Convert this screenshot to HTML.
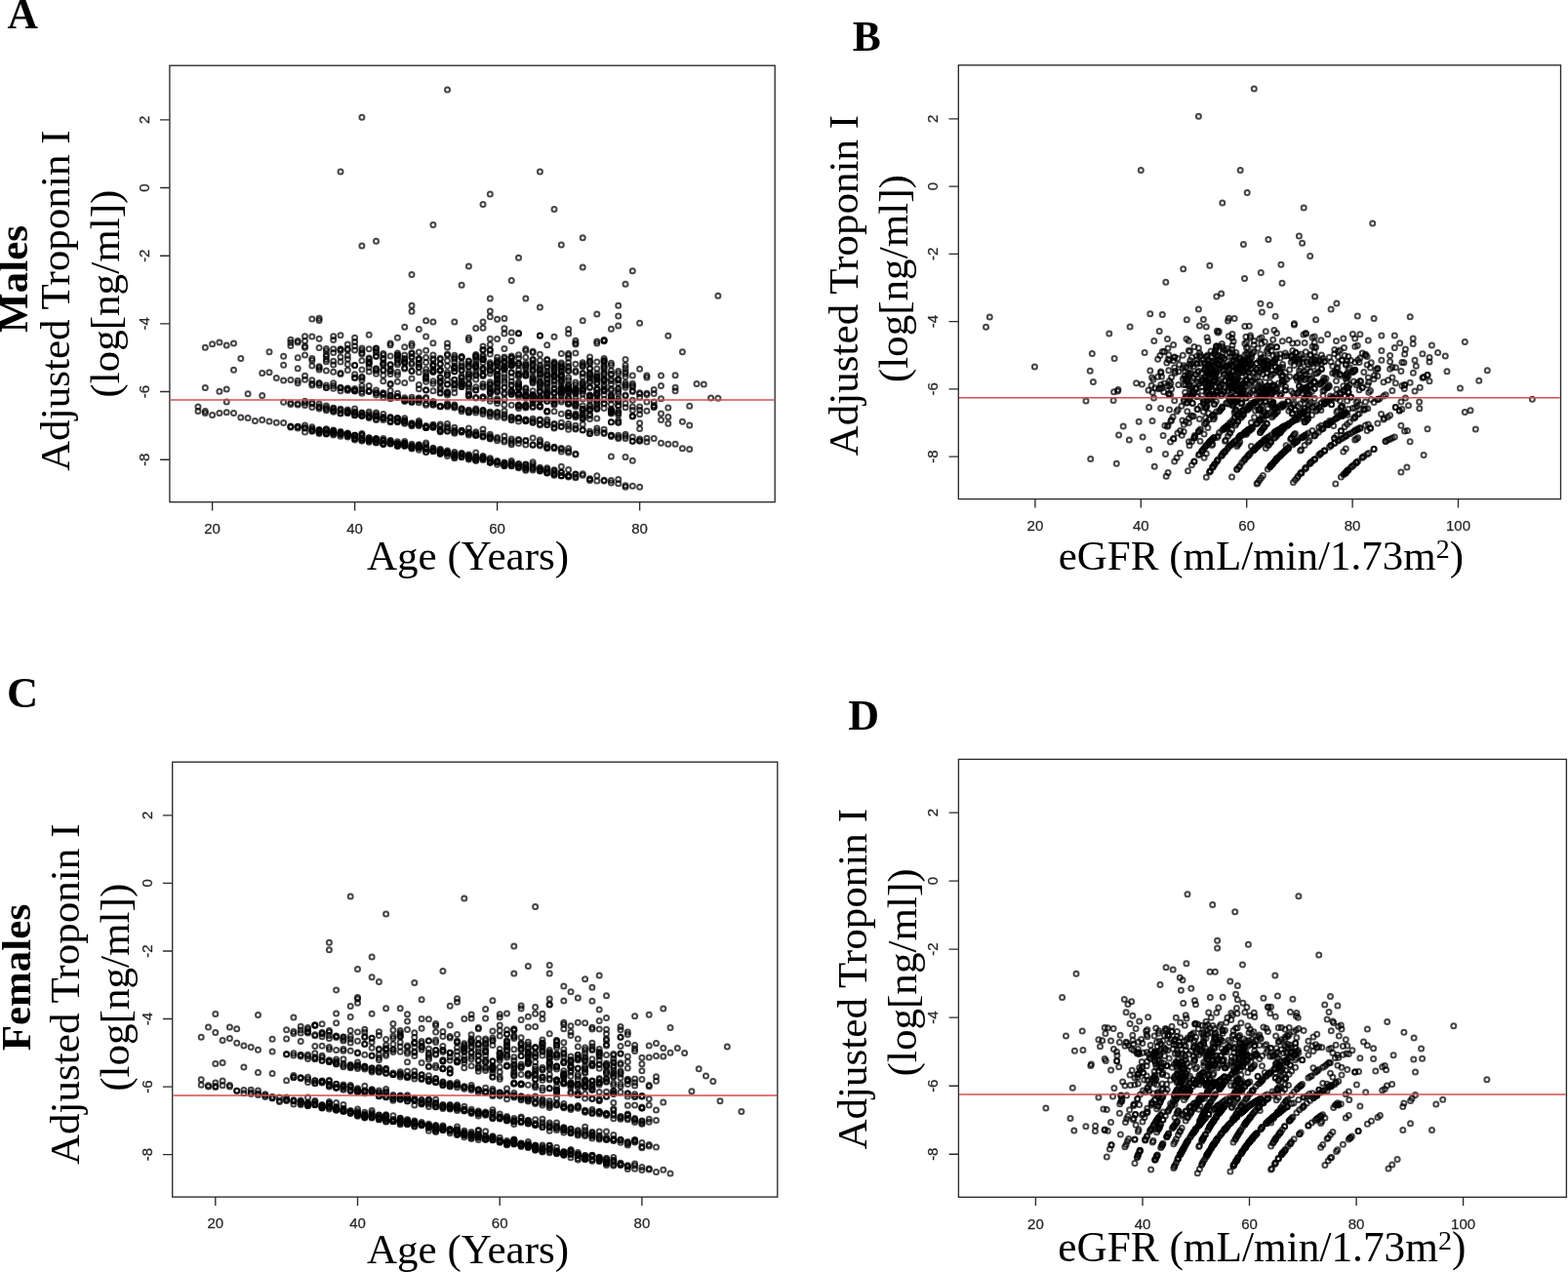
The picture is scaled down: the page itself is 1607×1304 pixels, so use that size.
<!DOCTYPE html><html><head><meta charset="utf-8"><title>Adjusted Troponin I by age and eGFR</title><style>html,body{margin:0;padding:0;background:#fff;overflow:hidden}svg{display:block}.tk{font-family:"Liberation Sans", Arial, Helvetica, sans-serif;font-size:15px;fill:#262626;stroke:#262626;stroke-width:0.25px}.tt{font-family:"Liberation Serif", "Times New Roman", Times, serif;font-size:43.1px;fill:#000}.ttb{font-family:"Liberation Serif", "Times New Roman", Times, serif;font-size:43px;font-weight:bold;fill:#000}.lab{font-family:"Liberation Serif", "Times New Roman", Times, serif;font-weight:bold;fill:#000}.ax{stroke:#2b2b2b;stroke-width:1.35;fill:none}.pt circle{r:2.5px;fill:none;stroke:#000;stroke-opacity:0.72;stroke-width:2.0}</style></head><body><svg width="1607" height="1304" viewBox="0 0 1607 1304">
<text x="7.6" y="28.9" class="lab" style="font-size:43.5px">A</text>
<text transform="translate(71.2 483.0) rotate(-90)" class="tt">Adjusted Troponin I</text>
<text transform="translate(122.4 407.7) rotate(-90)" class="tt">(log[ng/ml])</text>
<text transform="translate(27.9 340.9) rotate(-90)" class="ttb">Males</text>
<text x="376.0" y="584.1" class="tt" style="font-size:43.0px">Age (Years)</text>
<rect x="173.9" y="67.2" width="620.3" height="447.5" class="ax" fill="none"/>
<text x="217.6" y="546.7" class="tk" text-anchor="middle">20</text>
<text x="363.6" y="546.7" class="tk" text-anchor="middle">40</text>
<text x="509.6" y="546.7" class="tk" text-anchor="middle">60</text>
<text x="655.6" y="546.7" class="tk" text-anchor="middle">80</text>
<text transform="translate(152.7 122.8) rotate(-90)" class="tk" text-anchor="middle">2</text>
<text transform="translate(152.7 192.5) rotate(-90)" class="tk" text-anchor="middle">0</text>
<text transform="translate(152.7 262.2) rotate(-90)" class="tk" text-anchor="middle">-2</text>
<text transform="translate(152.7 331.9) rotate(-90)" class="tk" text-anchor="middle">-4</text>
<text transform="translate(152.7 401.5) rotate(-90)" class="tk" text-anchor="middle">-6</text>
<text transform="translate(152.7 471.2) rotate(-90)" class="tk" text-anchor="middle">-8</text>
<path d="M217.6 514.7V523.5M363.6 514.7V523.5M509.6 514.7V523.5M655.6 514.7V523.5M164.1 122.8H173.9M164.1 192.5H173.9M164.1 262.2H173.9M164.1 331.9H173.9M164.1 401.5H173.9M164.1 471.2H173.9" class="ax"/>
<g class="pt"><circle cx="203.0" cy="417.1"/><circle cx="203.0" cy="421.5"/><circle cx="210.3" cy="423.5"/><circle cx="210.3" cy="421.5"/><circle cx="210.3" cy="397.4"/><circle cx="217.6" cy="425.4"/><circle cx="217.6" cy="352.8"/><circle cx="224.9" cy="423.4"/><circle cx="224.9" cy="401.2"/><circle cx="224.9" cy="351.0"/><circle cx="232.2" cy="422.7"/><circle cx="232.2" cy="399.1"/><circle cx="232.2" cy="354.0"/><circle cx="239.5" cy="423.6"/><circle cx="239.5" cy="379.3"/><circle cx="239.5" cy="352.1"/><circle cx="246.8" cy="428.1"/><circle cx="246.8" cy="367.6"/><circle cx="254.1" cy="428.4"/><circle cx="254.1" cy="403.7"/><circle cx="261.4" cy="431.6"/><circle cx="268.7" cy="430.5"/><circle cx="268.7" cy="405.4"/><circle cx="276.0" cy="432.1"/><circle cx="276.0" cy="381.7"/><circle cx="276.0" cy="360.8"/><circle cx="283.3" cy="433.3"/><circle cx="283.3" cy="387.5"/><circle cx="290.6" cy="433.4"/><circle cx="290.6" cy="412.3"/><circle cx="290.6" cy="389.9"/><circle cx="290.6" cy="365.3"/><circle cx="290.6" cy="374.3"/><circle cx="297.9" cy="437.9"/><circle cx="297.9" cy="437.1"/><circle cx="297.9" cy="437.4"/><circle cx="297.9" cy="413.1"/><circle cx="297.9" cy="414.6"/><circle cx="297.9" cy="389.6"/><circle cx="297.9" cy="351.3"/><circle cx="297.9" cy="354.6"/><circle cx="297.9" cy="348.3"/><circle cx="305.2" cy="437.3"/><circle cx="305.2" cy="437.4"/><circle cx="305.2" cy="437.6"/><circle cx="305.2" cy="438.9"/><circle cx="305.2" cy="414.9"/><circle cx="305.2" cy="413.7"/><circle cx="305.2" cy="390.2"/><circle cx="305.2" cy="392.8"/><circle cx="305.2" cy="350.9"/><circle cx="305.2" cy="349.6"/><circle cx="305.2" cy="366.7"/><circle cx="305.2" cy="377.8"/><circle cx="312.5" cy="438.6"/><circle cx="312.5" cy="436.1"/><circle cx="312.5" cy="442.9"/><circle cx="312.5" cy="439.1"/><circle cx="312.5" cy="415.6"/><circle cx="312.5" cy="413.0"/><circle cx="312.5" cy="411.3"/><circle cx="312.5" cy="389.2"/><circle cx="312.5" cy="385.2"/><circle cx="312.5" cy="344.7"/><circle cx="312.5" cy="356.3"/><circle cx="312.5" cy="363.9"/><circle cx="312.5" cy="355.0"/><circle cx="312.5" cy="349.4"/><circle cx="319.8" cy="437.8"/><circle cx="319.8" cy="439.5"/><circle cx="319.8" cy="440.8"/><circle cx="319.8" cy="442.2"/><circle cx="319.8" cy="441.5"/><circle cx="319.8" cy="412.5"/><circle cx="319.8" cy="417.5"/><circle cx="319.8" cy="413.9"/><circle cx="319.8" cy="394.9"/><circle cx="319.8" cy="389.8"/><circle cx="319.8" cy="393.2"/><circle cx="319.8" cy="345.1"/><circle cx="319.8" cy="369.4"/><circle cx="319.8" cy="327.0"/><circle cx="319.8" cy="367.4"/><circle cx="319.8" cy="374.9"/><circle cx="327.1" cy="444.4"/><circle cx="327.1" cy="440.6"/><circle cx="327.1" cy="440.9"/><circle cx="327.1" cy="441.2"/><circle cx="327.1" cy="441.2"/><circle cx="327.1" cy="443.5"/><circle cx="327.1" cy="442.7"/><circle cx="327.1" cy="416.8"/><circle cx="327.1" cy="413.9"/><circle cx="327.1" cy="419.1"/><circle cx="327.1" cy="417.6"/><circle cx="327.1" cy="395.0"/><circle cx="327.1" cy="392.7"/><circle cx="327.1" cy="393.0"/><circle cx="327.1" cy="379.0"/><circle cx="327.1" cy="326.2"/><circle cx="327.1" cy="356.6"/><circle cx="327.1" cy="375.8"/><circle cx="327.1" cy="347.2"/><circle cx="327.1" cy="328.4"/><circle cx="327.1" cy="376.9"/><circle cx="334.4" cy="440.0"/><circle cx="334.4" cy="439.9"/><circle cx="334.4" cy="441.1"/><circle cx="334.4" cy="444.5"/><circle cx="334.4" cy="444.2"/><circle cx="334.4" cy="442.5"/><circle cx="334.4" cy="445.1"/><circle cx="334.4" cy="418.1"/><circle cx="334.4" cy="416.1"/><circle cx="334.4" cy="419.3"/><circle cx="334.4" cy="420.7"/><circle cx="334.4" cy="395.0"/><circle cx="334.4" cy="397.3"/><circle cx="334.4" cy="397.5"/><circle cx="334.4" cy="370.8"/><circle cx="334.4" cy="379.9"/><circle cx="334.4" cy="368.6"/><circle cx="334.4" cy="363.4"/><circle cx="334.4" cy="359.7"/><circle cx="334.4" cy="365.6"/><circle cx="334.4" cy="357.6"/><circle cx="341.7" cy="444.5"/><circle cx="341.7" cy="441.6"/><circle cx="341.7" cy="442.4"/><circle cx="341.7" cy="443.3"/><circle cx="341.7" cy="441.1"/><circle cx="341.7" cy="443.9"/><circle cx="341.7" cy="445.9"/><circle cx="341.7" cy="418.8"/><circle cx="341.7" cy="418.2"/><circle cx="341.7" cy="420.5"/><circle cx="341.7" cy="421.3"/><circle cx="341.7" cy="422.2"/><circle cx="341.7" cy="395.5"/><circle cx="341.7" cy="392.8"/><circle cx="341.7" cy="398.2"/><circle cx="341.7" cy="357.7"/><circle cx="341.7" cy="370.2"/><circle cx="341.7" cy="373.9"/><circle cx="341.7" cy="381.2"/><circle cx="341.7" cy="344.8"/><circle cx="341.7" cy="348.4"/><circle cx="341.7" cy="361.5"/><circle cx="349.0" cy="445.1"/><circle cx="349.0" cy="445.1"/><circle cx="349.0" cy="443.6"/><circle cx="349.0" cy="443.4"/><circle cx="349.0" cy="444.9"/><circle cx="349.0" cy="442.6"/><circle cx="349.0" cy="445.0"/><circle cx="349.0" cy="447.3"/><circle cx="349.0" cy="423.6"/><circle cx="349.0" cy="420.3"/><circle cx="349.0" cy="419.3"/><circle cx="349.0" cy="423.9"/><circle cx="349.0" cy="420.9"/><circle cx="349.0" cy="397.6"/><circle cx="349.0" cy="400.8"/><circle cx="349.0" cy="397.8"/><circle cx="349.0" cy="397.4"/><circle cx="349.0" cy="365.9"/><circle cx="349.0" cy="343.8"/><circle cx="349.0" cy="359.5"/><circle cx="349.0" cy="371.0"/><circle cx="349.0" cy="382.4"/><circle cx="349.0" cy="383.6"/><circle cx="349.0" cy="358.1"/><circle cx="349.0" cy="358.1"/><circle cx="356.3" cy="446.0"/><circle cx="356.3" cy="447.1"/><circle cx="356.3" cy="445.8"/><circle cx="356.3" cy="444.8"/><circle cx="356.3" cy="444.8"/><circle cx="356.3" cy="446.3"/><circle cx="356.3" cy="448.1"/><circle cx="356.3" cy="444.0"/><circle cx="356.3" cy="419.9"/><circle cx="356.3" cy="423.4"/><circle cx="356.3" cy="421.8"/><circle cx="356.3" cy="423.2"/><circle cx="356.3" cy="422.4"/><circle cx="356.3" cy="421.6"/><circle cx="356.3" cy="398.7"/><circle cx="356.3" cy="398.1"/><circle cx="356.3" cy="399.6"/><circle cx="356.3" cy="400.3"/><circle cx="356.3" cy="373.5"/><circle cx="356.3" cy="364.6"/><circle cx="356.3" cy="368.0"/><circle cx="356.3" cy="357.6"/><circle cx="356.3" cy="352.9"/><circle cx="356.3" cy="358.8"/><circle cx="356.3" cy="379.6"/><circle cx="363.6" cy="446.3"/><circle cx="363.6" cy="449.5"/><circle cx="363.6" cy="450.9"/><circle cx="363.6" cy="446.5"/><circle cx="363.6" cy="446.6"/><circle cx="363.6" cy="446.2"/><circle cx="363.6" cy="449.8"/><circle cx="363.6" cy="448.5"/><circle cx="363.6" cy="425.7"/><circle cx="363.6" cy="422.9"/><circle cx="363.6" cy="425.7"/><circle cx="363.6" cy="422.0"/><circle cx="363.6" cy="419.0"/><circle cx="363.6" cy="424.0"/><circle cx="363.6" cy="398.4"/><circle cx="363.6" cy="400.2"/><circle cx="363.6" cy="400.4"/><circle cx="363.6" cy="400.9"/><circle cx="363.6" cy="400.1"/><circle cx="363.6" cy="374.6"/><circle cx="363.6" cy="383.7"/><circle cx="363.6" cy="374.6"/><circle cx="363.6" cy="354.7"/><circle cx="363.6" cy="386.9"/><circle cx="363.6" cy="346.2"/><circle cx="363.6" cy="359.0"/><circle cx="363.6" cy="387.4"/><circle cx="363.6" cy="350.6"/><circle cx="370.9" cy="446.5"/><circle cx="370.9" cy="449.6"/><circle cx="370.9" cy="444.4"/><circle cx="370.9" cy="451.2"/><circle cx="370.9" cy="445.5"/><circle cx="370.9" cy="449.7"/><circle cx="370.9" cy="448.7"/><circle cx="370.9" cy="452.0"/><circle cx="370.9" cy="426.3"/><circle cx="370.9" cy="425.5"/><circle cx="370.9" cy="423.3"/><circle cx="370.9" cy="423.3"/><circle cx="370.9" cy="426.2"/><circle cx="370.9" cy="426.3"/><circle cx="370.9" cy="398.7"/><circle cx="370.9" cy="403.3"/><circle cx="370.9" cy="401.5"/><circle cx="370.9" cy="395.6"/><circle cx="370.9" cy="387.1"/><circle cx="370.9" cy="386.6"/><circle cx="370.9" cy="389.5"/><circle cx="370.9" cy="379.1"/><circle cx="370.9" cy="358.9"/><circle cx="370.9" cy="369.7"/><circle cx="370.9" cy="357.1"/><circle cx="370.9" cy="363.1"/><circle cx="370.9" cy="361.8"/><circle cx="378.2" cy="452.3"/><circle cx="378.2" cy="451.0"/><circle cx="378.2" cy="453.2"/><circle cx="378.2" cy="450.4"/><circle cx="378.2" cy="448.8"/><circle cx="378.2" cy="451.2"/><circle cx="378.2" cy="451.2"/><circle cx="378.2" cy="448.9"/><circle cx="378.2" cy="427.6"/><circle cx="378.2" cy="427.0"/><circle cx="378.2" cy="428.6"/><circle cx="378.2" cy="426.5"/><circle cx="378.2" cy="422.3"/><circle cx="378.2" cy="424.4"/><circle cx="378.2" cy="400.9"/><circle cx="378.2" cy="401.6"/><circle cx="378.2" cy="395.5"/><circle cx="378.2" cy="400.4"/><circle cx="378.2" cy="370.8"/><circle cx="378.2" cy="372.1"/><circle cx="378.2" cy="367.9"/><circle cx="378.2" cy="366.9"/><circle cx="378.2" cy="380.9"/><circle cx="378.2" cy="373.2"/><circle cx="378.2" cy="371.5"/><circle cx="378.2" cy="343.3"/><circle cx="378.2" cy="357.7"/><circle cx="378.2" cy="376.4"/><circle cx="385.5" cy="450.0"/><circle cx="385.5" cy="449.8"/><circle cx="385.5" cy="453.6"/><circle cx="385.5" cy="450.0"/><circle cx="385.5" cy="451.3"/><circle cx="385.5" cy="452.0"/><circle cx="385.5" cy="450.1"/><circle cx="385.5" cy="454.1"/><circle cx="385.5" cy="429.4"/><circle cx="385.5" cy="426.5"/><circle cx="385.5" cy="430.4"/><circle cx="385.5" cy="424.8"/><circle cx="385.5" cy="422.9"/><circle cx="385.5" cy="427.1"/><circle cx="385.5" cy="402.7"/><circle cx="385.5" cy="399.9"/><circle cx="385.5" cy="403.1"/><circle cx="385.5" cy="405.0"/><circle cx="385.5" cy="361.3"/><circle cx="385.5" cy="364.8"/><circle cx="385.5" cy="357.1"/><circle cx="385.5" cy="357.3"/><circle cx="385.5" cy="365.5"/><circle cx="385.5" cy="380.2"/><circle cx="385.5" cy="383.3"/><circle cx="385.5" cy="359.5"/><circle cx="385.5" cy="378.6"/><circle cx="385.5" cy="377.8"/><circle cx="392.8" cy="452.1"/><circle cx="392.8" cy="451.8"/><circle cx="392.8" cy="455.3"/><circle cx="392.8" cy="455.0"/><circle cx="392.8" cy="454.6"/><circle cx="392.8" cy="449.5"/><circle cx="392.8" cy="451.2"/><circle cx="392.8" cy="455.6"/><circle cx="392.8" cy="428.3"/><circle cx="392.8" cy="429.0"/><circle cx="392.8" cy="424.5"/><circle cx="392.8" cy="428.4"/><circle cx="392.8" cy="427.6"/><circle cx="392.8" cy="430.6"/><circle cx="392.8" cy="402.9"/><circle cx="392.8" cy="403.0"/><circle cx="392.8" cy="407.4"/><circle cx="392.8" cy="404.4"/><circle cx="392.8" cy="403.9"/><circle cx="392.8" cy="390.8"/><circle cx="392.8" cy="373.0"/><circle cx="392.8" cy="379.7"/><circle cx="392.8" cy="379.2"/><circle cx="392.8" cy="384.7"/><circle cx="392.8" cy="362.6"/><circle cx="392.8" cy="364.1"/><circle cx="392.8" cy="367.3"/><circle cx="392.8" cy="371.9"/><circle cx="392.8" cy="374.5"/><circle cx="392.8" cy="368.3"/><circle cx="400.1" cy="455.0"/><circle cx="400.1" cy="454.1"/><circle cx="400.1" cy="451.5"/><circle cx="400.1" cy="454.2"/><circle cx="400.1" cy="454.7"/><circle cx="400.1" cy="453.5"/><circle cx="400.1" cy="451.9"/><circle cx="400.1" cy="453.9"/><circle cx="400.1" cy="431.9"/><circle cx="400.1" cy="432.7"/><circle cx="400.1" cy="428.5"/><circle cx="400.1" cy="428.8"/><circle cx="400.1" cy="431.7"/><circle cx="400.1" cy="427.6"/><circle cx="400.1" cy="408.8"/><circle cx="400.1" cy="405.8"/><circle cx="400.1" cy="407.4"/><circle cx="400.1" cy="400.4"/><circle cx="400.1" cy="405.5"/><circle cx="400.1" cy="393.2"/><circle cx="400.1" cy="394.3"/><circle cx="400.1" cy="351.9"/><circle cx="400.1" cy="353.8"/><circle cx="400.1" cy="380.5"/><circle cx="400.1" cy="378.3"/><circle cx="400.1" cy="365.0"/><circle cx="400.1" cy="380.2"/><circle cx="400.1" cy="373.7"/><circle cx="400.1" cy="373.9"/><circle cx="400.1" cy="383.5"/><circle cx="407.4" cy="457.4"/><circle cx="407.4" cy="455.1"/><circle cx="407.4" cy="456.4"/><circle cx="407.4" cy="456.0"/><circle cx="407.4" cy="455.0"/><circle cx="407.4" cy="452.8"/><circle cx="407.4" cy="454.4"/><circle cx="407.4" cy="457.0"/><circle cx="407.4" cy="429.1"/><circle cx="407.4" cy="429.1"/><circle cx="407.4" cy="428.5"/><circle cx="407.4" cy="431.6"/><circle cx="407.4" cy="432.7"/><circle cx="407.4" cy="432.0"/><circle cx="407.4" cy="407.0"/><circle cx="407.4" cy="406.5"/><circle cx="407.4" cy="407.2"/><circle cx="407.4" cy="403.3"/><circle cx="407.4" cy="406.9"/><circle cx="407.4" cy="373.7"/><circle cx="407.4" cy="364.1"/><circle cx="407.4" cy="346.3"/><circle cx="407.4" cy="361.9"/><circle cx="407.4" cy="384.3"/><circle cx="407.4" cy="367.2"/><circle cx="407.4" cy="365.2"/><circle cx="407.4" cy="391.3"/><circle cx="407.4" cy="364.0"/><circle cx="407.4" cy="371.7"/><circle cx="407.4" cy="381.6"/><circle cx="407.4" cy="368.9"/><circle cx="414.7" cy="454.5"/><circle cx="414.7" cy="456.4"/><circle cx="414.7" cy="457.2"/><circle cx="414.7" cy="452.6"/><circle cx="414.7" cy="454.4"/><circle cx="414.7" cy="454.5"/><circle cx="414.7" cy="455.6"/><circle cx="414.7" cy="457.0"/><circle cx="414.7" cy="431.2"/><circle cx="414.7" cy="433.2"/><circle cx="414.7" cy="431.0"/><circle cx="414.7" cy="434.3"/><circle cx="414.7" cy="432.1"/><circle cx="414.7" cy="428.8"/><circle cx="414.7" cy="409.4"/><circle cx="414.7" cy="411.5"/><circle cx="414.7" cy="409.9"/><circle cx="414.7" cy="407.8"/><circle cx="414.7" cy="410.4"/><circle cx="414.7" cy="364.0"/><circle cx="414.7" cy="367.6"/><circle cx="414.7" cy="392.5"/><circle cx="414.7" cy="371.0"/><circle cx="414.7" cy="355.8"/><circle cx="414.7" cy="376.9"/><circle cx="414.7" cy="368.6"/><circle cx="414.7" cy="378.0"/><circle cx="414.7" cy="335.2"/><circle cx="414.7" cy="372.2"/><circle cx="414.7" cy="370.7"/><circle cx="422.0" cy="457.7"/><circle cx="422.0" cy="457.7"/><circle cx="422.0" cy="459.8"/><circle cx="422.0" cy="458.9"/><circle cx="422.0" cy="456.7"/><circle cx="422.0" cy="459.7"/><circle cx="422.0" cy="455.3"/><circle cx="422.0" cy="457.4"/><circle cx="422.0" cy="435.8"/><circle cx="422.0" cy="434.7"/><circle cx="422.0" cy="434.8"/><circle cx="422.0" cy="436.8"/><circle cx="422.0" cy="435.3"/><circle cx="422.0" cy="433.7"/><circle cx="422.0" cy="407.2"/><circle cx="422.0" cy="409.4"/><circle cx="422.0" cy="411.3"/><circle cx="422.0" cy="412.2"/><circle cx="422.0" cy="412.3"/><circle cx="422.0" cy="380.5"/><circle cx="422.0" cy="354.5"/><circle cx="422.0" cy="361.8"/><circle cx="422.0" cy="372.1"/><circle cx="422.0" cy="319.3"/><circle cx="422.0" cy="365.6"/><circle cx="422.0" cy="388.0"/><circle cx="422.0" cy="362.4"/><circle cx="422.0" cy="313.3"/><circle cx="422.0" cy="380.2"/><circle cx="422.0" cy="366.4"/><circle cx="422.0" cy="373.6"/><circle cx="422.0" cy="352.3"/><circle cx="429.3" cy="459.1"/><circle cx="429.3" cy="458.8"/><circle cx="429.3" cy="455.8"/><circle cx="429.3" cy="456.4"/><circle cx="429.3" cy="457.9"/><circle cx="429.3" cy="461.3"/><circle cx="429.3" cy="457.1"/><circle cx="429.3" cy="458.9"/><circle cx="429.3" cy="436.6"/><circle cx="429.3" cy="434.4"/><circle cx="429.3" cy="433.0"/><circle cx="429.3" cy="434.1"/><circle cx="429.3" cy="435.8"/><circle cx="429.3" cy="431.5"/><circle cx="429.3" cy="410.6"/><circle cx="429.3" cy="412.8"/><circle cx="429.3" cy="408.1"/><circle cx="429.3" cy="409.9"/><circle cx="429.3" cy="408.5"/><circle cx="429.3" cy="394.6"/><circle cx="429.3" cy="337.4"/><circle cx="429.3" cy="361.0"/><circle cx="429.3" cy="376.6"/><circle cx="429.3" cy="376.6"/><circle cx="429.3" cy="373.7"/><circle cx="429.3" cy="368.7"/><circle cx="429.3" cy="367.6"/><circle cx="429.3" cy="381.7"/><circle cx="429.3" cy="372.3"/><circle cx="429.3" cy="368.0"/><circle cx="429.3" cy="398.7"/><circle cx="436.6" cy="458.4"/><circle cx="436.6" cy="463.5"/><circle cx="436.6" cy="459.9"/><circle cx="436.6" cy="453.9"/><circle cx="436.6" cy="460.6"/><circle cx="436.6" cy="463.2"/><circle cx="436.6" cy="459.3"/><circle cx="436.6" cy="455.9"/><circle cx="436.6" cy="436.4"/><circle cx="436.6" cy="437.7"/><circle cx="436.6" cy="438.5"/><circle cx="436.6" cy="437.9"/><circle cx="436.6" cy="438.4"/><circle cx="436.6" cy="438.1"/><circle cx="436.6" cy="413.7"/><circle cx="436.6" cy="407.4"/><circle cx="436.6" cy="415.2"/><circle cx="436.6" cy="408.4"/><circle cx="436.6" cy="387.1"/><circle cx="436.6" cy="366.5"/><circle cx="436.6" cy="371.6"/><circle cx="436.6" cy="391.2"/><circle cx="436.6" cy="400.1"/><circle cx="436.6" cy="385.0"/><circle cx="436.6" cy="399.8"/><circle cx="436.6" cy="328.7"/><circle cx="436.6" cy="345.1"/><circle cx="436.6" cy="388.6"/><circle cx="436.6" cy="386.8"/><circle cx="436.6" cy="381.4"/><circle cx="436.6" cy="359.3"/><circle cx="443.9" cy="462.3"/><circle cx="443.9" cy="462.8"/><circle cx="443.9" cy="462.3"/><circle cx="443.9" cy="460.0"/><circle cx="443.9" cy="459.3"/><circle cx="443.9" cy="461.4"/><circle cx="443.9" cy="462.3"/><circle cx="443.9" cy="435.2"/><circle cx="443.9" cy="438.1"/><circle cx="443.9" cy="436.2"/><circle cx="443.9" cy="437.0"/><circle cx="443.9" cy="437.5"/><circle cx="443.9" cy="438.3"/><circle cx="443.9" cy="413.9"/><circle cx="443.9" cy="415.3"/><circle cx="443.9" cy="411.7"/><circle cx="443.9" cy="412.0"/><circle cx="443.9" cy="414.2"/><circle cx="443.9" cy="373.5"/><circle cx="443.9" cy="393.3"/><circle cx="443.9" cy="367.7"/><circle cx="443.9" cy="351.7"/><circle cx="443.9" cy="329.9"/><circle cx="443.9" cy="364.1"/><circle cx="443.9" cy="381.3"/><circle cx="443.9" cy="381.3"/><circle cx="443.9" cy="400.7"/><circle cx="443.9" cy="375.1"/><circle cx="443.9" cy="390.7"/><circle cx="443.9" cy="368.9"/><circle cx="443.9" cy="380.6"/><circle cx="443.9" cy="379.1"/><circle cx="443.9" cy="375.0"/><circle cx="451.2" cy="465.2"/><circle cx="451.2" cy="464.1"/><circle cx="451.2" cy="462.7"/><circle cx="451.2" cy="460.4"/><circle cx="451.2" cy="461.3"/><circle cx="451.2" cy="464.9"/><circle cx="451.2" cy="465.1"/><circle cx="451.2" cy="462.7"/><circle cx="451.2" cy="435.0"/><circle cx="451.2" cy="442.1"/><circle cx="451.2" cy="441.5"/><circle cx="451.2" cy="436.8"/><circle cx="451.2" cy="442.7"/><circle cx="451.2" cy="440.0"/><circle cx="451.2" cy="416.8"/><circle cx="451.2" cy="416.5"/><circle cx="451.2" cy="416.7"/><circle cx="451.2" cy="416.2"/><circle cx="451.2" cy="416.5"/><circle cx="451.2" cy="386.9"/><circle cx="451.2" cy="373.1"/><circle cx="451.2" cy="398.9"/><circle cx="451.2" cy="373.2"/><circle cx="451.2" cy="390.3"/><circle cx="451.2" cy="379.5"/><circle cx="451.2" cy="396.9"/><circle cx="451.2" cy="392.4"/><circle cx="451.2" cy="402.6"/><circle cx="451.2" cy="380.3"/><circle cx="451.2" cy="367.2"/><circle cx="451.2" cy="368.3"/><circle cx="451.2" cy="403.2"/><circle cx="451.2" cy="379.0"/><circle cx="451.2" cy="391.4"/><circle cx="451.2" cy="387.0"/><circle cx="458.5" cy="463.7"/><circle cx="458.5" cy="463.2"/><circle cx="458.5" cy="464.9"/><circle cx="458.5" cy="467.5"/><circle cx="458.5" cy="464.2"/><circle cx="458.5" cy="464.3"/><circle cx="458.5" cy="462.1"/><circle cx="458.5" cy="465.0"/><circle cx="458.5" cy="437.5"/><circle cx="458.5" cy="439.2"/><circle cx="458.5" cy="441.9"/><circle cx="458.5" cy="434.4"/><circle cx="458.5" cy="442.1"/><circle cx="458.5" cy="415.4"/><circle cx="458.5" cy="413.4"/><circle cx="458.5" cy="415.6"/><circle cx="458.5" cy="417.1"/><circle cx="458.5" cy="355.9"/><circle cx="458.5" cy="389.6"/><circle cx="458.5" cy="394.3"/><circle cx="458.5" cy="405.0"/><circle cx="458.5" cy="369.7"/><circle cx="458.5" cy="381.7"/><circle cx="458.5" cy="384.5"/><circle cx="458.5" cy="383.9"/><circle cx="458.5" cy="403.4"/><circle cx="458.5" cy="393.8"/><circle cx="458.5" cy="351.9"/><circle cx="458.5" cy="401.8"/><circle cx="458.5" cy="375.2"/><circle cx="458.5" cy="402.6"/><circle cx="458.5" cy="364.3"/><circle cx="458.5" cy="402.4"/><circle cx="458.5" cy="363.0"/><circle cx="465.8" cy="466.4"/><circle cx="465.8" cy="468.8"/><circle cx="465.8" cy="465.0"/><circle cx="465.8" cy="469.7"/><circle cx="465.8" cy="466.5"/><circle cx="465.8" cy="463.4"/><circle cx="465.8" cy="467.4"/><circle cx="465.8" cy="443.1"/><circle cx="465.8" cy="444.3"/><circle cx="465.8" cy="438.2"/><circle cx="465.8" cy="442.0"/><circle cx="465.8" cy="441.1"/><circle cx="465.8" cy="416.1"/><circle cx="465.8" cy="418.1"/><circle cx="465.8" cy="416.9"/><circle cx="465.8" cy="415.0"/><circle cx="465.8" cy="366.5"/><circle cx="465.8" cy="376.5"/><circle cx="465.8" cy="371.0"/><circle cx="465.8" cy="389.2"/><circle cx="465.8" cy="375.3"/><circle cx="465.8" cy="329.9"/><circle cx="465.8" cy="381.1"/><circle cx="465.8" cy="395.0"/><circle cx="465.8" cy="364.2"/><circle cx="465.8" cy="389.5"/><circle cx="465.8" cy="402.8"/><circle cx="465.8" cy="367.9"/><circle cx="465.8" cy="394.6"/><circle cx="465.8" cy="392.9"/><circle cx="465.8" cy="380.7"/><circle cx="465.8" cy="377.8"/><circle cx="465.8" cy="397.9"/><circle cx="465.8" cy="377.6"/><circle cx="473.1" cy="465.5"/><circle cx="473.1" cy="464.8"/><circle cx="473.1" cy="465.8"/><circle cx="473.1" cy="467.6"/><circle cx="473.1" cy="468.7"/><circle cx="473.1" cy="464.8"/><circle cx="473.1" cy="468.2"/><circle cx="473.1" cy="443.1"/><circle cx="473.1" cy="441.6"/><circle cx="473.1" cy="442.7"/><circle cx="473.1" cy="441.3"/><circle cx="473.1" cy="441.7"/><circle cx="473.1" cy="420.0"/><circle cx="473.1" cy="419.0"/><circle cx="473.1" cy="421.8"/><circle cx="473.1" cy="418.9"/><circle cx="473.1" cy="394.2"/><circle cx="473.1" cy="375.9"/><circle cx="473.1" cy="366.1"/><circle cx="473.1" cy="394.8"/><circle cx="473.1" cy="365.6"/><circle cx="473.1" cy="396.6"/><circle cx="473.1" cy="385.4"/><circle cx="473.1" cy="393.3"/><circle cx="473.1" cy="387.3"/><circle cx="473.1" cy="391.6"/><circle cx="473.1" cy="379.1"/><circle cx="473.1" cy="387.5"/><circle cx="473.1" cy="396.4"/><circle cx="473.1" cy="392.7"/><circle cx="473.1" cy="391.1"/><circle cx="473.1" cy="380.0"/><circle cx="473.1" cy="372.3"/><circle cx="473.1" cy="374.9"/><circle cx="473.1" cy="366.7"/><circle cx="480.4" cy="466.0"/><circle cx="480.4" cy="470.9"/><circle cx="480.4" cy="468.7"/><circle cx="480.4" cy="470.0"/><circle cx="480.4" cy="467.1"/><circle cx="480.4" cy="469.2"/><circle cx="480.4" cy="467.6"/><circle cx="480.4" cy="442.9"/><circle cx="480.4" cy="444.7"/><circle cx="480.4" cy="443.5"/><circle cx="480.4" cy="439.1"/><circle cx="480.4" cy="446.0"/><circle cx="480.4" cy="421.2"/><circle cx="480.4" cy="422.6"/><circle cx="480.4" cy="423.0"/><circle cx="480.4" cy="420.3"/><circle cx="480.4" cy="396.7"/><circle cx="480.4" cy="388.3"/><circle cx="480.4" cy="346.2"/><circle cx="480.4" cy="393.4"/><circle cx="480.4" cy="348.4"/><circle cx="480.4" cy="393.7"/><circle cx="480.4" cy="404.6"/><circle cx="480.4" cy="370.5"/><circle cx="480.4" cy="403.9"/><circle cx="480.4" cy="381.5"/><circle cx="480.4" cy="386.6"/><circle cx="480.4" cy="383.7"/><circle cx="480.4" cy="405.4"/><circle cx="480.4" cy="384.1"/><circle cx="480.4" cy="406.2"/><circle cx="480.4" cy="370.0"/><circle cx="480.4" cy="376.3"/><circle cx="480.4" cy="375.8"/><circle cx="480.4" cy="373.2"/><circle cx="480.4" cy="399.9"/><circle cx="487.7" cy="470.5"/><circle cx="487.7" cy="472.0"/><circle cx="487.7" cy="463.9"/><circle cx="487.7" cy="470.1"/><circle cx="487.7" cy="472.2"/><circle cx="487.7" cy="467.7"/><circle cx="487.7" cy="469.1"/><circle cx="487.7" cy="442.8"/><circle cx="487.7" cy="445.8"/><circle cx="487.7" cy="446.4"/><circle cx="487.7" cy="444.6"/><circle cx="487.7" cy="446.3"/><circle cx="487.7" cy="419.0"/><circle cx="487.7" cy="421.1"/><circle cx="487.7" cy="420.5"/><circle cx="487.7" cy="423.0"/><circle cx="487.7" cy="384.0"/><circle cx="487.7" cy="396.7"/><circle cx="487.7" cy="365.4"/><circle cx="487.7" cy="384.9"/><circle cx="487.7" cy="389.1"/><circle cx="487.7" cy="376.0"/><circle cx="487.7" cy="377.2"/><circle cx="487.7" cy="400.1"/><circle cx="487.7" cy="366.5"/><circle cx="487.7" cy="372.7"/><circle cx="487.7" cy="375.0"/><circle cx="487.7" cy="408.1"/><circle cx="487.7" cy="363.6"/><circle cx="487.7" cy="336.6"/><circle cx="487.7" cy="369.3"/><circle cx="487.7" cy="381.7"/><circle cx="487.7" cy="364.5"/><circle cx="487.7" cy="374.9"/><circle cx="487.7" cy="407.6"/><circle cx="487.7" cy="399.7"/><circle cx="495.0" cy="468.5"/><circle cx="495.0" cy="467.6"/><circle cx="495.0" cy="470.6"/><circle cx="495.0" cy="471.5"/><circle cx="495.0" cy="469.6"/><circle cx="495.0" cy="469.7"/><circle cx="495.0" cy="470.1"/><circle cx="495.0" cy="444.3"/><circle cx="495.0" cy="446.9"/><circle cx="495.0" cy="440.0"/><circle cx="495.0" cy="447.9"/><circle cx="495.0" cy="447.0"/><circle cx="495.0" cy="424.4"/><circle cx="495.0" cy="420.6"/><circle cx="495.0" cy="422.4"/><circle cx="495.0" cy="420.7"/><circle cx="495.0" cy="354.9"/><circle cx="495.0" cy="368.5"/><circle cx="495.0" cy="406.9"/><circle cx="495.0" cy="395.7"/><circle cx="495.0" cy="379.5"/><circle cx="495.0" cy="358.8"/><circle cx="495.0" cy="378.1"/><circle cx="495.0" cy="384.6"/><circle cx="495.0" cy="368.4"/><circle cx="495.0" cy="384.0"/><circle cx="495.0" cy="385.6"/><circle cx="495.0" cy="330.0"/><circle cx="495.0" cy="364.3"/><circle cx="495.0" cy="368.7"/><circle cx="495.0" cy="397.0"/><circle cx="495.0" cy="408.3"/><circle cx="495.0" cy="365.7"/><circle cx="495.0" cy="407.0"/><circle cx="495.0" cy="336.3"/><circle cx="495.0" cy="393.6"/><circle cx="495.0" cy="358.4"/><circle cx="495.0" cy="367.9"/><circle cx="495.0" cy="371.7"/><circle cx="495.0" cy="377.5"/><circle cx="502.3" cy="469.7"/><circle cx="502.3" cy="474.2"/><circle cx="502.3" cy="472.4"/><circle cx="502.3" cy="470.9"/><circle cx="502.3" cy="474.0"/><circle cx="502.3" cy="474.0"/><circle cx="502.3" cy="447.2"/><circle cx="502.3" cy="445.3"/><circle cx="502.3" cy="448.2"/><circle cx="502.3" cy="450.0"/><circle cx="502.3" cy="449.3"/><circle cx="502.3" cy="424.6"/><circle cx="502.3" cy="423.3"/><circle cx="502.3" cy="422.3"/><circle cx="502.3" cy="426.8"/><circle cx="502.3" cy="380.1"/><circle cx="502.3" cy="391.7"/><circle cx="502.3" cy="398.9"/><circle cx="502.3" cy="393.9"/><circle cx="502.3" cy="324.8"/><circle cx="502.3" cy="353.3"/><circle cx="502.3" cy="401.0"/><circle cx="502.3" cy="380.1"/><circle cx="502.3" cy="411.3"/><circle cx="502.3" cy="371.8"/><circle cx="502.3" cy="359.2"/><circle cx="502.3" cy="403.6"/><circle cx="502.3" cy="383.0"/><circle cx="502.3" cy="401.3"/><circle cx="502.3" cy="373.4"/><circle cx="502.3" cy="358.5"/><circle cx="502.3" cy="379.4"/><circle cx="502.3" cy="408.5"/><circle cx="502.3" cy="393.9"/><circle cx="502.3" cy="376.2"/><circle cx="502.3" cy="347.2"/><circle cx="502.3" cy="402.4"/><circle cx="502.3" cy="319.1"/><circle cx="502.3" cy="374.0"/><circle cx="502.3" cy="398.1"/><circle cx="502.3" cy="363.0"/><circle cx="509.6" cy="476.2"/><circle cx="509.6" cy="474.0"/><circle cx="509.6" cy="473.7"/><circle cx="509.6" cy="472.6"/><circle cx="509.6" cy="473.6"/><circle cx="509.6" cy="473.6"/><circle cx="509.6" cy="449.7"/><circle cx="509.6" cy="451.8"/><circle cx="509.6" cy="448.5"/><circle cx="509.6" cy="425.6"/><circle cx="509.6" cy="427.5"/><circle cx="509.6" cy="422.4"/><circle cx="509.6" cy="423.2"/><circle cx="509.6" cy="371.4"/><circle cx="509.6" cy="374.5"/><circle cx="509.6" cy="379.7"/><circle cx="509.6" cy="388.7"/><circle cx="509.6" cy="413.5"/><circle cx="509.6" cy="399.7"/><circle cx="509.6" cy="380.0"/><circle cx="509.6" cy="392.4"/><circle cx="509.6" cy="383.6"/><circle cx="509.6" cy="366.2"/><circle cx="509.6" cy="384.8"/><circle cx="509.6" cy="369.3"/><circle cx="509.6" cy="410.6"/><circle cx="509.6" cy="401.8"/><circle cx="509.6" cy="347.5"/><circle cx="509.6" cy="397.2"/><circle cx="509.6" cy="390.5"/><circle cx="509.6" cy="392.9"/><circle cx="509.6" cy="371.4"/><circle cx="509.6" cy="401.2"/><circle cx="509.6" cy="386.6"/><circle cx="509.6" cy="378.5"/><circle cx="509.6" cy="372.4"/><circle cx="509.6" cy="384.1"/><circle cx="509.6" cy="410.7"/><circle cx="509.6" cy="394.2"/><circle cx="509.6" cy="408.7"/><circle cx="516.9" cy="475.5"/><circle cx="516.9" cy="477.3"/><circle cx="516.9" cy="474.0"/><circle cx="516.9" cy="477.7"/><circle cx="516.9" cy="475.0"/><circle cx="516.9" cy="476.2"/><circle cx="516.9" cy="477.0"/><circle cx="516.9" cy="447.0"/><circle cx="516.9" cy="452.9"/><circle cx="516.9" cy="451.2"/><circle cx="516.9" cy="424.7"/><circle cx="516.9" cy="427.1"/><circle cx="516.9" cy="428.4"/><circle cx="516.9" cy="421.3"/><circle cx="516.9" cy="366.1"/><circle cx="516.9" cy="375.8"/><circle cx="516.9" cy="371.8"/><circle cx="516.9" cy="376.7"/><circle cx="516.9" cy="402.8"/><circle cx="516.9" cy="415.0"/><circle cx="516.9" cy="370.8"/><circle cx="516.9" cy="370.0"/><circle cx="516.9" cy="342.1"/><circle cx="516.9" cy="390.1"/><circle cx="516.9" cy="357.6"/><circle cx="516.9" cy="397.2"/><circle cx="516.9" cy="397.2"/><circle cx="516.9" cy="378.5"/><circle cx="516.9" cy="336.7"/><circle cx="516.9" cy="371.2"/><circle cx="516.9" cy="386.7"/><circle cx="516.9" cy="376.3"/><circle cx="516.9" cy="326.5"/><circle cx="516.9" cy="392.6"/><circle cx="516.9" cy="409.5"/><circle cx="516.9" cy="378.7"/><circle cx="516.9" cy="375.5"/><circle cx="516.9" cy="383.6"/><circle cx="516.9" cy="378.3"/><circle cx="516.9" cy="403.9"/><circle cx="516.9" cy="367.6"/><circle cx="524.2" cy="475.4"/><circle cx="524.2" cy="472.4"/><circle cx="524.2" cy="476.3"/><circle cx="524.2" cy="474.2"/><circle cx="524.2" cy="477.5"/><circle cx="524.2" cy="477.8"/><circle cx="524.2" cy="455.8"/><circle cx="524.2" cy="450.0"/><circle cx="524.2" cy="454.1"/><circle cx="524.2" cy="452.1"/><circle cx="524.2" cy="430.0"/><circle cx="524.2" cy="430.7"/><circle cx="524.2" cy="427.6"/><circle cx="524.2" cy="428.0"/><circle cx="524.2" cy="366.8"/><circle cx="524.2" cy="402.7"/><circle cx="524.2" cy="401.0"/><circle cx="524.2" cy="374.9"/><circle cx="524.2" cy="370.4"/><circle cx="524.2" cy="349.5"/><circle cx="524.2" cy="415.3"/><circle cx="524.2" cy="366.8"/><circle cx="524.2" cy="386.4"/><circle cx="524.2" cy="382.1"/><circle cx="524.2" cy="403.9"/><circle cx="524.2" cy="373.4"/><circle cx="524.2" cy="401.1"/><circle cx="524.2" cy="340.9"/><circle cx="524.2" cy="366.8"/><circle cx="524.2" cy="401.2"/><circle cx="524.2" cy="364.9"/><circle cx="524.2" cy="381.8"/><circle cx="524.2" cy="404.4"/><circle cx="524.2" cy="374.5"/><circle cx="524.2" cy="401.1"/><circle cx="524.2" cy="391.2"/><circle cx="524.2" cy="371.5"/><circle cx="524.2" cy="374.1"/><circle cx="524.2" cy="394.5"/><circle cx="524.2" cy="372.3"/><circle cx="524.2" cy="395.1"/><circle cx="531.5" cy="475.9"/><circle cx="531.5" cy="478.1"/><circle cx="531.5" cy="475.4"/><circle cx="531.5" cy="478.9"/><circle cx="531.5" cy="478.0"/><circle cx="531.5" cy="479.8"/><circle cx="531.5" cy="454.5"/><circle cx="531.5" cy="451.5"/><circle cx="531.5" cy="450.6"/><circle cx="531.5" cy="431.9"/><circle cx="531.5" cy="428.2"/><circle cx="531.5" cy="429.1"/><circle cx="531.5" cy="428.5"/><circle cx="531.5" cy="372.6"/><circle cx="531.5" cy="393.5"/><circle cx="531.5" cy="404.5"/><circle cx="531.5" cy="397.8"/><circle cx="531.5" cy="372.4"/><circle cx="531.5" cy="403.4"/><circle cx="531.5" cy="395.1"/><circle cx="531.5" cy="391.9"/><circle cx="531.5" cy="341.9"/><circle cx="531.5" cy="397.9"/><circle cx="531.5" cy="383.7"/><circle cx="531.5" cy="397.4"/><circle cx="531.5" cy="418.6"/><circle cx="531.5" cy="374.7"/><circle cx="531.5" cy="403.4"/><circle cx="531.5" cy="415.0"/><circle cx="531.5" cy="385.9"/><circle cx="531.5" cy="367.0"/><circle cx="531.5" cy="404.6"/><circle cx="531.5" cy="396.3"/><circle cx="531.5" cy="363.8"/><circle cx="531.5" cy="341.6"/><circle cx="531.5" cy="406.7"/><circle cx="531.5" cy="379.3"/><circle cx="531.5" cy="416.6"/><circle cx="531.5" cy="415.8"/><circle cx="531.5" cy="415.7"/><circle cx="531.5" cy="383.1"/><circle cx="531.5" cy="384.6"/><circle cx="538.8" cy="479.5"/><circle cx="538.8" cy="482.3"/><circle cx="538.8" cy="477.6"/><circle cx="538.8" cy="476.3"/><circle cx="538.8" cy="476.0"/><circle cx="538.8" cy="479.4"/><circle cx="538.8" cy="481.2"/><circle cx="538.8" cy="451.6"/><circle cx="538.8" cy="455.9"/><circle cx="538.8" cy="452.0"/><circle cx="538.8" cy="431.4"/><circle cx="538.8" cy="431.7"/><circle cx="538.8" cy="430.6"/><circle cx="538.8" cy="430.0"/><circle cx="538.8" cy="418.0"/><circle cx="538.8" cy="405.5"/><circle cx="538.8" cy="405.7"/><circle cx="538.8" cy="372.2"/><circle cx="538.8" cy="374.4"/><circle cx="538.8" cy="407.4"/><circle cx="538.8" cy="405.9"/><circle cx="538.8" cy="359.5"/><circle cx="538.8" cy="417.1"/><circle cx="538.8" cy="384.8"/><circle cx="538.8" cy="398.8"/><circle cx="538.8" cy="406.7"/><circle cx="538.8" cy="414.4"/><circle cx="538.8" cy="385.3"/><circle cx="538.8" cy="415.9"/><circle cx="538.8" cy="382.3"/><circle cx="538.8" cy="416.6"/><circle cx="538.8" cy="374.3"/><circle cx="538.8" cy="405.4"/><circle cx="538.8" cy="401.3"/><circle cx="538.8" cy="357.8"/><circle cx="538.8" cy="384.4"/><circle cx="538.8" cy="404.9"/><circle cx="538.8" cy="377.6"/><circle cx="538.8" cy="376.1"/><circle cx="538.8" cy="404.7"/><circle cx="538.8" cy="382.9"/><circle cx="538.8" cy="366.2"/><circle cx="538.8" cy="415.9"/><circle cx="538.8" cy="397.7"/><circle cx="546.1" cy="476.1"/><circle cx="546.1" cy="482.1"/><circle cx="546.1" cy="478.4"/><circle cx="546.1" cy="480.3"/><circle cx="546.1" cy="480.2"/><circle cx="546.1" cy="473.7"/><circle cx="546.1" cy="448.9"/><circle cx="546.1" cy="456.1"/><circle cx="546.1" cy="456.3"/><circle cx="546.1" cy="433.1"/><circle cx="546.1" cy="433.3"/><circle cx="546.1" cy="431.2"/><circle cx="546.1" cy="429.3"/><circle cx="546.1" cy="404.8"/><circle cx="546.1" cy="361.6"/><circle cx="546.1" cy="410.8"/><circle cx="546.1" cy="410.0"/><circle cx="546.1" cy="368.9"/><circle cx="546.1" cy="392.8"/><circle cx="546.1" cy="388.0"/><circle cx="546.1" cy="416.5"/><circle cx="546.1" cy="405.1"/><circle cx="546.1" cy="405.0"/><circle cx="546.1" cy="406.7"/><circle cx="546.1" cy="413.5"/><circle cx="546.1" cy="417.5"/><circle cx="546.1" cy="408.5"/><circle cx="546.1" cy="379.3"/><circle cx="546.1" cy="386.5"/><circle cx="546.1" cy="409.8"/><circle cx="546.1" cy="378.9"/><circle cx="546.1" cy="406.9"/><circle cx="546.1" cy="391.5"/><circle cx="546.1" cy="368.6"/><circle cx="546.1" cy="407.6"/><circle cx="546.1" cy="360.3"/><circle cx="546.1" cy="375.3"/><circle cx="546.1" cy="381.0"/><circle cx="546.1" cy="373.8"/><circle cx="546.1" cy="372.1"/><circle cx="546.1" cy="388.9"/><circle cx="546.1" cy="390.2"/><circle cx="546.1" cy="405.2"/><circle cx="546.1" cy="400.8"/><circle cx="553.4" cy="481.8"/><circle cx="553.4" cy="481.8"/><circle cx="553.4" cy="480.6"/><circle cx="553.4" cy="483.1"/><circle cx="553.4" cy="482.4"/><circle cx="553.4" cy="479.2"/><circle cx="553.4" cy="453.0"/><circle cx="553.4" cy="457.1"/><circle cx="553.4" cy="450.9"/><circle cx="553.4" cy="456.1"/><circle cx="553.4" cy="435.7"/><circle cx="553.4" cy="430.8"/><circle cx="553.4" cy="434.7"/><circle cx="553.4" cy="429.9"/><circle cx="553.4" cy="363.2"/><circle cx="553.4" cy="379.4"/><circle cx="553.4" cy="386.4"/><circle cx="553.4" cy="401.6"/><circle cx="553.4" cy="374.3"/><circle cx="553.4" cy="393.3"/><circle cx="553.4" cy="417.3"/><circle cx="553.4" cy="378.4"/><circle cx="553.4" cy="376.5"/><circle cx="553.4" cy="416.2"/><circle cx="553.4" cy="407.0"/><circle cx="553.4" cy="379.6"/><circle cx="553.4" cy="394.7"/><circle cx="553.4" cy="415.9"/><circle cx="553.4" cy="382.7"/><circle cx="553.4" cy="344.1"/><circle cx="553.4" cy="400.3"/><circle cx="553.4" cy="315.0"/><circle cx="553.4" cy="409.4"/><circle cx="553.4" cy="383.2"/><circle cx="553.4" cy="390.7"/><circle cx="553.4" cy="344.3"/><circle cx="553.4" cy="383.9"/><circle cx="553.4" cy="397.1"/><circle cx="553.4" cy="392.6"/><circle cx="553.4" cy="402.1"/><circle cx="553.4" cy="416.8"/><circle cx="553.4" cy="407.3"/><circle cx="553.4" cy="408.0"/><circle cx="553.4" cy="410.5"/><circle cx="553.4" cy="369.5"/><circle cx="560.7" cy="484.9"/><circle cx="560.7" cy="484.1"/><circle cx="560.7" cy="481.1"/><circle cx="560.7" cy="479.8"/><circle cx="560.7" cy="482.2"/><circle cx="560.7" cy="484.8"/><circle cx="560.7" cy="457.9"/><circle cx="560.7" cy="459.4"/><circle cx="560.7" cy="455.8"/><circle cx="560.7" cy="458.9"/><circle cx="560.7" cy="430.3"/><circle cx="560.7" cy="432.6"/><circle cx="560.7" cy="435.5"/><circle cx="560.7" cy="435.3"/><circle cx="560.7" cy="411.2"/><circle cx="560.7" cy="389.1"/><circle cx="560.7" cy="422.2"/><circle cx="560.7" cy="392.2"/><circle cx="560.7" cy="369.2"/><circle cx="560.7" cy="376.7"/><circle cx="560.7" cy="421.5"/><circle cx="560.7" cy="404.6"/><circle cx="560.7" cy="408.4"/><circle cx="560.7" cy="368.6"/><circle cx="560.7" cy="403.0"/><circle cx="560.7" cy="353.8"/><circle cx="560.7" cy="393.2"/><circle cx="560.7" cy="404.6"/><circle cx="560.7" cy="385.3"/><circle cx="560.7" cy="403.7"/><circle cx="560.7" cy="372.7"/><circle cx="560.7" cy="399.9"/><circle cx="560.7" cy="393.9"/><circle cx="560.7" cy="375.4"/><circle cx="560.7" cy="411.3"/><circle cx="560.7" cy="404.8"/><circle cx="560.7" cy="421.4"/><circle cx="560.7" cy="383.2"/><circle cx="560.7" cy="403.5"/><circle cx="560.7" cy="384.2"/><circle cx="560.7" cy="388.2"/><circle cx="560.7" cy="381.0"/><circle cx="560.7" cy="396.6"/><circle cx="560.7" cy="401.9"/><circle cx="560.7" cy="406.9"/><circle cx="568.0" cy="481.7"/><circle cx="568.0" cy="485.9"/><circle cx="568.0" cy="484.3"/><circle cx="568.0" cy="482.4"/><circle cx="568.0" cy="485.9"/><circle cx="568.0" cy="487.2"/><circle cx="568.0" cy="459.7"/><circle cx="568.0" cy="458.3"/><circle cx="568.0" cy="458.7"/><circle cx="568.0" cy="437.9"/><circle cx="568.0" cy="439.1"/><circle cx="568.0" cy="435.1"/><circle cx="568.0" cy="434.6"/><circle cx="568.0" cy="414.9"/><circle cx="568.0" cy="389.7"/><circle cx="568.0" cy="385.2"/><circle cx="568.0" cy="374.1"/><circle cx="568.0" cy="421.7"/><circle cx="568.0" cy="384.7"/><circle cx="568.0" cy="376.8"/><circle cx="568.0" cy="403.3"/><circle cx="568.0" cy="379.9"/><circle cx="568.0" cy="397.9"/><circle cx="568.0" cy="383.1"/><circle cx="568.0" cy="408.9"/><circle cx="568.0" cy="399.3"/><circle cx="568.0" cy="402.7"/><circle cx="568.0" cy="385.5"/><circle cx="568.0" cy="410.8"/><circle cx="568.0" cy="409.7"/><circle cx="568.0" cy="402.8"/><circle cx="568.0" cy="412.7"/><circle cx="568.0" cy="376.6"/><circle cx="568.0" cy="385.8"/><circle cx="568.0" cy="402.2"/><circle cx="568.0" cy="372.6"/><circle cx="568.0" cy="393.9"/><circle cx="568.0" cy="386.6"/><circle cx="568.0" cy="372.7"/><circle cx="568.0" cy="379.1"/><circle cx="568.0" cy="345.3"/><circle cx="568.0" cy="413.7"/><circle cx="568.0" cy="371.0"/><circle cx="568.0" cy="390.9"/><circle cx="575.3" cy="487.8"/><circle cx="575.3" cy="478.3"/><circle cx="575.3" cy="487.8"/><circle cx="575.3" cy="487.7"/><circle cx="575.3" cy="484.0"/><circle cx="575.3" cy="484.4"/><circle cx="575.3" cy="463.1"/><circle cx="575.3" cy="460.5"/><circle cx="575.3" cy="459.5"/><circle cx="575.3" cy="437.5"/><circle cx="575.3" cy="433.2"/><circle cx="575.3" cy="437.0"/><circle cx="575.3" cy="362.5"/><circle cx="575.3" cy="376.5"/><circle cx="575.3" cy="373.7"/><circle cx="575.3" cy="398.2"/><circle cx="575.3" cy="400.4"/><circle cx="575.3" cy="399.1"/><circle cx="575.3" cy="389.3"/><circle cx="575.3" cy="390.8"/><circle cx="575.3" cy="384.1"/><circle cx="575.3" cy="375.5"/><circle cx="575.3" cy="384.5"/><circle cx="575.3" cy="392.3"/><circle cx="575.3" cy="410.1"/><circle cx="575.3" cy="396.5"/><circle cx="575.3" cy="380.8"/><circle cx="575.3" cy="389.5"/><circle cx="575.3" cy="406.0"/><circle cx="575.3" cy="401.7"/><circle cx="575.3" cy="380.2"/><circle cx="575.3" cy="385.8"/><circle cx="575.3" cy="386.5"/><circle cx="575.3" cy="377.5"/><circle cx="575.3" cy="424.3"/><circle cx="575.3" cy="403.8"/><circle cx="575.3" cy="402.9"/><circle cx="575.3" cy="372.0"/><circle cx="575.3" cy="401.4"/><circle cx="575.3" cy="399.9"/><circle cx="575.3" cy="398.5"/><circle cx="575.3" cy="412.0"/><circle cx="582.6" cy="488.1"/><circle cx="582.6" cy="487.8"/><circle cx="582.6" cy="487.6"/><circle cx="582.6" cy="489.0"/><circle cx="582.6" cy="481.4"/><circle cx="582.6" cy="459.8"/><circle cx="582.6" cy="463.9"/><circle cx="582.6" cy="462.6"/><circle cx="582.6" cy="437.0"/><circle cx="582.6" cy="434.6"/><circle cx="582.6" cy="440.3"/><circle cx="582.6" cy="389.8"/><circle cx="582.6" cy="366.9"/><circle cx="582.6" cy="423.5"/><circle cx="582.6" cy="412.2"/><circle cx="582.6" cy="422.9"/><circle cx="582.6" cy="395.7"/><circle cx="582.6" cy="400.3"/><circle cx="582.6" cy="426.3"/><circle cx="582.6" cy="371.8"/><circle cx="582.6" cy="398.3"/><circle cx="582.6" cy="402.4"/><circle cx="582.6" cy="380.1"/><circle cx="582.6" cy="406.5"/><circle cx="582.6" cy="377.2"/><circle cx="582.6" cy="398.9"/><circle cx="582.6" cy="393.9"/><circle cx="582.6" cy="408.9"/><circle cx="582.6" cy="396.7"/><circle cx="582.6" cy="380.2"/><circle cx="582.6" cy="414.3"/><circle cx="582.6" cy="387.0"/><circle cx="582.6" cy="362.5"/><circle cx="582.6" cy="364.0"/><circle cx="582.6" cy="408.3"/><circle cx="582.6" cy="399.1"/><circle cx="582.6" cy="413.5"/><circle cx="582.6" cy="342.1"/><circle cx="582.6" cy="426.8"/><circle cx="582.6" cy="401.4"/><circle cx="582.6" cy="375.6"/><circle cx="582.6" cy="414.0"/><circle cx="589.9" cy="486.2"/><circle cx="589.9" cy="486.1"/><circle cx="589.9" cy="488.7"/><circle cx="589.9" cy="489.8"/><circle cx="589.9" cy="465.2"/><circle cx="589.9" cy="466.0"/><circle cx="589.9" cy="440.1"/><circle cx="589.9" cy="436.3"/><circle cx="589.9" cy="439.0"/><circle cx="589.9" cy="416.8"/><circle cx="589.9" cy="392.1"/><circle cx="589.9" cy="381.6"/><circle cx="589.9" cy="403.1"/><circle cx="589.9" cy="427.8"/><circle cx="589.9" cy="401.1"/><circle cx="589.9" cy="361.9"/><circle cx="589.9" cy="424.3"/><circle cx="589.9" cy="414.2"/><circle cx="589.9" cy="426.3"/><circle cx="589.9" cy="399.6"/><circle cx="589.9" cy="394.6"/><circle cx="589.9" cy="349.3"/><circle cx="589.9" cy="401.5"/><circle cx="589.9" cy="380.1"/><circle cx="589.9" cy="400.3"/><circle cx="589.9" cy="398.4"/><circle cx="589.9" cy="410.7"/><circle cx="589.9" cy="414.9"/><circle cx="589.9" cy="425.5"/><circle cx="589.9" cy="352.9"/><circle cx="589.9" cy="426.3"/><circle cx="589.9" cy="407.9"/><circle cx="589.9" cy="398.4"/><circle cx="589.9" cy="412.7"/><circle cx="589.9" cy="401.8"/><circle cx="589.9" cy="415.2"/><circle cx="589.9" cy="373.3"/><circle cx="589.9" cy="351.7"/><circle cx="589.9" cy="403.5"/><circle cx="597.2" cy="487.3"/><circle cx="597.2" cy="485.8"/><circle cx="597.2" cy="435.0"/><circle cx="597.2" cy="441.0"/><circle cx="597.2" cy="440.8"/><circle cx="597.2" cy="428.9"/><circle cx="597.2" cy="420.3"/><circle cx="597.2" cy="403.8"/><circle cx="597.2" cy="425.6"/><circle cx="597.2" cy="374.9"/><circle cx="597.2" cy="394.1"/><circle cx="597.2" cy="427.1"/><circle cx="597.2" cy="422.8"/><circle cx="597.2" cy="383.0"/><circle cx="597.2" cy="398.4"/><circle cx="597.2" cy="375.8"/><circle cx="597.2" cy="328.8"/><circle cx="597.2" cy="371.7"/><circle cx="597.2" cy="420.3"/><circle cx="597.2" cy="395.4"/><circle cx="597.2" cy="382.6"/><circle cx="597.2" cy="419.2"/><circle cx="597.2" cy="419.2"/><circle cx="597.2" cy="409.0"/><circle cx="597.2" cy="391.7"/><circle cx="597.2" cy="398.4"/><circle cx="597.2" cy="393.0"/><circle cx="597.2" cy="416.0"/><circle cx="597.2" cy="373.4"/><circle cx="597.2" cy="429.1"/><circle cx="597.2" cy="400.3"/><circle cx="597.2" cy="398.5"/><circle cx="597.2" cy="386.2"/><circle cx="597.2" cy="401.3"/><circle cx="597.2" cy="429.1"/><circle cx="604.5" cy="492.4"/><circle cx="604.5" cy="490.8"/><circle cx="604.5" cy="491.3"/><circle cx="604.5" cy="444.6"/><circle cx="604.5" cy="442.3"/><circle cx="604.5" cy="444.6"/><circle cx="604.5" cy="370.9"/><circle cx="604.5" cy="372.8"/><circle cx="604.5" cy="417.1"/><circle cx="604.5" cy="405.2"/><circle cx="604.5" cy="406.4"/><circle cx="604.5" cy="377.9"/><circle cx="604.5" cy="366.1"/><circle cx="604.5" cy="426.3"/><circle cx="604.5" cy="383.8"/><circle cx="604.5" cy="420.3"/><circle cx="604.5" cy="420.3"/><circle cx="604.5" cy="415.3"/><circle cx="604.5" cy="410.2"/><circle cx="604.5" cy="392.2"/><circle cx="604.5" cy="396.8"/><circle cx="604.5" cy="386.1"/><circle cx="604.5" cy="397.4"/><circle cx="604.5" cy="404.9"/><circle cx="604.5" cy="419.2"/><circle cx="604.5" cy="406.4"/><circle cx="604.5" cy="424.6"/><circle cx="604.5" cy="390.5"/><circle cx="604.5" cy="382.2"/><circle cx="604.5" cy="384.2"/><circle cx="604.5" cy="429.5"/><circle cx="604.5" cy="369.9"/><circle cx="604.5" cy="377.6"/><circle cx="604.5" cy="407.9"/><circle cx="604.5" cy="387.9"/><circle cx="604.5" cy="406.5"/><circle cx="611.8" cy="487.7"/><circle cx="611.8" cy="492.9"/><circle cx="611.8" cy="439.0"/><circle cx="611.8" cy="441.4"/><circle cx="611.8" cy="443.7"/><circle cx="611.8" cy="411.0"/><circle cx="611.8" cy="385.7"/><circle cx="611.8" cy="417.9"/><circle cx="611.8" cy="386.1"/><circle cx="611.8" cy="410.3"/><circle cx="611.8" cy="404.2"/><circle cx="611.8" cy="352.1"/><circle cx="611.8" cy="398.0"/><circle cx="611.8" cy="402.9"/><circle cx="611.8" cy="389.6"/><circle cx="611.8" cy="403.2"/><circle cx="611.8" cy="404.4"/><circle cx="611.8" cy="429.1"/><circle cx="611.8" cy="322.1"/><circle cx="611.8" cy="386.2"/><circle cx="611.8" cy="406.2"/><circle cx="611.8" cy="415.9"/><circle cx="611.8" cy="378.1"/><circle cx="611.8" cy="392.6"/><circle cx="611.8" cy="413.5"/><circle cx="611.8" cy="383.1"/><circle cx="611.8" cy="371.0"/><circle cx="611.8" cy="388.3"/><circle cx="611.8" cy="392.3"/><circle cx="611.8" cy="399.5"/><circle cx="611.8" cy="350.0"/><circle cx="611.8" cy="399.0"/><circle cx="611.8" cy="419.5"/><circle cx="611.8" cy="418.7"/><circle cx="619.1" cy="492.3"/><circle cx="619.1" cy="493.1"/><circle cx="619.1" cy="443.5"/><circle cx="619.1" cy="444.5"/><circle cx="619.1" cy="440.2"/><circle cx="619.1" cy="370.0"/><circle cx="619.1" cy="404.8"/><circle cx="619.1" cy="367.6"/><circle cx="619.1" cy="400.1"/><circle cx="619.1" cy="349.0"/><circle cx="619.1" cy="380.9"/><circle cx="619.1" cy="349.8"/><circle cx="619.1" cy="374.2"/><circle cx="619.1" cy="390.5"/><circle cx="619.1" cy="396.6"/><circle cx="619.1" cy="383.6"/><circle cx="619.1" cy="371.2"/><circle cx="619.1" cy="389.4"/><circle cx="619.1" cy="376.0"/><circle cx="619.1" cy="413.8"/><circle cx="619.1" cy="418.4"/><circle cx="619.1" cy="413.4"/><circle cx="619.1" cy="383.4"/><circle cx="619.1" cy="389.4"/><circle cx="619.1" cy="387.8"/><circle cx="619.1" cy="400.3"/><circle cx="619.1" cy="401.1"/><circle cx="619.1" cy="377.7"/><circle cx="619.1" cy="369.4"/><circle cx="619.1" cy="398.9"/><circle cx="619.1" cy="394.3"/><circle cx="619.1" cy="348.4"/><circle cx="619.1" cy="409.4"/><circle cx="626.4" cy="492.5"/><circle cx="626.4" cy="495.1"/><circle cx="626.4" cy="467.9"/><circle cx="626.4" cy="447.5"/><circle cx="626.4" cy="446.2"/><circle cx="626.4" cy="446.3"/><circle cx="626.4" cy="421.6"/><circle cx="626.4" cy="400.2"/><circle cx="626.4" cy="405.8"/><circle cx="626.4" cy="421.7"/><circle cx="626.4" cy="337.2"/><circle cx="626.4" cy="422.2"/><circle cx="626.4" cy="407.4"/><circle cx="626.4" cy="383.9"/><circle cx="626.4" cy="407.1"/><circle cx="626.4" cy="379.9"/><circle cx="626.4" cy="419.4"/><circle cx="626.4" cy="383.3"/><circle cx="626.4" cy="409.7"/><circle cx="626.4" cy="374.6"/><circle cx="626.4" cy="404.9"/><circle cx="626.4" cy="372.2"/><circle cx="626.4" cy="388.6"/><circle cx="626.4" cy="432.8"/><circle cx="626.4" cy="432.7"/><circle cx="626.4" cy="423.0"/><circle cx="626.4" cy="390.6"/><circle cx="626.4" cy="423.9"/><circle cx="626.4" cy="414.5"/><circle cx="626.4" cy="422.6"/><circle cx="626.4" cy="393.8"/><circle cx="626.4" cy="398.5"/><circle cx="626.4" cy="420.2"/><circle cx="633.7" cy="491.4"/><circle cx="633.7" cy="495.8"/><circle cx="633.7" cy="446.3"/><circle cx="633.7" cy="449.5"/><circle cx="633.7" cy="448.3"/><circle cx="633.7" cy="392.7"/><circle cx="633.7" cy="403.7"/><circle cx="633.7" cy="324.0"/><circle cx="633.7" cy="432.9"/><circle cx="633.7" cy="401.5"/><circle cx="633.7" cy="409.1"/><circle cx="633.7" cy="411.3"/><circle cx="633.7" cy="423.1"/><circle cx="633.7" cy="389.3"/><circle cx="633.7" cy="423.4"/><circle cx="633.7" cy="380.6"/><circle cx="633.7" cy="388.4"/><circle cx="633.7" cy="313.2"/><circle cx="633.7" cy="421.1"/><circle cx="633.7" cy="412.0"/><circle cx="633.7" cy="334.0"/><circle cx="633.7" cy="398.3"/><circle cx="633.7" cy="389.8"/><circle cx="633.7" cy="398.9"/><circle cx="633.7" cy="431.1"/><circle cx="633.7" cy="425.3"/><circle cx="633.7" cy="382.7"/><circle cx="633.7" cy="415.6"/><circle cx="633.7" cy="433.2"/><circle cx="633.7" cy="416.1"/><circle cx="641.0" cy="499.2"/><circle cx="641.0" cy="497.7"/><circle cx="641.0" cy="468.4"/><circle cx="641.0" cy="445.3"/><circle cx="641.0" cy="447.2"/><circle cx="641.0" cy="449.6"/><circle cx="641.0" cy="405.9"/><circle cx="641.0" cy="394.8"/><circle cx="641.0" cy="394.9"/><circle cx="641.0" cy="377.4"/><circle cx="641.0" cy="374.4"/><circle cx="641.0" cy="392.4"/><circle cx="641.0" cy="386.2"/><circle cx="641.0" cy="397.2"/><circle cx="641.0" cy="368.4"/><circle cx="641.0" cy="404.9"/><circle cx="641.0" cy="417.8"/><circle cx="641.0" cy="413.6"/><circle cx="641.0" cy="381.1"/><circle cx="641.0" cy="383.3"/><circle cx="648.3" cy="498.3"/><circle cx="648.3" cy="472.3"/><circle cx="648.3" cy="452.3"/><circle cx="648.3" cy="448.0"/><circle cx="648.3" cy="452.3"/><circle cx="648.3" cy="427.0"/><circle cx="648.3" cy="417.0"/><circle cx="648.3" cy="393.2"/><circle cx="648.3" cy="396.7"/><circle cx="648.3" cy="400.5"/><circle cx="648.3" cy="395.2"/><circle cx="648.3" cy="410.2"/><circle cx="648.3" cy="426.6"/><circle cx="648.3" cy="426.6"/><circle cx="648.3" cy="384.9"/><circle cx="648.3" cy="401.4"/><circle cx="648.3" cy="420.4"/><circle cx="655.6" cy="499.3"/><circle cx="655.6" cy="449.9"/><circle cx="655.6" cy="451.9"/><circle cx="655.6" cy="452.1"/><circle cx="655.6" cy="433.7"/><circle cx="655.6" cy="417.1"/><circle cx="655.6" cy="420.3"/><circle cx="655.6" cy="424.8"/><circle cx="655.6" cy="378.2"/><circle cx="655.6" cy="331.2"/><circle cx="655.6" cy="402.7"/><circle cx="655.6" cy="439.4"/><circle cx="655.6" cy="403.8"/><circle cx="655.6" cy="407.2"/><circle cx="662.9" cy="449.3"/><circle cx="662.9" cy="453.1"/><circle cx="662.9" cy="387.0"/><circle cx="662.9" cy="403.2"/><circle cx="662.9" cy="412.1"/><circle cx="662.9" cy="421.3"/><circle cx="662.9" cy="385.0"/><circle cx="662.9" cy="404.4"/><circle cx="670.2" cy="449.5"/><circle cx="670.2" cy="412.0"/><circle cx="670.2" cy="399.4"/><circle cx="670.2" cy="417.1"/><circle cx="670.2" cy="417.5"/><circle cx="670.2" cy="415.4"/><circle cx="670.2" cy="403.6"/><circle cx="677.5" cy="454.3"/><circle cx="677.5" cy="395.4"/><circle cx="677.5" cy="385.1"/><circle cx="677.5" cy="430.6"/><circle cx="677.5" cy="424.0"/><circle cx="677.5" cy="408.7"/><circle cx="684.8" cy="455.3"/><circle cx="684.8" cy="434.3"/><circle cx="684.8" cy="344.3"/><circle cx="684.8" cy="427.4"/><circle cx="684.8" cy="418.0"/><circle cx="692.1" cy="455.2"/><circle cx="692.1" cy="384.8"/><circle cx="692.1" cy="397.3"/><circle cx="692.1" cy="400.8"/><circle cx="699.4" cy="459.7"/><circle cx="699.4" cy="360.7"/><circle cx="699.4" cy="432.2"/><circle cx="706.7" cy="460.5"/><circle cx="706.7" cy="416.2"/><circle cx="706.7" cy="436.1"/><circle cx="714.0" cy="393.4"/><circle cx="721.3" cy="394.0"/><circle cx="728.6" cy="408.0"/><circle cx="735.9" cy="408.2"/><circle cx="458.5" cy="91.9"/><circle cx="370.9" cy="120.2"/><circle cx="349.0" cy="175.9"/><circle cx="553.4" cy="175.9"/><circle cx="502.3" cy="198.9"/><circle cx="495.0" cy="209.6"/><circle cx="568.0" cy="214.5"/><circle cx="443.9" cy="230.5"/><circle cx="597.2" cy="243.7"/><circle cx="575.3" cy="250.9"/><circle cx="385.5" cy="247.3"/><circle cx="370.9" cy="252.1"/><circle cx="531.5" cy="264.3"/><circle cx="480.4" cy="273.1"/><circle cx="597.2" cy="274.1"/><circle cx="648.3" cy="277.7"/><circle cx="422.0" cy="281.6"/><circle cx="524.2" cy="287.5"/><circle cx="473.1" cy="292.3"/><circle cx="641.0" cy="291.3"/><circle cx="502.3" cy="305.9"/><circle cx="538.8" cy="305.9"/><circle cx="735.9" cy="303.2"/><circle cx="509.6" cy="327.3"/><circle cx="582.6" cy="337.4"/><circle cx="436.6" cy="378.5"/><circle cx="232.2" cy="412.0"/><circle cx="268.7" cy="382.4"/><circle cx="210.3" cy="356.2"/></g>
<path d="M174.6 410.0H793.5" stroke="#d05050" stroke-width="1.5"/>
<text x="873.7" y="51.8" class="lab" style="font-size:43.5px">B</text>
<text transform="translate(878.7 467.4) rotate(-90)" class="tt">Adjusted Troponin I</text>
<text transform="translate(929.8 392.2) rotate(-90)" class="tt">(log[ng/ml])</text>
<text x="1084.7" y="584.4" class="tt" style="font-size:43.0px">eGFR (mL/min/1.73m<tspan dy="-12.3" style="font-size:28px">2</tspan><tspan dy="12.3">)</tspan></text>
<rect x="982.3" y="66.8" width="617.2" height="444.8" class="ax" fill="none"/>
<text x="1060.9" y="543.5" class="tk" text-anchor="middle">20</text>
<text x="1169.3" y="543.5" class="tk" text-anchor="middle">40</text>
<text x="1277.7" y="543.5" class="tk" text-anchor="middle">60</text>
<text x="1386.1" y="543.5" class="tk" text-anchor="middle">80</text>
<text x="1494.5" y="543.5" class="tk" text-anchor="middle">100</text>
<text transform="translate(961.4 121.8) rotate(-90)" class="tk" text-anchor="middle">2</text>
<text transform="translate(961.4 191.1) rotate(-90)" class="tk" text-anchor="middle">0</text>
<text transform="translate(961.4 260.4) rotate(-90)" class="tk" text-anchor="middle">-2</text>
<text transform="translate(961.4 329.6) rotate(-90)" class="tk" text-anchor="middle">-4</text>
<text transform="translate(961.4 398.9) rotate(-90)" class="tk" text-anchor="middle">-6</text>
<text transform="translate(961.4 468.1) rotate(-90)" class="tk" text-anchor="middle">-8</text>
<path d="M1060.9 511.6V520.4M1169.3 511.6V520.4M1277.7 511.6V520.4M1386.1 511.6V520.4M1494.5 511.6V520.4M972.5 121.8H982.3M972.5 191.1H982.3M972.5 260.4H982.3M972.5 329.6H982.3M972.5 398.9H982.3M972.5 468.1H982.3" class="ax"/>
<g class="pt"><circle cx="1303.6" cy="414.3"/><circle cx="1454.8" cy="418.7"/><circle cx="1507.0" cy="420.7"/><circle cx="1401.8" cy="418.7"/><circle cx="1401.8" cy="394.7"/><circle cx="1501.3" cy="422.6"/><circle cx="1501.3" cy="350.5"/><circle cx="1353.9" cy="420.6"/><circle cx="1439.3" cy="398.5"/><circle cx="1353.9" cy="348.7"/><circle cx="1289.6" cy="419.9"/><circle cx="1317.6" cy="396.5"/><circle cx="1434.7" cy="351.7"/><circle cx="1286.6" cy="420.9"/><circle cx="1430.4" cy="376.8"/><circle cx="1314.3" cy="349.7"/><circle cx="1381.0" cy="425.2"/><circle cx="1481.3" cy="365.1"/><circle cx="1340.0" cy="425.6"/><circle cx="1340.0" cy="401.1"/><circle cx="1418.6" cy="428.8"/><circle cx="1334.0" cy="427.6"/><circle cx="1302.7" cy="402.7"/><circle cx="1331.2" cy="429.2"/><circle cx="1273.5" cy="379.1"/><circle cx="1367.8" cy="358.4"/><circle cx="1328.5" cy="430.4"/><circle cx="1408.4" cy="384.9"/><circle cx="1295.3" cy="430.5"/><circle cx="1405.3" cy="409.6"/><circle cx="1457.9" cy="387.3"/><circle cx="1457.9" cy="362.8"/><circle cx="1405.3" cy="371.8"/><circle cx="1402.3" cy="435.0"/><circle cx="1359.3" cy="434.3"/><circle cx="1359.3" cy="434.5"/><circle cx="1359.3" cy="410.4"/><circle cx="1454.6" cy="411.9"/><circle cx="1402.3" cy="387.1"/><circle cx="1402.3" cy="348.9"/><circle cx="1293.0" cy="352.3"/><circle cx="1293.0" cy="346.0"/><circle cx="1321.0" cy="434.4"/><circle cx="1321.0" cy="434.5"/><circle cx="1321.0" cy="434.7"/><circle cx="1399.4" cy="436.0"/><circle cx="1399.4" cy="412.1"/><circle cx="1356.7" cy="411.0"/><circle cx="1356.7" cy="387.6"/><circle cx="1515.8" cy="390.2"/><circle cx="1321.0" cy="348.6"/><circle cx="1290.8" cy="347.2"/><circle cx="1399.4" cy="364.3"/><circle cx="1451.3" cy="375.3"/><circle cx="1318.7" cy="435.8"/><circle cx="1263.0" cy="433.2"/><circle cx="1512.3" cy="440.0"/><circle cx="1354.2" cy="436.2"/><circle cx="1354.2" cy="412.9"/><circle cx="1288.7" cy="410.3"/><circle cx="1240.7" cy="408.6"/><circle cx="1288.7" cy="386.6"/><circle cx="1204.1" cy="382.6"/><circle cx="1263.0" cy="342.4"/><circle cx="1263.0" cy="353.9"/><circle cx="1263.0" cy="361.4"/><circle cx="1448.2" cy="352.6"/><circle cx="1448.2" cy="347.0"/><circle cx="1261.1" cy="434.9"/><circle cx="1316.5" cy="436.6"/><circle cx="1351.8" cy="437.9"/><circle cx="1393.9" cy="439.3"/><circle cx="1393.9" cy="438.6"/><circle cx="1239.0" cy="409.8"/><circle cx="1393.9" cy="414.7"/><circle cx="1261.1" cy="411.2"/><circle cx="1445.2" cy="392.3"/><circle cx="1261.1" cy="387.2"/><circle cx="1393.9" cy="390.5"/><circle cx="1393.9" cy="342.7"/><circle cx="1393.9" cy="367.0"/><circle cx="1445.2" cy="324.8"/><circle cx="1316.5" cy="364.9"/><circle cx="1261.1" cy="372.4"/><circle cx="1442.4" cy="441.5"/><circle cx="1314.4" cy="437.7"/><circle cx="1314.4" cy="438.0"/><circle cx="1314.4" cy="438.3"/><circle cx="1314.4" cy="438.3"/><circle cx="1391.3" cy="440.6"/><circle cx="1391.3" cy="439.8"/><circle cx="1314.4" cy="414.0"/><circle cx="1237.3" cy="411.1"/><circle cx="1391.3" cy="416.4"/><circle cx="1349.4" cy="414.9"/><circle cx="1391.3" cy="392.4"/><circle cx="1314.4" cy="390.1"/><circle cx="1314.4" cy="390.4"/><circle cx="1314.4" cy="376.5"/><circle cx="1391.3" cy="324.0"/><circle cx="1391.3" cy="354.2"/><circle cx="1237.3" cy="373.3"/><circle cx="1259.3" cy="344.8"/><circle cx="1259.3" cy="326.2"/><circle cx="1259.3" cy="374.4"/><circle cx="1257.6" cy="437.1"/><circle cx="1257.6" cy="437.1"/><circle cx="1282.8" cy="438.2"/><circle cx="1388.8" cy="441.5"/><circle cx="1388.8" cy="441.3"/><circle cx="1312.3" cy="439.6"/><circle cx="1439.6" cy="442.1"/><circle cx="1312.3" cy="415.4"/><circle cx="1257.6" cy="413.4"/><circle cx="1347.1" cy="416.6"/><circle cx="1388.8" cy="417.9"/><circle cx="1347.1" cy="392.4"/><circle cx="1439.6" cy="394.6"/><circle cx="1439.6" cy="394.8"/><circle cx="1347.1" cy="368.3"/><circle cx="1312.3" cy="377.4"/><circle cx="1282.8" cy="366.2"/><circle cx="1347.1" cy="360.9"/><circle cx="1257.6" cy="357.2"/><circle cx="1439.6" cy="363.1"/><circle cx="1388.8" cy="355.2"/><circle cx="1345.0" cy="441.6"/><circle cx="1255.9" cy="438.7"/><circle cx="1281.0" cy="439.4"/><circle cx="1310.3" cy="440.4"/><circle cx="1255.9" cy="438.2"/><circle cx="1310.3" cy="440.9"/><circle cx="1386.4" cy="443.0"/><circle cx="1281.0" cy="416.0"/><circle cx="1281.0" cy="415.5"/><circle cx="1345.0" cy="417.7"/><circle cx="1386.4" cy="418.6"/><circle cx="1436.9" cy="419.4"/><circle cx="1310.3" cy="392.9"/><circle cx="1255.9" cy="390.2"/><circle cx="1436.9" cy="395.6"/><circle cx="1345.0" cy="355.3"/><circle cx="1281.0" cy="367.7"/><circle cx="1436.9" cy="371.4"/><circle cx="1310.3" cy="378.7"/><circle cx="1386.4" cy="342.5"/><circle cx="1345.0" cy="346.1"/><circle cx="1255.9" cy="359.1"/><circle cx="1308.4" cy="442.1"/><circle cx="1308.4" cy="442.2"/><circle cx="1279.2" cy="440.7"/><circle cx="1279.2" cy="440.5"/><circle cx="1308.4" cy="442.0"/><circle cx="1254.2" cy="439.6"/><circle cx="1308.4" cy="442.0"/><circle cx="1384.1" cy="444.4"/><circle cx="1434.2" cy="420.9"/><circle cx="1308.4" cy="417.6"/><circle cx="1279.2" cy="416.5"/><circle cx="1434.2" cy="421.1"/><circle cx="1308.4" cy="418.1"/><circle cx="1342.8" cy="395.0"/><circle cx="1496.5" cy="398.1"/><circle cx="1342.8" cy="395.1"/><circle cx="1342.8" cy="394.7"/><circle cx="1342.8" cy="363.5"/><circle cx="1308.4" cy="341.5"/><circle cx="1197.0" cy="357.0"/><circle cx="1279.2" cy="368.5"/><circle cx="1308.4" cy="379.9"/><circle cx="1342.8" cy="381.0"/><circle cx="1308.4" cy="355.7"/><circle cx="1308.4" cy="355.7"/><circle cx="1306.5" cy="443.1"/><circle cx="1340.8" cy="444.1"/><circle cx="1306.5" cy="442.9"/><circle cx="1277.5" cy="441.9"/><circle cx="1277.5" cy="441.9"/><circle cx="1306.5" cy="443.3"/><circle cx="1381.8" cy="445.1"/><circle cx="1252.6" cy="441.1"/><circle cx="1252.6" cy="417.1"/><circle cx="1340.8" cy="420.6"/><circle cx="1306.5" cy="419.0"/><circle cx="1340.8" cy="420.4"/><circle cx="1306.5" cy="419.6"/><circle cx="1306.5" cy="418.8"/><circle cx="1340.8" cy="396.1"/><circle cx="1306.5" cy="395.4"/><circle cx="1381.8" cy="397.0"/><circle cx="1381.8" cy="397.6"/><circle cx="1306.5" cy="371.0"/><circle cx="1277.5" cy="362.2"/><circle cx="1381.8" cy="365.5"/><circle cx="1252.6" cy="355.2"/><circle cx="1277.5" cy="350.5"/><circle cx="1277.5" cy="356.4"/><circle cx="1212.3" cy="377.1"/><circle cx="1275.8" cy="443.4"/><circle cx="1379.6" cy="446.5"/><circle cx="1429.3" cy="447.9"/><circle cx="1275.8" cy="443.6"/><circle cx="1275.8" cy="443.7"/><circle cx="1275.8" cy="443.3"/><circle cx="1379.6" cy="446.9"/><circle cx="1338.8" cy="445.5"/><circle cx="1379.6" cy="422.9"/><circle cx="1304.7" cy="420.2"/><circle cx="1379.6" cy="422.9"/><circle cx="1275.8" cy="419.2"/><circle cx="1210.9" cy="416.2"/><circle cx="1338.8" cy="421.2"/><circle cx="1275.8" cy="395.8"/><circle cx="1338.8" cy="397.5"/><circle cx="1338.8" cy="397.8"/><circle cx="1379.6" cy="398.3"/><circle cx="1338.8" cy="397.4"/><circle cx="1304.7" cy="372.1"/><circle cx="1275.8" cy="381.1"/><circle cx="1304.7" cy="372.1"/><circle cx="1275.8" cy="352.3"/><circle cx="1379.6" cy="384.4"/><circle cx="1429.3" cy="343.9"/><circle cx="1429.3" cy="356.6"/><circle cx="1379.6" cy="384.8"/><circle cx="1304.7" cy="348.3"/><circle cx="1249.6" cy="443.5"/><circle cx="1336.9" cy="446.7"/><circle cx="1209.6" cy="441.5"/><circle cx="1377.5" cy="448.2"/><circle cx="1228.3" cy="442.6"/><circle cx="1336.9" cy="446.7"/><circle cx="1303.0" cy="445.7"/><circle cx="1426.9" cy="449.0"/><circle cx="1377.5" cy="423.5"/><circle cx="1336.9" cy="422.7"/><circle cx="1274.2" cy="420.5"/><circle cx="1274.2" cy="420.5"/><circle cx="1377.5" cy="423.4"/><circle cx="1377.5" cy="423.5"/><circle cx="1249.6" cy="396.0"/><circle cx="1426.9" cy="400.6"/><circle cx="1336.9" cy="398.9"/><circle cx="1193.2" cy="392.9"/><circle cx="1336.9" cy="384.6"/><circle cx="1303.0" cy="384.0"/><circle cx="1426.9" cy="386.9"/><circle cx="1426.9" cy="376.6"/><circle cx="1377.5" cy="356.5"/><circle cx="1336.9" cy="367.2"/><circle cx="1303.0" cy="354.7"/><circle cx="1193.2" cy="360.6"/><circle cx="1303.0" cy="359.4"/><circle cx="1375.4" cy="449.4"/><circle cx="1335.0" cy="448.0"/><circle cx="1424.6" cy="450.3"/><circle cx="1301.2" cy="447.4"/><circle cx="1272.7" cy="445.9"/><circle cx="1335.0" cy="448.2"/><circle cx="1335.0" cy="448.2"/><circle cx="1272.7" cy="446.0"/><circle cx="1375.4" cy="424.7"/><circle cx="1335.0" cy="424.2"/><circle cx="1424.6" cy="425.7"/><circle cx="1335.0" cy="423.7"/><circle cx="1226.9" cy="419.5"/><circle cx="1272.7" cy="421.6"/><circle cx="1272.7" cy="398.3"/><circle cx="1301.2" cy="398.9"/><circle cx="1164.6" cy="392.8"/><circle cx="1272.7" cy="397.8"/><circle cx="1335.0" cy="368.3"/><circle cx="1375.4" cy="369.6"/><circle cx="1248.2" cy="365.5"/><circle cx="1424.6" cy="364.4"/><circle cx="1424.6" cy="378.3"/><circle cx="1424.6" cy="370.8"/><circle cx="1375.4" cy="369.1"/><circle cx="1248.2" cy="341.0"/><circle cx="1301.2" cy="355.3"/><circle cx="1272.7" cy="373.9"/><circle cx="1271.1" cy="447.1"/><circle cx="1271.1" cy="446.8"/><circle cx="1373.4" cy="450.6"/><circle cx="1271.1" cy="447.0"/><circle cx="1299.6" cy="448.3"/><circle cx="1333.2" cy="449.0"/><circle cx="1271.1" cy="447.2"/><circle cx="1422.3" cy="451.1"/><circle cx="1373.4" cy="426.5"/><circle cx="1271.1" cy="423.7"/><circle cx="1422.3" cy="427.6"/><circle cx="1246.7" cy="422.0"/><circle cx="1207.2" cy="420.1"/><circle cx="1299.6" cy="424.2"/><circle cx="1299.6" cy="400.0"/><circle cx="1225.6" cy="397.2"/><circle cx="1299.6" cy="400.4"/><circle cx="1373.4" cy="402.4"/><circle cx="1373.4" cy="358.9"/><circle cx="1299.6" cy="362.3"/><circle cx="1246.7" cy="354.7"/><circle cx="1246.7" cy="354.9"/><circle cx="1333.2" cy="363.1"/><circle cx="1333.2" cy="377.6"/><circle cx="1483.0" cy="380.7"/><circle cx="1299.6" cy="357.1"/><circle cx="1299.6" cy="376.1"/><circle cx="1271.1" cy="375.2"/><circle cx="1298.0" cy="449.2"/><circle cx="1269.6" cy="448.9"/><circle cx="1420.1" cy="452.3"/><circle cx="1371.4" cy="452.0"/><circle cx="1371.4" cy="451.6"/><circle cx="1224.4" cy="446.5"/><circle cx="1269.6" cy="448.2"/><circle cx="1420.1" cy="452.6"/><circle cx="1298.0" cy="425.5"/><circle cx="1331.4" cy="426.2"/><circle cx="1206.0" cy="421.7"/><circle cx="1298.0" cy="425.6"/><circle cx="1269.6" cy="424.8"/><circle cx="1371.4" cy="427.8"/><circle cx="1269.6" cy="400.2"/><circle cx="1269.6" cy="400.4"/><circle cx="1420.1" cy="404.8"/><circle cx="1298.0" cy="401.7"/><circle cx="1298.0" cy="401.2"/><circle cx="1331.4" cy="388.2"/><circle cx="1331.4" cy="370.5"/><circle cx="1298.0" cy="377.2"/><circle cx="1269.6" cy="376.6"/><circle cx="1189.8" cy="382.2"/><circle cx="1371.4" cy="360.2"/><circle cx="1245.4" cy="361.6"/><circle cx="1331.4" cy="364.8"/><circle cx="1298.0" cy="369.4"/><circle cx="1371.4" cy="372.0"/><circle cx="1371.4" cy="365.8"/><circle cx="1329.7" cy="452.0"/><circle cx="1296.4" cy="451.1"/><circle cx="1244.0" cy="448.6"/><circle cx="1296.4" cy="451.2"/><circle cx="1329.7" cy="451.7"/><circle cx="1296.4" cy="450.6"/><circle cx="1244.0" cy="448.9"/><circle cx="1296.4" cy="451.0"/><circle cx="1369.5" cy="429.1"/><circle cx="1418.0" cy="429.9"/><circle cx="1268.2" cy="425.7"/><circle cx="1268.2" cy="426.0"/><circle cx="1369.5" cy="428.8"/><circle cx="1244.0" cy="424.8"/><circle cx="1418.0" cy="406.1"/><circle cx="1296.4" cy="403.2"/><circle cx="1369.5" cy="404.7"/><circle cx="1188.7" cy="397.8"/><circle cx="1296.4" cy="402.8"/><circle cx="1369.5" cy="390.6"/><circle cx="1418.0" cy="391.7"/><circle cx="1369.5" cy="349.5"/><circle cx="1329.7" cy="351.4"/><circle cx="1268.2" cy="378.0"/><circle cx="1223.1" cy="375.8"/><circle cx="1244.0" cy="362.6"/><circle cx="1268.2" cy="377.7"/><circle cx="1296.4" cy="371.2"/><circle cx="1296.4" cy="371.5"/><circle cx="1369.5" cy="380.9"/><circle cx="1367.7" cy="454.4"/><circle cx="1294.9" cy="452.1"/><circle cx="1328.0" cy="453.5"/><circle cx="1328.0" cy="453.0"/><circle cx="1294.9" cy="452.1"/><circle cx="1242.7" cy="449.8"/><circle cx="1266.8" cy="451.4"/><circle cx="1367.7" cy="454.0"/><circle cx="1242.7" cy="426.3"/><circle cx="1242.7" cy="426.2"/><circle cx="1242.7" cy="425.7"/><circle cx="1328.0" cy="428.8"/><circle cx="1367.7" cy="429.9"/><circle cx="1328.0" cy="429.2"/><circle cx="1294.9" cy="404.3"/><circle cx="1294.9" cy="403.8"/><circle cx="1294.9" cy="404.5"/><circle cx="1221.9" cy="400.6"/><circle cx="1294.9" cy="404.2"/><circle cx="1266.8" cy="371.2"/><circle cx="1328.0" cy="361.6"/><circle cx="1415.9" cy="344.0"/><circle cx="1415.9" cy="359.5"/><circle cx="1367.7" cy="381.8"/><circle cx="1266.8" cy="364.7"/><circle cx="1367.7" cy="362.7"/><circle cx="1266.8" cy="388.7"/><circle cx="1328.0" cy="361.6"/><circle cx="1415.9" cy="369.2"/><circle cx="1266.8" cy="379.1"/><circle cx="1294.9" cy="366.4"/><circle cx="1241.5" cy="451.5"/><circle cx="1293.4" cy="453.4"/><circle cx="1326.4" cy="454.2"/><circle cx="1202.6" cy="449.6"/><circle cx="1241.5" cy="451.4"/><circle cx="1241.5" cy="451.5"/><circle cx="1265.4" cy="452.6"/><circle cx="1326.4" cy="454.0"/><circle cx="1265.4" cy="428.3"/><circle cx="1326.4" cy="430.4"/><circle cx="1265.4" cy="428.1"/><circle cx="1365.8" cy="431.5"/><circle cx="1293.4" cy="429.3"/><circle cx="1220.7" cy="426.0"/><circle cx="1326.4" cy="406.7"/><circle cx="1413.9" cy="408.8"/><circle cx="1365.8" cy="407.2"/><circle cx="1293.4" cy="405.1"/><circle cx="1365.8" cy="407.7"/><circle cx="1473.6" cy="361.6"/><circle cx="1241.5" cy="365.2"/><circle cx="1265.4" cy="389.9"/><circle cx="1326.4" cy="368.6"/><circle cx="1202.6" cy="353.5"/><circle cx="1326.4" cy="374.4"/><circle cx="1265.4" cy="366.1"/><circle cx="1365.8" cy="375.5"/><circle cx="1326.4" cy="333.0"/><circle cx="1202.6" cy="369.7"/><circle cx="1186.6" cy="368.2"/><circle cx="1291.9" cy="454.7"/><circle cx="1291.9" cy="454.7"/><circle cx="1364.1" cy="456.8"/><circle cx="1324.8" cy="455.9"/><circle cx="1264.1" cy="453.7"/><circle cx="1364.1" cy="456.6"/><circle cx="1240.2" cy="452.3"/><circle cx="1291.9" cy="454.4"/><circle cx="1364.1" cy="432.9"/><circle cx="1324.8" cy="431.8"/><circle cx="1324.8" cy="431.9"/><circle cx="1411.9" cy="433.9"/><circle cx="1364.1" cy="432.4"/><circle cx="1291.9" cy="430.9"/><circle cx="1240.2" cy="404.5"/><circle cx="1291.9" cy="406.7"/><circle cx="1364.1" cy="408.6"/><circle cx="1411.9" cy="409.5"/><circle cx="1411.9" cy="409.5"/><circle cx="1411.9" cy="378.0"/><circle cx="1324.8" cy="352.1"/><circle cx="1324.8" cy="359.4"/><circle cx="1324.8" cy="369.6"/><circle cx="1364.1" cy="317.1"/><circle cx="1291.9" cy="363.1"/><circle cx="1411.9" cy="385.5"/><circle cx="1219.6" cy="360.0"/><circle cx="1291.9" cy="311.2"/><circle cx="1411.9" cy="377.7"/><circle cx="1324.8" cy="363.9"/><circle cx="1364.1" cy="371.1"/><circle cx="1264.1" cy="349.9"/><circle cx="1290.5" cy="456.1"/><circle cx="1290.5" cy="455.7"/><circle cx="1218.5" cy="452.8"/><circle cx="1239.0" cy="453.4"/><circle cx="1262.8" cy="454.9"/><circle cx="1362.4" cy="458.3"/><circle cx="1239.0" cy="454.1"/><circle cx="1290.5" cy="455.9"/><circle cx="1362.4" cy="433.7"/><circle cx="1290.5" cy="431.5"/><circle cx="1239.0" cy="430.1"/><circle cx="1262.8" cy="431.2"/><circle cx="1323.2" cy="433.0"/><circle cx="1218.5" cy="428.7"/><circle cx="1290.5" cy="407.9"/><circle cx="1362.4" cy="410.1"/><circle cx="1239.0" cy="405.4"/><circle cx="1262.8" cy="407.2"/><circle cx="1239.0" cy="405.8"/><circle cx="1239.0" cy="391.9"/><circle cx="1158.1" cy="335.1"/><circle cx="1262.8" cy="358.6"/><circle cx="1239.0" cy="374.1"/><circle cx="1239.0" cy="374.1"/><circle cx="1323.2" cy="371.2"/><circle cx="1362.4" cy="366.3"/><circle cx="1323.2" cy="365.1"/><circle cx="1410.0" cy="379.2"/><circle cx="1290.5" cy="369.9"/><circle cx="1323.2" cy="365.5"/><circle cx="1362.4" cy="396.1"/><circle cx="1237.9" cy="455.4"/><circle cx="1408.1" cy="460.4"/><circle cx="1289.1" cy="456.9"/><circle cx="1157.3" cy="450.9"/><circle cx="1289.1" cy="457.5"/><circle cx="1408.1" cy="460.2"/><circle cx="1261.5" cy="456.3"/><circle cx="1199.5" cy="453.0"/><circle cx="1289.1" cy="433.5"/><circle cx="1360.7" cy="434.9"/><circle cx="1360.7" cy="435.6"/><circle cx="1360.7" cy="435.0"/><circle cx="1360.7" cy="435.5"/><circle cx="1360.7" cy="435.2"/><circle cx="1360.7" cy="410.9"/><circle cx="1199.5" cy="404.7"/><circle cx="1408.1" cy="412.4"/><circle cx="1217.4" cy="405.7"/><circle cx="1261.5" cy="384.5"/><circle cx="1237.9" cy="364.1"/><circle cx="1237.9" cy="369.1"/><circle cx="1408.1" cy="388.6"/><circle cx="1360.7" cy="397.4"/><circle cx="1217.4" cy="382.4"/><circle cx="1360.7" cy="397.1"/><circle cx="1408.1" cy="326.5"/><circle cx="1360.7" cy="342.8"/><circle cx="1321.7" cy="386.1"/><circle cx="1261.5" cy="384.3"/><circle cx="1321.7" cy="378.9"/><circle cx="1289.1" cy="356.9"/><circle cx="1320.2" cy="459.3"/><circle cx="1320.2" cy="459.8"/><circle cx="1320.2" cy="459.3"/><circle cx="1260.3" cy="457.0"/><circle cx="1236.7" cy="456.3"/><circle cx="1287.8" cy="458.4"/><circle cx="1320.2" cy="459.3"/><circle cx="1236.7" cy="432.4"/><circle cx="1320.2" cy="435.2"/><circle cx="1260.3" cy="433.4"/><circle cx="1287.8" cy="434.2"/><circle cx="1287.8" cy="434.6"/><circle cx="1320.2" cy="435.4"/><circle cx="1320.2" cy="411.1"/><circle cx="1359.0" cy="412.5"/><circle cx="1260.3" cy="409.0"/><circle cx="1260.3" cy="409.3"/><circle cx="1320.2" cy="411.5"/><circle cx="1465.0" cy="371.0"/><circle cx="1465.0" cy="390.7"/><circle cx="1236.7" cy="365.2"/><circle cx="1182.8" cy="349.4"/><circle cx="1216.3" cy="327.7"/><circle cx="1260.3" cy="361.6"/><circle cx="1287.8" cy="378.8"/><circle cx="1287.8" cy="378.7"/><circle cx="1359.0" cy="398.1"/><circle cx="1287.8" cy="372.6"/><circle cx="1359.0" cy="388.1"/><circle cx="1465.0" cy="366.4"/><circle cx="1260.3" cy="378.0"/><circle cx="1236.7" cy="376.6"/><circle cx="1287.8" cy="372.5"/><circle cx="1357.4" cy="462.2"/><circle cx="1318.8" cy="461.1"/><circle cx="1286.4" cy="459.7"/><circle cx="1235.6" cy="457.4"/><circle cx="1259.1" cy="458.2"/><circle cx="1357.4" cy="461.9"/><circle cx="1357.4" cy="462.1"/><circle cx="1286.4" cy="459.7"/><circle cx="1215.3" cy="432.2"/><circle cx="1404.5" cy="439.2"/><circle cx="1404.5" cy="438.6"/><circle cx="1235.6" cy="434.0"/><circle cx="1463.0" cy="439.8"/><circle cx="1318.8" cy="437.1"/><circle cx="1357.4" cy="414.0"/><circle cx="1357.4" cy="413.7"/><circle cx="1357.4" cy="414.0"/><circle cx="1357.4" cy="413.4"/><circle cx="1357.4" cy="413.7"/><circle cx="1463.0" cy="384.4"/><circle cx="1357.4" cy="370.6"/><circle cx="1259.1" cy="396.3"/><circle cx="1357.4" cy="370.8"/><circle cx="1286.4" cy="387.7"/><circle cx="1404.5" cy="377.0"/><circle cx="1215.3" cy="394.3"/><circle cx="1357.4" cy="389.8"/><circle cx="1357.4" cy="400.0"/><circle cx="1235.6" cy="377.7"/><circle cx="1318.8" cy="364.8"/><circle cx="1235.6" cy="365.9"/><circle cx="1404.5" cy="400.5"/><circle cx="1215.3" cy="376.5"/><circle cx="1318.8" cy="388.8"/><circle cx="1463.0" cy="384.4"/><circle cx="1285.2" cy="460.7"/><circle cx="1257.9" cy="460.2"/><circle cx="1317.3" cy="461.9"/><circle cx="1402.8" cy="464.4"/><circle cx="1285.2" cy="461.2"/><circle cx="1285.2" cy="461.2"/><circle cx="1234.5" cy="459.0"/><circle cx="1317.3" cy="462.0"/><circle cx="1234.5" cy="434.6"/><circle cx="1257.9" cy="436.3"/><circle cx="1355.9" cy="439.0"/><circle cx="1181.0" cy="431.6"/><circle cx="1355.9" cy="439.2"/><circle cx="1285.2" cy="412.6"/><circle cx="1234.5" cy="410.6"/><circle cx="1285.2" cy="412.8"/><circle cx="1317.3" cy="414.3"/><circle cx="1285.2" cy="353.5"/><circle cx="1234.5" cy="387.0"/><circle cx="1402.8" cy="391.7"/><circle cx="1402.8" cy="402.3"/><circle cx="1355.9" cy="367.2"/><circle cx="1234.5" cy="379.1"/><circle cx="1317.3" cy="382.0"/><circle cx="1285.2" cy="381.3"/><circle cx="1355.9" cy="400.8"/><circle cx="1355.9" cy="391.1"/><circle cx="1285.2" cy="349.5"/><circle cx="1285.2" cy="399.2"/><circle cx="1234.5" cy="372.7"/><circle cx="1317.3" cy="400.0"/><circle cx="1317.3" cy="361.9"/><circle cx="1317.3" cy="399.7"/><circle cx="1285.2" cy="360.5"/><circle cx="1316.0" cy="463.3"/><circle cx="1401.1" cy="465.7"/><circle cx="1283.9" cy="461.9"/><circle cx="1459.1" cy="466.6"/><circle cx="1316.0" cy="463.4"/><circle cx="1233.4" cy="460.4"/><circle cx="1354.4" cy="464.3"/><circle cx="1354.4" cy="440.2"/><circle cx="1401.1" cy="441.4"/><circle cx="1213.3" cy="435.3"/><circle cx="1316.0" cy="439.1"/><circle cx="1283.9" cy="438.2"/><circle cx="1256.7" cy="413.3"/><circle cx="1316.0" cy="415.3"/><circle cx="1283.9" cy="414.2"/><circle cx="1233.4" cy="412.2"/><circle cx="1354.4" cy="364.0"/><circle cx="1401.1" cy="373.9"/><circle cx="1233.4" cy="368.5"/><circle cx="1459.1" cy="386.6"/><circle cx="1354.4" cy="372.8"/><circle cx="1233.4" cy="327.6"/><circle cx="1354.4" cy="378.6"/><circle cx="1354.4" cy="392.3"/><circle cx="1283.9" cy="361.7"/><circle cx="1459.1" cy="386.9"/><circle cx="1283.9" cy="400.2"/><circle cx="1401.1" cy="365.4"/><circle cx="1354.4" cy="392.0"/><circle cx="1283.9" cy="390.3"/><circle cx="1354.4" cy="378.2"/><circle cx="1256.7" cy="375.3"/><circle cx="1180.1" cy="395.3"/><circle cx="1256.7" cy="375.0"/><circle cx="1255.6" cy="462.5"/><circle cx="1232.4" cy="461.8"/><circle cx="1255.6" cy="462.8"/><circle cx="1314.6" cy="464.6"/><circle cx="1352.9" cy="465.6"/><circle cx="1232.4" cy="461.8"/><circle cx="1352.9" cy="465.2"/><circle cx="1314.6" cy="440.2"/><circle cx="1255.6" cy="438.7"/><circle cx="1282.7" cy="439.8"/><circle cx="1255.6" cy="438.4"/><circle cx="1255.6" cy="438.8"/><circle cx="1352.9" cy="417.3"/><circle cx="1314.6" cy="416.2"/><circle cx="1399.4" cy="419.0"/><circle cx="1314.6" cy="416.2"/><circle cx="1282.7" cy="391.5"/><circle cx="1314.6" cy="373.4"/><circle cx="1282.7" cy="363.6"/><circle cx="1314.6" cy="392.2"/><circle cx="1399.4" cy="363.2"/><circle cx="1352.9" cy="394.0"/><circle cx="1255.6" cy="382.9"/><circle cx="1255.6" cy="390.7"/><circle cx="1314.6" cy="384.8"/><circle cx="1232.4" cy="389.0"/><circle cx="1255.6" cy="376.6"/><circle cx="1314.6" cy="384.9"/><circle cx="1352.9" cy="393.8"/><circle cx="1255.6" cy="390.1"/><circle cx="1212.3" cy="388.5"/><circle cx="1282.7" cy="377.5"/><circle cx="1352.9" cy="369.8"/><circle cx="1282.7" cy="372.4"/><circle cx="1212.3" cy="364.3"/><circle cx="1231.4" cy="462.9"/><circle cx="1397.8" cy="467.8"/><circle cx="1313.3" cy="465.6"/><circle cx="1351.4" cy="466.9"/><circle cx="1254.5" cy="464.1"/><circle cx="1313.3" cy="466.1"/><circle cx="1281.5" cy="464.6"/><circle cx="1254.5" cy="440.0"/><circle cx="1313.3" cy="441.8"/><circle cx="1281.5" cy="440.6"/><circle cx="1193.9" cy="436.2"/><circle cx="1351.4" cy="443.1"/><circle cx="1351.4" cy="418.4"/><circle cx="1397.8" cy="419.8"/><circle cx="1397.8" cy="420.2"/><circle cx="1313.3" cy="417.5"/><circle cx="1313.3" cy="394.1"/><circle cx="1313.3" cy="385.7"/><circle cx="1281.5" cy="343.9"/><circle cx="1231.4" cy="390.8"/><circle cx="1281.5" cy="346.1"/><circle cx="1231.4" cy="391.1"/><circle cx="1254.5" cy="401.9"/><circle cx="1254.5" cy="368.0"/><circle cx="1254.5" cy="401.3"/><circle cx="1281.5" cy="379.0"/><circle cx="1254.5" cy="384.1"/><circle cx="1351.4" cy="381.1"/><circle cx="1281.5" cy="402.7"/><circle cx="1397.8" cy="381.6"/><circle cx="1313.3" cy="403.5"/><circle cx="1254.5" cy="367.6"/><circle cx="1281.5" cy="373.7"/><circle cx="1281.5" cy="373.3"/><circle cx="1351.4" cy="370.7"/><circle cx="1455.3" cy="397.2"/><circle cx="1312.0" cy="467.5"/><circle cx="1396.2" cy="468.9"/><circle cx="1177.7" cy="460.9"/><circle cx="1312.0" cy="467.0"/><circle cx="1396.2" cy="469.1"/><circle cx="1253.4" cy="464.6"/><circle cx="1280.3" cy="466.0"/><circle cx="1230.4" cy="439.9"/><circle cx="1312.0" cy="442.9"/><circle cx="1312.0" cy="443.4"/><circle cx="1280.3" cy="441.7"/><circle cx="1312.0" cy="443.4"/><circle cx="1230.4" cy="416.3"/><circle cx="1280.3" cy="418.4"/><circle cx="1280.3" cy="417.7"/><circle cx="1350.0" cy="420.3"/><circle cx="1312.0" cy="381.4"/><circle cx="1280.3" cy="394.1"/><circle cx="1312.0" cy="362.9"/><circle cx="1350.0" cy="382.3"/><circle cx="1280.3" cy="386.6"/><circle cx="1253.4" cy="373.5"/><circle cx="1280.3" cy="374.7"/><circle cx="1396.2" cy="397.4"/><circle cx="1230.4" cy="364.1"/><circle cx="1280.3" cy="370.2"/><circle cx="1230.4" cy="372.5"/><circle cx="1312.0" cy="405.4"/><circle cx="1253.4" cy="361.2"/><circle cx="1280.3" cy="334.3"/><circle cx="1312.0" cy="366.9"/><circle cx="1253.4" cy="379.2"/><circle cx="1396.2" cy="362.1"/><circle cx="1350.0" cy="372.4"/><circle cx="1312.0" cy="404.9"/><circle cx="1396.2" cy="397.1"/><circle cx="1229.4" cy="465.4"/><circle cx="1209.5" cy="464.6"/><circle cx="1279.1" cy="467.5"/><circle cx="1310.7" cy="468.4"/><circle cx="1252.4" cy="466.5"/><circle cx="1252.4" cy="466.6"/><circle cx="1279.1" cy="467.0"/><circle cx="1229.4" cy="441.3"/><circle cx="1310.7" cy="444.0"/><circle cx="1151.2" cy="437.1"/><circle cx="1348.6" cy="445.0"/><circle cx="1310.7" cy="444.0"/><circle cx="1348.6" cy="421.6"/><circle cx="1252.4" cy="417.9"/><circle cx="1279.1" cy="419.6"/><circle cx="1252.4" cy="417.9"/><circle cx="1252.4" cy="352.5"/><circle cx="1252.4" cy="366.0"/><circle cx="1252.4" cy="404.2"/><circle cx="1229.4" cy="393.1"/><circle cx="1310.7" cy="376.9"/><circle cx="1279.1" cy="356.4"/><circle cx="1279.1" cy="375.6"/><circle cx="1310.7" cy="382.1"/><circle cx="1348.6" cy="365.9"/><circle cx="1279.1" cy="381.5"/><circle cx="1348.6" cy="383.0"/><circle cx="1348.6" cy="327.7"/><circle cx="1229.4" cy="361.9"/><circle cx="1252.4" cy="366.2"/><circle cx="1252.4" cy="394.3"/><circle cx="1279.1" cy="405.6"/><circle cx="1279.1" cy="363.3"/><circle cx="1252.4" cy="404.3"/><circle cx="1229.4" cy="334.0"/><circle cx="1394.6" cy="391.0"/><circle cx="1348.6" cy="356.0"/><circle cx="1229.4" cy="365.4"/><circle cx="1348.6" cy="369.2"/><circle cx="1252.4" cy="375.0"/><circle cx="1228.4" cy="466.6"/><circle cx="1347.2" cy="471.1"/><circle cx="1309.5" cy="469.3"/><circle cx="1251.3" cy="467.8"/><circle cx="1347.2" cy="470.9"/><circle cx="1347.2" cy="470.9"/><circle cx="1278.0" cy="444.2"/><circle cx="1228.4" cy="442.4"/><circle cx="1309.5" cy="445.3"/><circle cx="1347.2" cy="447.0"/><circle cx="1347.2" cy="446.4"/><circle cx="1309.5" cy="421.8"/><circle cx="1278.0" cy="420.5"/><circle cx="1251.3" cy="419.6"/><circle cx="1393.1" cy="424.0"/><circle cx="1278.0" cy="377.6"/><circle cx="1278.0" cy="389.1"/><circle cx="1278.0" cy="396.2"/><circle cx="1347.2" cy="391.3"/><circle cx="1191.3" cy="322.6"/><circle cx="1347.2" cy="350.9"/><circle cx="1347.2" cy="398.3"/><circle cx="1278.0" cy="377.6"/><circle cx="1347.2" cy="408.6"/><circle cx="1450.0" cy="369.3"/><circle cx="1228.4" cy="356.8"/><circle cx="1450.0" cy="400.9"/><circle cx="1228.4" cy="380.4"/><circle cx="1347.2" cy="398.6"/><circle cx="1347.2" cy="370.9"/><circle cx="1347.2" cy="356.1"/><circle cx="1278.0" cy="376.9"/><circle cx="1251.3" cy="405.8"/><circle cx="1347.2" cy="391.3"/><circle cx="1208.6" cy="373.7"/><circle cx="1347.2" cy="344.9"/><circle cx="1393.1" cy="399.7"/><circle cx="1228.4" cy="317.0"/><circle cx="1393.1" cy="371.5"/><circle cx="1251.3" cy="395.5"/><circle cx="1191.3" cy="360.5"/><circle cx="1391.6" cy="473.1"/><circle cx="1308.3" cy="470.9"/><circle cx="1308.3" cy="470.6"/><circle cx="1276.9" cy="469.5"/><circle cx="1308.3" cy="470.5"/><circle cx="1308.3" cy="470.5"/><circle cx="1308.3" cy="446.8"/><circle cx="1391.6" cy="448.8"/><circle cx="1276.9" cy="445.6"/><circle cx="1308.3" cy="422.8"/><circle cx="1391.6" cy="424.7"/><circle cx="1227.5" cy="419.6"/><circle cx="1250.3" cy="420.4"/><circle cx="1250.3" cy="368.9"/><circle cx="1227.5" cy="372.0"/><circle cx="1250.3" cy="377.2"/><circle cx="1190.5" cy="386.1"/><circle cx="1391.6" cy="410.8"/><circle cx="1250.3" cy="397.1"/><circle cx="1250.3" cy="377.4"/><circle cx="1276.9" cy="389.8"/><circle cx="1207.8" cy="381.1"/><circle cx="1308.3" cy="363.8"/><circle cx="1448.4" cy="382.3"/><circle cx="1308.3" cy="366.8"/><circle cx="1276.9" cy="407.9"/><circle cx="1308.3" cy="399.1"/><circle cx="1276.9" cy="345.2"/><circle cx="1207.8" cy="394.6"/><circle cx="1227.5" cy="387.9"/><circle cx="1276.9" cy="390.3"/><circle cx="1391.6" cy="368.9"/><circle cx="1308.3" cy="398.6"/><circle cx="1276.9" cy="384.1"/><circle cx="1345.9" cy="376.0"/><circle cx="1276.9" cy="369.9"/><circle cx="1227.5" cy="381.5"/><circle cx="1276.9" cy="408.0"/><circle cx="1120.4" cy="391.6"/><circle cx="1227.5" cy="406.0"/><circle cx="1307.1" cy="472.4"/><circle cx="1390.1" cy="474.2"/><circle cx="1275.8" cy="470.9"/><circle cx="1390.1" cy="474.6"/><circle cx="1307.1" cy="471.9"/><circle cx="1344.5" cy="473.1"/><circle cx="1390.1" cy="473.9"/><circle cx="1206.9" cy="444.1"/><circle cx="1390.1" cy="449.9"/><circle cx="1307.1" cy="448.3"/><circle cx="1249.3" cy="421.9"/><circle cx="1307.1" cy="424.3"/><circle cx="1344.5" cy="425.5"/><circle cx="1189.7" cy="418.5"/><circle cx="1275.8" cy="363.7"/><circle cx="1226.6" cy="373.3"/><circle cx="1344.5" cy="369.3"/><circle cx="1249.3" cy="374.2"/><circle cx="1307.1" cy="400.1"/><circle cx="1390.1" cy="412.3"/><circle cx="1307.1" cy="368.3"/><circle cx="1206.9" cy="367.6"/><circle cx="1249.3" cy="339.8"/><circle cx="1344.5" cy="387.5"/><circle cx="1249.3" cy="355.2"/><circle cx="1189.7" cy="394.6"/><circle cx="1390.1" cy="394.6"/><circle cx="1307.1" cy="376.0"/><circle cx="1275.8" cy="334.5"/><circle cx="1226.6" cy="368.8"/><circle cx="1249.3" cy="384.2"/><circle cx="1249.3" cy="373.8"/><circle cx="1307.1" cy="324.3"/><circle cx="1249.3" cy="390.0"/><circle cx="1226.6" cy="406.7"/><circle cx="1307.1" cy="376.2"/><circle cx="1344.5" cy="373.0"/><circle cx="1189.7" cy="381.1"/><circle cx="1307.1" cy="375.8"/><circle cx="1344.5" cy="401.3"/><circle cx="1226.6" cy="365.1"/><circle cx="1274.7" cy="472.3"/><circle cx="1206.1" cy="469.3"/><circle cx="1305.9" cy="473.2"/><circle cx="1248.3" cy="471.1"/><circle cx="1343.2" cy="474.3"/><circle cx="1343.2" cy="474.6"/><circle cx="1445.1" cy="452.8"/><circle cx="1248.3" cy="447.1"/><circle cx="1388.7" cy="451.1"/><circle cx="1305.9" cy="449.2"/><circle cx="1388.7" cy="427.2"/><circle cx="1388.7" cy="427.9"/><circle cx="1274.7" cy="424.7"/><circle cx="1305.9" cy="425.1"/><circle cx="1188.9" cy="364.4"/><circle cx="1274.7" cy="400.0"/><circle cx="1225.7" cy="398.4"/><circle cx="1274.7" cy="372.4"/><circle cx="1248.3" cy="368.0"/><circle cx="1388.7" cy="347.1"/><circle cx="1343.2" cy="412.6"/><circle cx="1248.3" cy="364.3"/><circle cx="1225.7" cy="383.9"/><circle cx="1388.7" cy="379.5"/><circle cx="1305.9" cy="401.2"/><circle cx="1343.2" cy="370.9"/><circle cx="1225.7" cy="398.4"/><circle cx="1305.9" cy="338.6"/><circle cx="1343.2" cy="364.4"/><circle cx="1225.7" cy="398.5"/><circle cx="1119.3" cy="362.5"/><circle cx="1388.7" cy="379.2"/><circle cx="1305.9" cy="401.7"/><circle cx="1274.7" cy="372.0"/><circle cx="1225.7" cy="398.4"/><circle cx="1343.2" cy="388.6"/><circle cx="1274.7" cy="369.0"/><circle cx="1388.7" cy="371.6"/><circle cx="1248.3" cy="391.8"/><circle cx="1305.9" cy="369.8"/><circle cx="1274.7" cy="392.5"/><circle cx="1247.4" cy="472.8"/><circle cx="1304.8" cy="475.0"/><circle cx="1247.4" cy="472.3"/><circle cx="1342.0" cy="475.7"/><circle cx="1304.8" cy="474.9"/><circle cx="1387.3" cy="476.7"/><circle cx="1342.0" cy="451.5"/><circle cx="1247.4" cy="448.6"/><circle cx="1224.8" cy="447.6"/><circle cx="1387.3" cy="429.0"/><circle cx="1273.7" cy="425.3"/><circle cx="1304.8" cy="426.3"/><circle cx="1273.7" cy="425.7"/><circle cx="1273.7" cy="370.1"/><circle cx="1387.3" cy="390.9"/><circle cx="1273.7" cy="401.8"/><circle cx="1304.8" cy="395.1"/><circle cx="1273.7" cy="369.9"/><circle cx="1247.4" cy="400.7"/><circle cx="1247.4" cy="392.5"/><circle cx="1342.0" cy="389.3"/><circle cx="1188.2" cy="339.6"/><circle cx="1304.8" cy="395.3"/><circle cx="1387.3" cy="381.1"/><circle cx="1304.8" cy="394.8"/><circle cx="1443.5" cy="415.8"/><circle cx="1247.4" cy="372.2"/><circle cx="1247.4" cy="400.8"/><circle cx="1304.8" cy="412.2"/><circle cx="1304.8" cy="383.3"/><circle cx="1304.8" cy="364.5"/><circle cx="1273.7" cy="402.0"/><circle cx="1273.7" cy="393.7"/><circle cx="1173.1" cy="361.4"/><circle cx="1247.4" cy="339.3"/><circle cx="1342.0" cy="404.0"/><circle cx="1247.4" cy="376.7"/><circle cx="1342.0" cy="413.9"/><circle cx="1304.8" cy="413.0"/><circle cx="1304.8" cy="413.0"/><circle cx="1387.3" cy="380.5"/><circle cx="1273.7" cy="382.1"/><circle cx="1303.6" cy="476.3"/><circle cx="1441.9" cy="479.1"/><circle cx="1272.7" cy="474.5"/><circle cx="1223.9" cy="473.2"/><circle cx="1223.9" cy="472.9"/><circle cx="1303.6" cy="476.2"/><circle cx="1385.9" cy="478.1"/><circle cx="1223.9" cy="448.7"/><circle cx="1340.7" cy="452.9"/><circle cx="1223.9" cy="449.0"/><circle cx="1340.7" cy="428.6"/><circle cx="1340.7" cy="428.9"/><circle cx="1303.6" cy="427.7"/><circle cx="1272.7" cy="427.1"/><circle cx="1340.7" cy="415.2"/><circle cx="1272.7" cy="402.8"/><circle cx="1272.7" cy="403.0"/><circle cx="1246.4" cy="369.8"/><circle cx="1303.6" cy="371.9"/><circle cx="1340.7" cy="404.7"/><circle cx="1272.7" cy="403.2"/><circle cx="1246.4" cy="357.1"/><circle cx="1303.6" cy="414.3"/><circle cx="1246.4" cy="382.2"/><circle cx="1303.6" cy="396.1"/><circle cx="1303.6" cy="404.0"/><circle cx="1246.4" cy="411.6"/><circle cx="1246.4" cy="382.8"/><circle cx="1272.7" cy="413.2"/><circle cx="1303.6" cy="379.8"/><circle cx="1303.6" cy="413.9"/><circle cx="1303.6" cy="371.8"/><circle cx="1272.7" cy="402.7"/><circle cx="1187.4" cy="398.7"/><circle cx="1223.9" cy="355.4"/><circle cx="1385.9" cy="381.8"/><circle cx="1246.4" cy="402.2"/><circle cx="1272.7" cy="375.0"/><circle cx="1340.7" cy="373.6"/><circle cx="1246.4" cy="402.1"/><circle cx="1204.4" cy="380.4"/><circle cx="1246.4" cy="363.7"/><circle cx="1272.7" cy="413.1"/><circle cx="1272.7" cy="395.1"/><circle cx="1203.7" cy="473.0"/><circle cx="1384.5" cy="479.0"/><circle cx="1245.5" cy="475.2"/><circle cx="1302.5" cy="477.2"/><circle cx="1302.5" cy="477.1"/><circle cx="1117.7" cy="470.6"/><circle cx="1146.6" cy="445.9"/><circle cx="1302.5" cy="453.1"/><circle cx="1302.5" cy="453.3"/><circle cx="1339.5" cy="430.3"/><circle cx="1339.5" cy="430.5"/><circle cx="1271.7" cy="428.3"/><circle cx="1223.1" cy="426.4"/><circle cx="1223.1" cy="402.1"/><circle cx="1245.5" cy="359.2"/><circle cx="1440.4" cy="408.1"/><circle cx="1384.5" cy="407.3"/><circle cx="1203.7" cy="366.4"/><circle cx="1271.7" cy="390.2"/><circle cx="1302.5" cy="385.4"/><circle cx="1271.7" cy="413.7"/><circle cx="1223.1" cy="402.5"/><circle cx="1223.1" cy="402.3"/><circle cx="1271.7" cy="404.0"/><circle cx="1203.7" cy="410.7"/><circle cx="1302.5" cy="414.8"/><circle cx="1339.5" cy="405.8"/><circle cx="1203.7" cy="376.8"/><circle cx="1245.5" cy="384.0"/><circle cx="1384.5" cy="407.1"/><circle cx="1271.7" cy="376.4"/><circle cx="1271.7" cy="404.2"/><circle cx="1245.5" cy="388.9"/><circle cx="1203.7" cy="366.1"/><circle cx="1302.5" cy="404.9"/><circle cx="1440.4" cy="357.9"/><circle cx="1271.7" cy="372.8"/><circle cx="1339.5" cy="378.4"/><circle cx="1339.5" cy="371.3"/><circle cx="1384.5" cy="369.6"/><circle cx="1186.7" cy="386.3"/><circle cx="1223.1" cy="387.7"/><circle cx="1223.1" cy="402.5"/><circle cx="1339.5" cy="398.2"/><circle cx="1301.5" cy="478.6"/><circle cx="1301.5" cy="478.7"/><circle cx="1270.7" cy="477.5"/><circle cx="1338.3" cy="479.9"/><circle cx="1338.3" cy="479.3"/><circle cx="1244.6" cy="476.0"/><circle cx="1202.9" cy="450.0"/><circle cx="1301.5" cy="454.1"/><circle cx="1171.1" cy="448.0"/><circle cx="1270.7" cy="453.1"/><circle cx="1383.2" cy="432.8"/><circle cx="1244.6" cy="428.0"/><circle cx="1338.3" cy="431.8"/><circle cx="1222.2" cy="427.0"/><circle cx="1338.3" cy="360.8"/><circle cx="1383.2" cy="376.8"/><circle cx="1338.3" cy="383.8"/><circle cx="1301.5" cy="398.9"/><circle cx="1438.9" cy="371.8"/><circle cx="1244.6" cy="390.7"/><circle cx="1244.6" cy="414.6"/><circle cx="1244.6" cy="375.9"/><circle cx="1270.7" cy="374.0"/><circle cx="1222.2" cy="413.5"/><circle cx="1244.6" cy="404.3"/><circle cx="1270.7" cy="377.1"/><circle cx="1301.5" cy="392.1"/><circle cx="1222.2" cy="413.2"/><circle cx="1117.2" cy="380.2"/><circle cx="1338.3" cy="341.8"/><circle cx="1270.7" cy="397.6"/><circle cx="1301.5" cy="312.8"/><circle cx="1301.5" cy="406.7"/><circle cx="1244.6" cy="380.6"/><circle cx="1338.3" cy="388.1"/><circle cx="1338.3" cy="342.0"/><circle cx="1270.7" cy="381.4"/><circle cx="1383.2" cy="394.5"/><circle cx="1244.6" cy="390.0"/><circle cx="1146.0" cy="399.5"/><circle cx="1244.6" cy="414.1"/><circle cx="1244.6" cy="404.6"/><circle cx="1270.7" cy="405.3"/><circle cx="1338.3" cy="407.7"/><circle cx="1270.7" cy="367.1"/><circle cx="1381.9" cy="481.8"/><circle cx="1337.1" cy="480.9"/><circle cx="1243.7" cy="478.0"/><circle cx="1221.4" cy="476.7"/><circle cx="1269.7" cy="479.1"/><circle cx="1381.9" cy="481.7"/><circle cx="1269.7" cy="454.9"/><circle cx="1337.1" cy="456.4"/><circle cx="1221.4" cy="452.8"/><circle cx="1300.4" cy="455.9"/><circle cx="1202.1" cy="427.5"/><circle cx="1243.7" cy="429.7"/><circle cx="1337.1" cy="432.7"/><circle cx="1337.1" cy="432.4"/><circle cx="1337.1" cy="408.5"/><circle cx="1243.7" cy="386.5"/><circle cx="1381.9" cy="419.4"/><circle cx="1337.1" cy="389.6"/><circle cx="1269.7" cy="366.7"/><circle cx="1243.7" cy="374.2"/><circle cx="1337.1" cy="418.7"/><circle cx="1381.9" cy="401.9"/><circle cx="1243.7" cy="405.7"/><circle cx="1221.4" cy="366.2"/><circle cx="1300.4" cy="400.3"/><circle cx="1337.1" cy="351.4"/><circle cx="1221.4" cy="390.6"/><circle cx="1381.9" cy="401.9"/><circle cx="1269.7" cy="382.7"/><circle cx="1145.4" cy="401.0"/><circle cx="1243.7" cy="370.2"/><circle cx="1221.4" cy="397.2"/><circle cx="1243.7" cy="391.3"/><circle cx="1221.4" cy="372.9"/><circle cx="1337.1" cy="408.6"/><circle cx="1381.9" cy="402.1"/><circle cx="1337.1" cy="418.6"/><circle cx="1337.1" cy="380.6"/><circle cx="1337.1" cy="400.8"/><circle cx="1243.7" cy="381.6"/><circle cx="1381.9" cy="385.6"/><circle cx="1381.9" cy="378.4"/><circle cx="1170.4" cy="393.9"/><circle cx="1269.7" cy="399.2"/><circle cx="1221.4" cy="404.2"/><circle cx="1242.8" cy="478.6"/><circle cx="1380.6" cy="482.7"/><circle cx="1299.3" cy="481.1"/><circle cx="1242.8" cy="479.2"/><circle cx="1380.6" cy="482.7"/><circle cx="1435.9" cy="484.0"/><circle cx="1299.3" cy="456.7"/><circle cx="1242.8" cy="455.3"/><circle cx="1268.7" cy="455.7"/><circle cx="1380.6" cy="435.0"/><circle cx="1435.9" cy="436.2"/><circle cx="1268.7" cy="432.2"/><circle cx="1268.7" cy="431.7"/><circle cx="1435.9" cy="412.1"/><circle cx="1380.6" cy="387.1"/><circle cx="1380.6" cy="382.7"/><circle cx="1242.8" cy="371.6"/><circle cx="1299.3" cy="418.9"/><circle cx="1220.6" cy="382.1"/><circle cx="1299.3" cy="374.3"/><circle cx="1268.7" cy="400.6"/><circle cx="1299.3" cy="377.4"/><circle cx="1299.3" cy="395.2"/><circle cx="1435.9" cy="380.5"/><circle cx="1220.6" cy="406.2"/><circle cx="1380.6" cy="396.7"/><circle cx="1268.7" cy="400.0"/><circle cx="1242.8" cy="383.0"/><circle cx="1268.7" cy="408.1"/><circle cx="1242.8" cy="407.0"/><circle cx="1268.7" cy="400.1"/><circle cx="1336.0" cy="410.0"/><circle cx="1299.3" cy="374.1"/><circle cx="1242.8" cy="383.3"/><circle cx="1242.8" cy="399.5"/><circle cx="1380.6" cy="370.1"/><circle cx="1380.6" cy="391.3"/><circle cx="1268.7" cy="384.1"/><circle cx="1299.3" cy="370.2"/><circle cx="1268.7" cy="376.6"/><circle cx="1336.0" cy="343.0"/><circle cx="1380.6" cy="410.9"/><circle cx="1268.7" cy="368.5"/><circle cx="1268.7" cy="388.3"/><circle cx="1379.3" cy="484.6"/><circle cx="1144.3" cy="475.2"/><circle cx="1379.3" cy="484.6"/><circle cx="1379.3" cy="484.6"/><circle cx="1267.8" cy="480.9"/><circle cx="1267.8" cy="481.2"/><circle cx="1379.3" cy="460.0"/><circle cx="1267.8" cy="457.5"/><circle cx="1242.0" cy="456.5"/><circle cx="1298.3" cy="434.6"/><circle cx="1200.6" cy="430.4"/><circle cx="1298.3" cy="434.2"/><circle cx="1298.3" cy="360.1"/><circle cx="1379.3" cy="374.0"/><circle cx="1334.8" cy="371.2"/><circle cx="1267.8" cy="395.5"/><circle cx="1183.9" cy="397.8"/><circle cx="1298.3" cy="396.5"/><circle cx="1200.6" cy="386.7"/><circle cx="1379.3" cy="388.2"/><circle cx="1267.8" cy="381.5"/><circle cx="1379.3" cy="373.0"/><circle cx="1298.3" cy="381.9"/><circle cx="1267.8" cy="389.7"/><circle cx="1219.8" cy="407.4"/><circle cx="1242.0" cy="393.9"/><circle cx="1298.3" cy="378.3"/><circle cx="1334.8" cy="386.9"/><circle cx="1334.8" cy="403.3"/><circle cx="1219.8" cy="399.0"/><circle cx="1267.8" cy="377.7"/><circle cx="1219.8" cy="383.3"/><circle cx="1242.0" cy="383.9"/><circle cx="1219.8" cy="375.0"/><circle cx="1334.8" cy="421.5"/><circle cx="1267.8" cy="401.1"/><circle cx="1242.0" cy="400.3"/><circle cx="1219.8" cy="369.5"/><circle cx="1200.6" cy="398.8"/><circle cx="1334.8" cy="397.3"/><circle cx="1298.3" cy="395.9"/><circle cx="1267.8" cy="409.3"/><circle cx="1333.7" cy="484.9"/><circle cx="1333.7" cy="484.6"/><circle cx="1333.7" cy="484.4"/><circle cx="1378.1" cy="485.8"/><circle cx="1183.2" cy="478.3"/><circle cx="1219.0" cy="456.8"/><circle cx="1333.7" cy="460.9"/><circle cx="1297.3" cy="459.6"/><circle cx="1266.9" cy="434.2"/><circle cx="1199.9" cy="431.8"/><circle cx="1378.1" cy="437.4"/><circle cx="1297.3" cy="387.2"/><circle cx="1378.1" cy="364.4"/><circle cx="1266.9" cy="420.7"/><circle cx="1241.1" cy="409.4"/><circle cx="1266.9" cy="420.1"/><circle cx="1199.9" cy="393.1"/><circle cx="1297.3" cy="397.7"/><circle cx="1378.1" cy="423.5"/><circle cx="1266.9" cy="369.3"/><circle cx="1241.1" cy="395.7"/><circle cx="1378.1" cy="399.7"/><circle cx="1241.1" cy="377.5"/><circle cx="1297.3" cy="403.9"/><circle cx="1241.1" cy="374.7"/><circle cx="1266.9" cy="396.3"/><circle cx="1266.9" cy="391.3"/><circle cx="1378.1" cy="406.2"/><circle cx="1219.0" cy="394.1"/><circle cx="1241.1" cy="377.7"/><circle cx="1297.3" cy="411.6"/><circle cx="1219.0" cy="384.4"/><circle cx="1241.1" cy="360.1"/><circle cx="1266.9" cy="361.6"/><circle cx="1378.1" cy="405.6"/><circle cx="1266.9" cy="396.5"/><circle cx="1266.9" cy="410.8"/><circle cx="1297.3" cy="339.8"/><circle cx="1378.1" cy="424.0"/><circle cx="1333.7" cy="398.7"/><circle cx="1219.0" cy="373.1"/><circle cx="1297.3" cy="411.3"/><circle cx="1240.3" cy="483.1"/><circle cx="1240.3" cy="482.9"/><circle cx="1332.6" cy="485.5"/><circle cx="1376.8" cy="486.6"/><circle cx="1332.6" cy="462.1"/><circle cx="1376.8" cy="463.0"/><circle cx="1296.3" cy="437.2"/><circle cx="1218.3" cy="433.4"/><circle cx="1266.0" cy="436.1"/><circle cx="1332.6" cy="414.1"/><circle cx="1332.6" cy="389.5"/><circle cx="1240.3" cy="379.0"/><circle cx="1376.8" cy="400.5"/><circle cx="1376.8" cy="424.9"/><circle cx="1296.3" cy="398.4"/><circle cx="1218.3" cy="359.5"/><circle cx="1266.0" cy="421.5"/><circle cx="1266.0" cy="411.5"/><circle cx="1332.6" cy="423.5"/><circle cx="1240.3" cy="396.9"/><circle cx="1266.0" cy="392.0"/><circle cx="1376.8" cy="347.0"/><circle cx="1296.3" cy="398.8"/><circle cx="1296.3" cy="377.6"/><circle cx="1266.0" cy="397.6"/><circle cx="1218.3" cy="395.8"/><circle cx="1182.5" cy="408.0"/><circle cx="1266.0" cy="412.2"/><circle cx="1296.3" cy="422.7"/><circle cx="1296.3" cy="350.5"/><circle cx="1332.6" cy="423.5"/><circle cx="1296.3" cy="405.3"/><circle cx="1376.8" cy="395.8"/><circle cx="1218.3" cy="409.9"/><circle cx="1296.3" cy="399.2"/><circle cx="1296.3" cy="412.5"/><circle cx="1240.3" cy="370.8"/><circle cx="1218.3" cy="349.3"/><circle cx="1376.8" cy="400.8"/><circle cx="1239.5" cy="484.1"/><circle cx="1217.5" cy="482.7"/><circle cx="1167.2" cy="432.2"/><circle cx="1295.3" cy="438.1"/><circle cx="1295.3" cy="437.9"/><circle cx="1375.6" cy="426.1"/><circle cx="1430.3" cy="417.5"/><circle cx="1331.6" cy="401.1"/><circle cx="1265.1" cy="422.8"/><circle cx="1331.6" cy="372.4"/><circle cx="1217.5" cy="391.5"/><circle cx="1295.3" cy="424.3"/><circle cx="1198.5" cy="420.0"/><circle cx="1239.5" cy="380.4"/><circle cx="1198.5" cy="395.7"/><circle cx="1295.3" cy="373.3"/><circle cx="1265.1" cy="326.6"/><circle cx="1198.5" cy="369.2"/><circle cx="1430.3" cy="417.5"/><circle cx="1430.3" cy="392.8"/><circle cx="1331.6" cy="380.1"/><circle cx="1375.6" cy="416.4"/><circle cx="1375.6" cy="416.4"/><circle cx="1295.3" cy="406.3"/><circle cx="1181.9" cy="389.1"/><circle cx="1331.6" cy="395.8"/><circle cx="1198.5" cy="390.4"/><circle cx="1265.1" cy="413.2"/><circle cx="1295.3" cy="370.9"/><circle cx="1375.6" cy="426.3"/><circle cx="1239.5" cy="397.6"/><circle cx="1331.6" cy="395.9"/><circle cx="1331.6" cy="383.6"/><circle cx="1265.1" cy="398.7"/><circle cx="1375.6" cy="426.3"/><circle cx="1374.4" cy="489.1"/><circle cx="1294.4" cy="487.6"/><circle cx="1330.5" cy="488.1"/><circle cx="1374.4" cy="441.7"/><circle cx="1294.4" cy="439.4"/><circle cx="1374.4" cy="441.7"/><circle cx="1330.5" cy="368.4"/><circle cx="1264.2" cy="370.3"/><circle cx="1264.2" cy="414.3"/><circle cx="1330.5" cy="402.5"/><circle cx="1197.8" cy="403.7"/><circle cx="1294.4" cy="375.4"/><circle cx="1197.8" cy="363.7"/><circle cx="1238.7" cy="423.5"/><circle cx="1238.7" cy="381.2"/><circle cx="1374.4" cy="417.6"/><circle cx="1374.4" cy="417.5"/><circle cx="1216.8" cy="412.6"/><circle cx="1294.4" cy="407.5"/><circle cx="1238.7" cy="389.6"/><circle cx="1238.7" cy="394.1"/><circle cx="1294.4" cy="383.6"/><circle cx="1264.2" cy="394.8"/><circle cx="1181.2" cy="402.2"/><circle cx="1330.5" cy="416.5"/><circle cx="1374.4" cy="403.7"/><circle cx="1216.8" cy="421.8"/><circle cx="1216.8" cy="387.9"/><circle cx="1197.8" cy="379.7"/><circle cx="1238.7" cy="381.6"/><circle cx="1330.5" cy="426.6"/><circle cx="1142.1" cy="367.4"/><circle cx="1294.4" cy="375.1"/><circle cx="1238.7" cy="405.2"/><circle cx="1374.4" cy="385.3"/><circle cx="1197.8" cy="403.8"/><circle cx="1197.1" cy="484.6"/><circle cx="1329.5" cy="489.7"/><circle cx="1197.1" cy="436.1"/><circle cx="1237.9" cy="438.5"/><circle cx="1293.4" cy="440.8"/><circle cx="1263.4" cy="408.2"/><circle cx="1237.9" cy="383.1"/><circle cx="1263.4" cy="415.2"/><circle cx="1373.3" cy="383.5"/><circle cx="1263.4" cy="407.6"/><circle cx="1263.4" cy="401.6"/><circle cx="1237.9" cy="349.7"/><circle cx="1237.9" cy="395.4"/><circle cx="1237.9" cy="400.2"/><circle cx="1180.6" cy="387.0"/><circle cx="1237.9" cy="400.5"/><circle cx="1141.6" cy="401.7"/><circle cx="1293.4" cy="426.3"/><circle cx="1293.4" cy="319.9"/><circle cx="1373.3" cy="383.7"/><circle cx="1329.5" cy="403.5"/><circle cx="1216.0" cy="413.2"/><circle cx="1263.4" cy="375.6"/><circle cx="1329.5" cy="390.0"/><circle cx="1373.3" cy="410.8"/><circle cx="1263.4" cy="380.6"/><circle cx="1197.1" cy="368.5"/><circle cx="1329.5" cy="385.7"/><circle cx="1216.0" cy="389.6"/><circle cx="1293.4" cy="396.8"/><circle cx="1216.0" cy="347.6"/><circle cx="1263.4" cy="396.3"/><circle cx="1293.4" cy="416.7"/><circle cx="1263.4" cy="416.0"/><circle cx="1262.5" cy="489.1"/><circle cx="1292.5" cy="489.9"/><circle cx="1262.5" cy="440.6"/><circle cx="1292.5" cy="441.5"/><circle cx="1196.5" cy="437.3"/><circle cx="1328.4" cy="367.5"/><circle cx="1237.1" cy="402.1"/><circle cx="1262.5" cy="365.2"/><circle cx="1262.5" cy="397.4"/><circle cx="1262.5" cy="346.6"/><circle cx="1292.5" cy="378.4"/><circle cx="1196.5" cy="347.4"/><circle cx="1292.5" cy="371.7"/><circle cx="1237.1" cy="387.9"/><circle cx="1292.5" cy="394.0"/><circle cx="1237.1" cy="381.0"/><circle cx="1292.5" cy="368.7"/><circle cx="1328.4" cy="386.9"/><circle cx="1262.5" cy="373.5"/><circle cx="1113.0" cy="411.1"/><circle cx="1237.1" cy="415.6"/><circle cx="1141.1" cy="410.6"/><circle cx="1237.1" cy="380.8"/><circle cx="1328.4" cy="386.8"/><circle cx="1262.5" cy="385.2"/><circle cx="1262.5" cy="397.6"/><circle cx="1292.5" cy="398.5"/><circle cx="1262.5" cy="375.2"/><circle cx="1292.5" cy="366.9"/><circle cx="1237.1" cy="396.2"/><circle cx="1237.1" cy="391.7"/><circle cx="1237.1" cy="346.0"/><circle cx="1215.3" cy="406.7"/><circle cx="1236.3" cy="489.3"/><circle cx="1327.4" cy="491.9"/><circle cx="1236.3" cy="464.9"/><circle cx="1327.4" cy="444.6"/><circle cx="1291.6" cy="443.2"/><circle cx="1291.6" cy="443.4"/><circle cx="1291.6" cy="418.8"/><circle cx="1236.3" cy="397.6"/><circle cx="1236.3" cy="403.1"/><circle cx="1291.6" cy="418.9"/><circle cx="1236.3" cy="335.0"/><circle cx="1291.6" cy="419.4"/><circle cx="1291.6" cy="404.7"/><circle cx="1291.6" cy="381.3"/><circle cx="1261.7" cy="404.4"/><circle cx="1371.0" cy="377.3"/><circle cx="1236.3" cy="416.7"/><circle cx="1214.6" cy="380.7"/><circle cx="1371.0" cy="407.0"/><circle cx="1195.8" cy="372.1"/><circle cx="1214.6" cy="402.2"/><circle cx="1327.4" cy="369.7"/><circle cx="1261.7" cy="386.0"/><circle cx="1327.4" cy="430.0"/><circle cx="1327.4" cy="429.8"/><circle cx="1327.4" cy="420.2"/><circle cx="1214.6" cy="388.0"/><circle cx="1371.0" cy="421.1"/><circle cx="1291.6" cy="411.8"/><circle cx="1327.4" cy="419.8"/><circle cx="1291.6" cy="391.2"/><circle cx="1195.8" cy="395.8"/><circle cx="1236.3" cy="417.4"/><circle cx="1195.2" cy="488.2"/><circle cx="1290.7" cy="492.6"/><circle cx="1260.9" cy="443.4"/><circle cx="1369.9" cy="446.6"/><circle cx="1326.4" cy="445.4"/><circle cx="1235.6" cy="390.1"/><circle cx="1290.7" cy="401.1"/><circle cx="1178.8" cy="321.8"/><circle cx="1290.7" cy="430.1"/><circle cx="1369.9" cy="398.9"/><circle cx="1290.7" cy="406.4"/><circle cx="1369.9" cy="408.6"/><circle cx="1290.7" cy="420.3"/><circle cx="1235.6" cy="386.8"/><circle cx="1290.7" cy="420.6"/><circle cx="1369.9" cy="378.1"/><circle cx="1213.9" cy="385.8"/><circle cx="1369.9" cy="311.0"/><circle cx="1235.6" cy="418.3"/><circle cx="1213.9" cy="409.3"/><circle cx="1326.4" cy="331.7"/><circle cx="1260.9" cy="395.7"/><circle cx="1260.9" cy="387.2"/><circle cx="1290.7" cy="396.3"/><circle cx="1235.6" cy="428.3"/><circle cx="1369.9" cy="422.5"/><circle cx="1178.8" cy="380.1"/><circle cx="1290.7" cy="412.8"/><circle cx="1290.7" cy="430.4"/><circle cx="1326.4" cy="413.3"/><circle cx="1368.8" cy="496.0"/><circle cx="1325.4" cy="494.5"/><circle cx="1194.5" cy="465.4"/><circle cx="1213.2" cy="442.4"/><circle cx="1260.1" cy="444.3"/><circle cx="1325.4" cy="446.7"/><circle cx="1325.4" cy="403.2"/><circle cx="1260.1" cy="392.2"/><circle cx="1260.1" cy="392.3"/><circle cx="1213.2" cy="374.8"/><circle cx="1234.8" cy="371.9"/><circle cx="1422.6" cy="389.8"/><circle cx="1368.8" cy="383.7"/><circle cx="1213.2" cy="394.5"/><circle cx="1260.1" cy="365.9"/><circle cx="1289.8" cy="402.2"/><circle cx="1325.4" cy="415.1"/><circle cx="1213.2" cy="410.9"/><circle cx="1234.8" cy="378.6"/><circle cx="1289.8" cy="380.8"/><circle cx="1288.9" cy="495.1"/><circle cx="1234.1" cy="469.2"/><circle cx="1367.7" cy="449.3"/><circle cx="1234.1" cy="445.1"/><circle cx="1367.7" cy="449.3"/><circle cx="1324.5" cy="424.2"/><circle cx="1259.3" cy="414.2"/><circle cx="1259.3" cy="390.6"/><circle cx="1259.3" cy="394.1"/><circle cx="1259.3" cy="397.9"/><circle cx="1234.1" cy="392.6"/><circle cx="1259.3" cy="407.5"/><circle cx="1324.5" cy="423.7"/><circle cx="1324.5" cy="423.8"/><circle cx="1259.3" cy="382.3"/><circle cx="1288.9" cy="398.8"/><circle cx="1177.6" cy="417.6"/><circle cx="1288.1" cy="496.1"/><circle cx="1258.5" cy="446.9"/><circle cx="1323.5" cy="448.9"/><circle cx="1323.5" cy="449.2"/><circle cx="1211.9" cy="430.9"/><circle cx="1233.4" cy="414.4"/><circle cx="1323.5" cy="417.5"/><circle cx="1233.4" cy="422.0"/><circle cx="1258.5" cy="375.6"/><circle cx="1258.5" cy="329.0"/><circle cx="1177.0" cy="400.0"/><circle cx="1366.7" cy="436.5"/><circle cx="1323.5" cy="401.1"/><circle cx="1288.1" cy="404.5"/><circle cx="1211.3" cy="446.3"/><circle cx="1322.6" cy="450.2"/><circle cx="1257.7" cy="384.4"/><circle cx="1257.7" cy="400.5"/><circle cx="1232.7" cy="409.3"/><circle cx="1322.6" cy="418.5"/><circle cx="1365.6" cy="382.5"/><circle cx="1192.7" cy="401.7"/><circle cx="1192.1" cy="446.5"/><circle cx="1364.6" cy="409.3"/><circle cx="1232.0" cy="396.7"/><circle cx="1364.6" cy="414.4"/><circle cx="1364.6" cy="414.7"/><circle cx="1286.4" cy="412.6"/><circle cx="1232.0" cy="401.0"/><circle cx="1256.2" cy="451.3"/><circle cx="1285.6" cy="392.7"/><circle cx="1231.3" cy="382.6"/><circle cx="1285.6" cy="427.8"/><circle cx="1320.8" cy="421.2"/><circle cx="1363.6" cy="406.0"/><circle cx="1255.5" cy="452.3"/><circle cx="1362.6" cy="431.4"/><circle cx="1136.8" cy="342.0"/><circle cx="1415.6" cy="424.6"/><circle cx="1284.8" cy="415.2"/><circle cx="1230.0" cy="452.2"/><circle cx="1284.0" cy="382.3"/><circle cx="1361.6" cy="394.7"/><circle cx="1190.3" cy="398.1"/><circle cx="1318.1" cy="456.7"/><circle cx="1254.0" cy="358.3"/><circle cx="1229.3" cy="429.4"/><circle cx="1282.4" cy="457.5"/><circle cx="1282.4" cy="413.5"/><circle cx="1282.4" cy="433.3"/><circle cx="1316.4" cy="390.8"/><circle cx="1227.4" cy="391.3"/><circle cx="1280.2" cy="405.3"/><circle cx="1356.0" cy="405.5"/><circle cx="1285.3" cy="91.1"/><circle cx="1228.4" cy="119.2"/><circle cx="1169.3" cy="174.6"/><circle cx="1271.2" cy="174.6"/><circle cx="1278.2" cy="197.4"/><circle cx="1252.8" cy="208.1"/><circle cx="1336.2" cy="213.0"/><circle cx="1406.7" cy="228.9"/><circle cx="1331.4" cy="242.0"/><circle cx="1334.6" cy="249.2"/><circle cx="1299.9" cy="245.6"/><circle cx="1274.4" cy="250.4"/><circle cx="1342.7" cy="262.4"/><circle cx="1312.9" cy="271.2"/><circle cx="1239.8" cy="272.2"/><circle cx="1212.7" cy="275.8"/><circle cx="1292.3" cy="279.6"/><circle cx="1275.5" cy="285.5"/><circle cx="1314.0" cy="290.3"/><circle cx="1194.8" cy="289.3"/><circle cx="1347.6" cy="303.9"/><circle cx="1246.8" cy="303.9"/><circle cx="1251.7" cy="301.1"/><circle cx="1014.3" cy="325.1"/><circle cx="1010.5" cy="335.2"/><circle cx="1060.4" cy="376.0"/><circle cx="1570.4" cy="409.3"/><circle cx="1524.3" cy="379.8"/><circle cx="1467.4" cy="353.9"/></g>
<path d="M983.0 407.7H1598.8" stroke="#d05050" stroke-width="1.5"/>
<text x="7.0" y="724.7" class="lab" style="font-size:44.5px">C</text>
<text transform="translate(80.7 1194.1) rotate(-90)" class="tt">Adjusted Troponin I</text>
<text transform="translate(131.6 1118.8) rotate(-90)" class="tt">(log[ng/ml])</text>
<text transform="translate(31.1 1077.3) rotate(-90)" class="ttb">Females</text>
<text x="376.0" y="1294.5" class="tt" style="font-size:43.0px">Age (Years)</text>
<rect x="176.7" y="781.2" width="620.1" height="445.9" class="ax" fill="none"/>
<text x="220.8" y="1259.3" class="tk" text-anchor="middle">20</text>
<text x="366.5" y="1259.3" class="tk" text-anchor="middle">40</text>
<text x="512.2" y="1259.3" class="tk" text-anchor="middle">60</text>
<text x="657.9" y="1259.3" class="tk" text-anchor="middle">80</text>
<text transform="translate(155.6 835.8) rotate(-90)" class="tk" text-anchor="middle">2</text>
<text transform="translate(155.6 905.4) rotate(-90)" class="tk" text-anchor="middle">0</text>
<text transform="translate(155.6 975.0) rotate(-90)" class="tk" text-anchor="middle">-2</text>
<text transform="translate(155.6 1044.5) rotate(-90)" class="tk" text-anchor="middle">-4</text>
<text transform="translate(155.6 1114.1) rotate(-90)" class="tk" text-anchor="middle">-6</text>
<text transform="translate(155.6 1183.6) rotate(-90)" class="tk" text-anchor="middle">-8</text>
<path d="M220.8 1227.1V1235.9M366.5 1227.1V1235.9M512.2 1227.1V1235.9M657.9 1227.1V1235.9M166.9 835.8H176.7M166.9 905.4H176.7M166.9 975.0H176.7M166.9 1044.5H176.7M166.9 1114.1H176.7M166.9 1183.6H176.7" class="ax"/>
<g class="pt"><circle cx="206.2" cy="1106.7"/><circle cx="206.2" cy="1112.3"/><circle cx="206.2" cy="1063.2"/><circle cx="213.5" cy="1114.0"/><circle cx="213.5" cy="1112.8"/><circle cx="213.5" cy="1053.1"/><circle cx="220.8" cy="1114.4"/><circle cx="220.8" cy="1110.1"/><circle cx="220.8" cy="1113.5"/><circle cx="220.8" cy="1090.5"/><circle cx="220.8" cy="1058.4"/><circle cx="220.8" cy="1039.6"/><circle cx="228.1" cy="1112.7"/><circle cx="228.1" cy="1108.1"/><circle cx="228.1" cy="1089.4"/><circle cx="228.1" cy="1066.5"/><circle cx="235.4" cy="1114.1"/><circle cx="235.4" cy="1112.6"/><circle cx="235.4" cy="1064.6"/><circle cx="235.4" cy="1053.0"/><circle cx="242.7" cy="1118.2"/><circle cx="242.7" cy="1118.2"/><circle cx="242.7" cy="1069.2"/><circle cx="242.7" cy="1054.8"/><circle cx="249.9" cy="1120.7"/><circle cx="249.9" cy="1117.5"/><circle cx="249.9" cy="1094.1"/><circle cx="249.9" cy="1072.0"/><circle cx="257.2" cy="1120.0"/><circle cx="257.2" cy="1121.6"/><circle cx="257.2" cy="1117.2"/><circle cx="257.2" cy="1073.4"/><circle cx="264.5" cy="1117.9"/><circle cx="264.5" cy="1121.1"/><circle cx="264.5" cy="1122.5"/><circle cx="264.5" cy="1099.5"/><circle cx="264.5" cy="1076.2"/><circle cx="264.5" cy="1040.4"/><circle cx="271.8" cy="1124.5"/><circle cx="271.8" cy="1122.9"/><circle cx="271.8" cy="1121.7"/><circle cx="279.1" cy="1125.4"/><circle cx="279.1" cy="1125.9"/><circle cx="279.1" cy="1124.2"/><circle cx="279.1" cy="1100.5"/><circle cx="279.1" cy="1078.0"/><circle cx="279.1" cy="1065.3"/><circle cx="286.4" cy="1129.4"/><circle cx="286.4" cy="1128.3"/><circle cx="286.4" cy="1124.9"/><circle cx="293.6" cy="1127.5"/><circle cx="293.6" cy="1127.2"/><circle cx="293.6" cy="1125.0"/><circle cx="293.6" cy="1128.4"/><circle cx="293.6" cy="1107.8"/><circle cx="293.6" cy="1081.0"/><circle cx="293.6" cy="1080.5"/><circle cx="293.6" cy="1065.0"/><circle cx="293.6" cy="1055.7"/><circle cx="300.9" cy="1127.7"/><circle cx="300.9" cy="1128.6"/><circle cx="300.9" cy="1131.9"/><circle cx="300.9" cy="1129.0"/><circle cx="300.9" cy="1102.6"/><circle cx="300.9" cy="1104.3"/><circle cx="300.9" cy="1104.8"/><circle cx="300.9" cy="1081.9"/><circle cx="300.9" cy="1079.8"/><circle cx="300.9" cy="1059.6"/><circle cx="300.9" cy="1057.4"/><circle cx="300.9" cy="1043.0"/><circle cx="308.2" cy="1129.3"/><circle cx="308.2" cy="1130.2"/><circle cx="308.2" cy="1129.9"/><circle cx="308.2" cy="1131.5"/><circle cx="308.2" cy="1132.6"/><circle cx="308.2" cy="1127.9"/><circle cx="308.2" cy="1105.4"/><circle cx="308.2" cy="1104.7"/><circle cx="308.2" cy="1105.0"/><circle cx="308.2" cy="1081.6"/><circle cx="308.2" cy="1082.9"/><circle cx="308.2" cy="1081.5"/><circle cx="308.2" cy="1059.1"/><circle cx="308.2" cy="1067.6"/><circle cx="308.2" cy="1056.0"/><circle cx="308.2" cy="1052.2"/><circle cx="315.5" cy="1133.3"/><circle cx="315.5" cy="1124.9"/><circle cx="315.5" cy="1133.8"/><circle cx="315.5" cy="1132.4"/><circle cx="315.5" cy="1130.5"/><circle cx="315.5" cy="1131.8"/><circle cx="315.5" cy="1131.1"/><circle cx="315.5" cy="1109.5"/><circle cx="315.5" cy="1106.6"/><circle cx="315.5" cy="1104.3"/><circle cx="315.5" cy="1082.9"/><circle cx="315.5" cy="1081.2"/><circle cx="315.5" cy="1085.4"/><circle cx="315.5" cy="1053.5"/><circle cx="315.5" cy="1057.8"/><circle cx="315.5" cy="1055.2"/><circle cx="315.5" cy="1057.9"/><circle cx="315.5" cy="1059.1"/><circle cx="322.8" cy="1132.3"/><circle cx="322.8" cy="1132.7"/><circle cx="322.8" cy="1129.7"/><circle cx="322.8" cy="1131.2"/><circle cx="322.8" cy="1128.6"/><circle cx="322.8" cy="1132.6"/><circle cx="322.8" cy="1110.6"/><circle cx="322.8" cy="1108.0"/><circle cx="322.8" cy="1107.7"/><circle cx="322.8" cy="1110.6"/><circle cx="322.8" cy="1083.7"/><circle cx="322.8" cy="1085.7"/><circle cx="322.8" cy="1084.9"/><circle cx="322.8" cy="1079.8"/><circle cx="322.8" cy="1051.6"/><circle cx="322.8" cy="1061.8"/><circle cx="322.8" cy="1072.5"/><circle cx="322.8" cy="1050.8"/><circle cx="322.8" cy="1051.1"/><circle cx="322.8" cy="1060.8"/><circle cx="330.1" cy="1133.9"/><circle cx="330.1" cy="1135.3"/><circle cx="330.1" cy="1135.4"/><circle cx="330.1" cy="1132.4"/><circle cx="330.1" cy="1133.3"/><circle cx="330.1" cy="1134.0"/><circle cx="330.1" cy="1136.1"/><circle cx="330.1" cy="1135.2"/><circle cx="330.1" cy="1109.3"/><circle cx="330.1" cy="1108.5"/><circle cx="330.1" cy="1109.3"/><circle cx="330.1" cy="1109.9"/><circle cx="330.1" cy="1108.0"/><circle cx="330.1" cy="1087.2"/><circle cx="330.1" cy="1087.3"/><circle cx="330.1" cy="1082.3"/><circle cx="330.1" cy="1084.1"/><circle cx="330.1" cy="1072.3"/><circle cx="330.1" cy="1058.5"/><circle cx="330.1" cy="1059.0"/><circle cx="330.1" cy="1049.8"/><circle cx="330.1" cy="1060.1"/><circle cx="330.1" cy="1062.8"/><circle cx="337.4" cy="1132.2"/><circle cx="337.4" cy="1135.6"/><circle cx="337.4" cy="1131.3"/><circle cx="337.4" cy="1134.4"/><circle cx="337.4" cy="1131.3"/><circle cx="337.4" cy="1129.6"/><circle cx="337.4" cy="1134.5"/><circle cx="337.4" cy="1136.9"/><circle cx="337.4" cy="1107.6"/><circle cx="337.4" cy="1111.3"/><circle cx="337.4" cy="1113.3"/><circle cx="337.4" cy="1114.1"/><circle cx="337.4" cy="1112.8"/><circle cx="337.4" cy="1108.2"/><circle cx="337.4" cy="1087.5"/><circle cx="337.4" cy="1088.3"/><circle cx="337.4" cy="1088.7"/><circle cx="337.4" cy="1086.8"/><circle cx="337.4" cy="1075.7"/><circle cx="337.4" cy="1064.6"/><circle cx="337.4" cy="1073.5"/><circle cx="337.4" cy="1058.0"/><circle cx="337.4" cy="1061.6"/><circle cx="337.4" cy="1056.5"/><circle cx="344.6" cy="1137.8"/><circle cx="344.6" cy="1138.2"/><circle cx="344.6" cy="1136.2"/><circle cx="344.6" cy="1135.0"/><circle cx="344.6" cy="1137.1"/><circle cx="344.6" cy="1130.5"/><circle cx="344.6" cy="1135.1"/><circle cx="344.6" cy="1137.1"/><circle cx="344.6" cy="1114.7"/><circle cx="344.6" cy="1114.7"/><circle cx="344.6" cy="1111.6"/><circle cx="344.6" cy="1115.3"/><circle cx="344.6" cy="1111.3"/><circle cx="344.6" cy="1115.2"/><circle cx="344.6" cy="1090.9"/><circle cx="344.6" cy="1090.6"/><circle cx="344.6" cy="1088.2"/><circle cx="344.6" cy="1086.0"/><circle cx="344.6" cy="1088.9"/><circle cx="344.6" cy="1076.5"/><circle cx="344.6" cy="1063.4"/><circle cx="344.6" cy="1039.0"/><circle cx="344.6" cy="1048.7"/><circle cx="344.6" cy="1062.4"/><circle cx="344.6" cy="1062.0"/><circle cx="351.9" cy="1139.6"/><circle cx="351.9" cy="1138.6"/><circle cx="351.9" cy="1136.2"/><circle cx="351.9" cy="1138.5"/><circle cx="351.9" cy="1139.3"/><circle cx="351.9" cy="1132.5"/><circle cx="351.9" cy="1137.3"/><circle cx="351.9" cy="1137.9"/><circle cx="351.9" cy="1115.7"/><circle cx="351.9" cy="1114.3"/><circle cx="351.9" cy="1113.2"/><circle cx="351.9" cy="1113.4"/><circle cx="351.9" cy="1117.3"/><circle cx="351.9" cy="1112.0"/><circle cx="351.9" cy="1093.7"/><circle cx="351.9" cy="1092.3"/><circle cx="351.9" cy="1090.6"/><circle cx="351.9" cy="1085.7"/><circle cx="351.9" cy="1067.0"/><circle cx="351.9" cy="1063.0"/><circle cx="351.9" cy="1065.2"/><circle cx="351.9" cy="1075.4"/><circle cx="351.9" cy="1077.2"/><circle cx="351.9" cy="1063.3"/><circle cx="359.2" cy="1138.6"/><circle cx="359.2" cy="1140.0"/><circle cx="359.2" cy="1141.0"/><circle cx="359.2" cy="1141.2"/><circle cx="359.2" cy="1140.2"/><circle cx="359.2" cy="1139.9"/><circle cx="359.2" cy="1141.2"/><circle cx="359.2" cy="1139.6"/><circle cx="359.2" cy="1114.6"/><circle cx="359.2" cy="1112.5"/><circle cx="359.2" cy="1117.1"/><circle cx="359.2" cy="1113.9"/><circle cx="359.2" cy="1118.6"/><circle cx="359.2" cy="1118.1"/><circle cx="359.2" cy="1092.6"/><circle cx="359.2" cy="1092.8"/><circle cx="359.2" cy="1091.4"/><circle cx="359.2" cy="1094.8"/><circle cx="359.2" cy="1094.1"/><circle cx="359.2" cy="1077.3"/><circle cx="359.2" cy="1065.2"/><circle cx="359.2" cy="1042.6"/><circle cx="359.2" cy="1056.6"/><circle cx="359.2" cy="1068.9"/><circle cx="359.2" cy="1031.4"/><circle cx="359.2" cy="1062.5"/><circle cx="366.5" cy="1142.6"/><circle cx="366.5" cy="1142.3"/><circle cx="366.5" cy="1139.6"/><circle cx="366.5" cy="1137.0"/><circle cx="366.5" cy="1144.3"/><circle cx="366.5" cy="1141.3"/><circle cx="366.5" cy="1143.4"/><circle cx="366.5" cy="1141.1"/><circle cx="366.5" cy="1141.2"/><circle cx="366.5" cy="1118.7"/><circle cx="366.5" cy="1117.5"/><circle cx="366.5" cy="1119.5"/><circle cx="366.5" cy="1117.1"/><circle cx="366.5" cy="1115.8"/><circle cx="366.5" cy="1119.3"/><circle cx="366.5" cy="1092.1"/><circle cx="366.5" cy="1095.4"/><circle cx="366.5" cy="1092.1"/><circle cx="366.5" cy="1089.1"/><circle cx="366.5" cy="1093.8"/><circle cx="366.5" cy="1022.4"/><circle cx="366.5" cy="1058.1"/><circle cx="366.5" cy="1079.8"/><circle cx="366.5" cy="1024.0"/><circle cx="366.5" cy="1078.9"/><circle cx="366.5" cy="1067.2"/><circle cx="366.5" cy="1028.3"/><circle cx="373.8" cy="1143.4"/><circle cx="373.8" cy="1146.1"/><circle cx="373.8" cy="1140.3"/><circle cx="373.8" cy="1142.4"/><circle cx="373.8" cy="1144.7"/><circle cx="373.8" cy="1145.0"/><circle cx="373.8" cy="1145.2"/><circle cx="373.8" cy="1142.7"/><circle cx="373.8" cy="1143.6"/><circle cx="373.8" cy="1118.6"/><circle cx="373.8" cy="1118.3"/><circle cx="373.8" cy="1120.8"/><circle cx="373.8" cy="1118.7"/><circle cx="373.8" cy="1113.3"/><circle cx="373.8" cy="1118.7"/><circle cx="373.8" cy="1118.2"/><circle cx="373.8" cy="1093.8"/><circle cx="373.8" cy="1094.8"/><circle cx="373.8" cy="1096.0"/><circle cx="373.8" cy="1093.1"/><circle cx="373.8" cy="1093.4"/><circle cx="373.8" cy="1070.6"/><circle cx="373.8" cy="1058.2"/><circle cx="373.8" cy="1081.2"/><circle cx="373.8" cy="1070.3"/><circle cx="373.8" cy="1063.4"/><circle cx="373.8" cy="1062.6"/><circle cx="373.8" cy="1055.3"/><circle cx="381.1" cy="1140.8"/><circle cx="381.1" cy="1142.7"/><circle cx="381.1" cy="1146.1"/><circle cx="381.1" cy="1143.1"/><circle cx="381.1" cy="1138.5"/><circle cx="381.1" cy="1145.1"/><circle cx="381.1" cy="1142.9"/><circle cx="381.1" cy="1144.9"/><circle cx="381.1" cy="1145.5"/><circle cx="381.1" cy="1119.1"/><circle cx="381.1" cy="1119.6"/><circle cx="381.1" cy="1118.0"/><circle cx="381.1" cy="1116.8"/><circle cx="381.1" cy="1119.9"/><circle cx="381.1" cy="1117.6"/><circle cx="381.1" cy="1095.0"/><circle cx="381.1" cy="1099.1"/><circle cx="381.1" cy="1097.6"/><circle cx="381.1" cy="1096.9"/><circle cx="381.1" cy="1095.1"/><circle cx="381.1" cy="1081.9"/><circle cx="381.1" cy="1074.3"/><circle cx="381.1" cy="1039.3"/><circle cx="381.1" cy="1068.3"/><circle cx="381.1" cy="1064.3"/><circle cx="381.1" cy="1082.6"/><circle cx="381.1" cy="1064.2"/><circle cx="388.4" cy="1145.7"/><circle cx="388.4" cy="1143.0"/><circle cx="388.4" cy="1147.8"/><circle cx="388.4" cy="1143.3"/><circle cx="388.4" cy="1146.5"/><circle cx="388.4" cy="1146.3"/><circle cx="388.4" cy="1145.5"/><circle cx="388.4" cy="1147.7"/><circle cx="388.4" cy="1145.6"/><circle cx="388.4" cy="1123.3"/><circle cx="388.4" cy="1118.0"/><circle cx="388.4" cy="1120.1"/><circle cx="388.4" cy="1123.8"/><circle cx="388.4" cy="1120.8"/><circle cx="388.4" cy="1123.3"/><circle cx="388.4" cy="1123.8"/><circle cx="388.4" cy="1095.6"/><circle cx="388.4" cy="1094.3"/><circle cx="388.4" cy="1097.3"/><circle cx="388.4" cy="1099.0"/><circle cx="388.4" cy="1099.1"/><circle cx="388.4" cy="1061.5"/><circle cx="388.4" cy="1081.1"/><circle cx="388.4" cy="1076.0"/><circle cx="388.4" cy="1075.2"/><circle cx="388.4" cy="1086.5"/><circle cx="388.4" cy="1084.2"/><circle cx="388.4" cy="1057.8"/><circle cx="395.6" cy="1144.2"/><circle cx="395.6" cy="1149.4"/><circle cx="395.6" cy="1144.8"/><circle cx="395.6" cy="1143.4"/><circle cx="395.6" cy="1142.7"/><circle cx="395.6" cy="1147.6"/><circle cx="395.6" cy="1146.1"/><circle cx="395.6" cy="1147.3"/><circle cx="395.6" cy="1149.9"/><circle cx="395.6" cy="1120.5"/><circle cx="395.6" cy="1124.7"/><circle cx="395.6" cy="1116.4"/><circle cx="395.6" cy="1123.0"/><circle cx="395.6" cy="1124.8"/><circle cx="395.6" cy="1119.0"/><circle cx="395.6" cy="1095.7"/><circle cx="395.6" cy="1096.9"/><circle cx="395.6" cy="1099.7"/><circle cx="395.6" cy="1095.6"/><circle cx="395.6" cy="1100.4"/><circle cx="395.6" cy="1076.0"/><circle cx="395.6" cy="1074.5"/><circle cx="395.6" cy="1071.4"/><circle cx="395.6" cy="1080.3"/><circle cx="395.6" cy="1033.7"/><circle cx="395.6" cy="1075.6"/><circle cx="395.6" cy="1082.3"/><circle cx="395.6" cy="1065.6"/><circle cx="402.9" cy="1149.4"/><circle cx="402.9" cy="1149.4"/><circle cx="402.9" cy="1148.7"/><circle cx="402.9" cy="1149.5"/><circle cx="402.9" cy="1149.3"/><circle cx="402.9" cy="1147.5"/><circle cx="402.9" cy="1148.5"/><circle cx="402.9" cy="1149.7"/><circle cx="402.9" cy="1143.8"/><circle cx="402.9" cy="1126.6"/><circle cx="402.9" cy="1126.5"/><circle cx="402.9" cy="1124.6"/><circle cx="402.9" cy="1124.1"/><circle cx="402.9" cy="1122.4"/><circle cx="402.9" cy="1128.2"/><circle cx="402.9" cy="1101.5"/><circle cx="402.9" cy="1101.4"/><circle cx="402.9" cy="1101.4"/><circle cx="402.9" cy="1099.9"/><circle cx="402.9" cy="1101.2"/><circle cx="402.9" cy="1055.9"/><circle cx="402.9" cy="1076.0"/><circle cx="402.9" cy="1078.5"/><circle cx="402.9" cy="1062.3"/><circle cx="402.9" cy="1075.9"/><circle cx="402.9" cy="1049.6"/><circle cx="402.9" cy="1070.5"/><circle cx="402.9" cy="1064.4"/><circle cx="410.2" cy="1151.8"/><circle cx="410.2" cy="1148.5"/><circle cx="410.2" cy="1150.5"/><circle cx="410.2" cy="1152.8"/><circle cx="410.2" cy="1146.6"/><circle cx="410.2" cy="1150.4"/><circle cx="410.2" cy="1148.5"/><circle cx="410.2" cy="1146.2"/><circle cx="410.2" cy="1149.5"/><circle cx="410.2" cy="1126.9"/><circle cx="410.2" cy="1127.1"/><circle cx="410.2" cy="1124.7"/><circle cx="410.2" cy="1122.9"/><circle cx="410.2" cy="1123.8"/><circle cx="410.2" cy="1126.8"/><circle cx="410.2" cy="1100.5"/><circle cx="410.2" cy="1104.0"/><circle cx="410.2" cy="1102.2"/><circle cx="410.2" cy="1101.4"/><circle cx="410.2" cy="1098.8"/><circle cx="410.2" cy="1078.3"/><circle cx="410.2" cy="1033.8"/><circle cx="410.2" cy="1063.0"/><circle cx="410.2" cy="1072.9"/><circle cx="410.2" cy="1068.6"/><circle cx="410.2" cy="1062.2"/><circle cx="410.2" cy="1058.8"/><circle cx="410.2" cy="1060.6"/><circle cx="410.2" cy="1056.4"/><circle cx="417.5" cy="1148.3"/><circle cx="417.5" cy="1150.0"/><circle cx="417.5" cy="1150.2"/><circle cx="417.5" cy="1151.9"/><circle cx="417.5" cy="1147.8"/><circle cx="417.5" cy="1151.5"/><circle cx="417.5" cy="1152.4"/><circle cx="417.5" cy="1152.4"/><circle cx="417.5" cy="1149.9"/><circle cx="417.5" cy="1124.3"/><circle cx="417.5" cy="1122.8"/><circle cx="417.5" cy="1126.2"/><circle cx="417.5" cy="1125.7"/><circle cx="417.5" cy="1128.4"/><circle cx="417.5" cy="1125.2"/><circle cx="417.5" cy="1129.1"/><circle cx="417.5" cy="1104.1"/><circle cx="417.5" cy="1104.7"/><circle cx="417.5" cy="1102.8"/><circle cx="417.5" cy="1103.7"/><circle cx="417.5" cy="1098.3"/><circle cx="417.5" cy="1088.7"/><circle cx="417.5" cy="1073.5"/><circle cx="417.5" cy="1078.1"/><circle cx="417.5" cy="1072.0"/><circle cx="417.5" cy="1047.0"/><circle cx="417.5" cy="1055.6"/><circle cx="417.5" cy="1080.0"/><circle cx="417.5" cy="1039.8"/><circle cx="424.8" cy="1150.1"/><circle cx="424.8" cy="1151.7"/><circle cx="424.8" cy="1150.8"/><circle cx="424.8" cy="1155.0"/><circle cx="424.8" cy="1152.5"/><circle cx="424.8" cy="1151.1"/><circle cx="424.8" cy="1151.3"/><circle cx="424.8" cy="1154.3"/><circle cx="424.8" cy="1149.1"/><circle cx="424.8" cy="1127.4"/><circle cx="424.8" cy="1128.6"/><circle cx="424.8" cy="1126.1"/><circle cx="424.8" cy="1127.6"/><circle cx="424.8" cy="1127.7"/><circle cx="424.8" cy="1127.8"/><circle cx="424.8" cy="1132.9"/><circle cx="424.8" cy="1098.1"/><circle cx="424.8" cy="1103.2"/><circle cx="424.8" cy="1101.8"/><circle cx="424.8" cy="1102.4"/><circle cx="424.8" cy="1106.1"/><circle cx="424.8" cy="1068.5"/><circle cx="424.8" cy="1063.6"/><circle cx="424.8" cy="1069.4"/><circle cx="424.8" cy="1078.2"/><circle cx="424.8" cy="1073.2"/><circle cx="424.8" cy="1079.0"/><circle cx="424.8" cy="1058.7"/><circle cx="424.8" cy="1069.1"/><circle cx="424.8" cy="1082.5"/><circle cx="432.1" cy="1150.4"/><circle cx="432.1" cy="1152.6"/><circle cx="432.1" cy="1152.1"/><circle cx="432.1" cy="1152.6"/><circle cx="432.1" cy="1153.1"/><circle cx="432.1" cy="1153.0"/><circle cx="432.1" cy="1153.7"/><circle cx="432.1" cy="1153.2"/><circle cx="432.1" cy="1153.3"/><circle cx="432.1" cy="1127.4"/><circle cx="432.1" cy="1130.7"/><circle cx="432.1" cy="1131.9"/><circle cx="432.1" cy="1131.2"/><circle cx="432.1" cy="1129.8"/><circle cx="432.1" cy="1128.1"/><circle cx="432.1" cy="1131.3"/><circle cx="432.1" cy="1106.5"/><circle cx="432.1" cy="1101.8"/><circle cx="432.1" cy="1105.7"/><circle cx="432.1" cy="1105.3"/><circle cx="432.1" cy="1101.9"/><circle cx="432.1" cy="1073.6"/><circle cx="432.1" cy="1044.6"/><circle cx="432.1" cy="1075.9"/><circle cx="432.1" cy="1054.2"/><circle cx="432.1" cy="1072.9"/><circle cx="432.1" cy="1073.2"/><circle cx="432.1" cy="1069.5"/><circle cx="432.1" cy="1024.7"/><circle cx="432.1" cy="1089.6"/><circle cx="432.1" cy="1067.6"/><circle cx="439.4" cy="1155.6"/><circle cx="439.4" cy="1156.1"/><circle cx="439.4" cy="1156.2"/><circle cx="439.4" cy="1154.3"/><circle cx="439.4" cy="1153.4"/><circle cx="439.4" cy="1159.2"/><circle cx="439.4" cy="1154.1"/><circle cx="439.4" cy="1152.3"/><circle cx="439.4" cy="1155.3"/><circle cx="439.4" cy="1132.1"/><circle cx="439.4" cy="1127.3"/><circle cx="439.4" cy="1134.6"/><circle cx="439.4" cy="1130.4"/><circle cx="439.4" cy="1127.4"/><circle cx="439.4" cy="1128.2"/><circle cx="439.4" cy="1108.5"/><circle cx="439.4" cy="1106.3"/><circle cx="439.4" cy="1102.7"/><circle cx="439.4" cy="1108.2"/><circle cx="439.4" cy="1106.9"/><circle cx="439.4" cy="1075.2"/><circle cx="439.4" cy="1083.7"/><circle cx="439.4" cy="1093.8"/><circle cx="439.4" cy="1093.1"/><circle cx="439.4" cy="1079.6"/><circle cx="439.4" cy="1044.7"/><circle cx="439.4" cy="1081.3"/><circle cx="439.4" cy="1085.9"/><circle cx="439.4" cy="1066.9"/><circle cx="439.4" cy="1067.0"/><circle cx="446.6" cy="1158.0"/><circle cx="446.6" cy="1155.1"/><circle cx="446.6" cy="1160.1"/><circle cx="446.6" cy="1154.6"/><circle cx="446.6" cy="1155.5"/><circle cx="446.6" cy="1153.5"/><circle cx="446.6" cy="1160.2"/><circle cx="446.6" cy="1157.1"/><circle cx="446.6" cy="1158.0"/><circle cx="446.6" cy="1127.3"/><circle cx="446.6" cy="1132.7"/><circle cx="446.6" cy="1134.8"/><circle cx="446.6" cy="1134.7"/><circle cx="446.6" cy="1130.6"/><circle cx="446.6" cy="1131.3"/><circle cx="446.6" cy="1108.7"/><circle cx="446.6" cy="1105.4"/><circle cx="446.6" cy="1109.4"/><circle cx="446.6" cy="1106.0"/><circle cx="446.6" cy="1109.8"/><circle cx="446.6" cy="1081.2"/><circle cx="446.6" cy="1057.9"/><circle cx="446.6" cy="1066.3"/><circle cx="446.6" cy="1094.4"/><circle cx="446.6" cy="1068.5"/><circle cx="446.6" cy="1076.6"/><circle cx="446.6" cy="1080.3"/><circle cx="446.6" cy="1049.5"/><circle cx="446.6" cy="1076.8"/><circle cx="446.6" cy="1051.4"/><circle cx="446.6" cy="1092.2"/><circle cx="453.9" cy="1157.9"/><circle cx="453.9" cy="1153.9"/><circle cx="453.9" cy="1158.1"/><circle cx="453.9" cy="1155.9"/><circle cx="453.9" cy="1156.2"/><circle cx="453.9" cy="1158.4"/><circle cx="453.9" cy="1158.6"/><circle cx="453.9" cy="1158.0"/><circle cx="453.9" cy="1155.0"/><circle cx="453.9" cy="1136.5"/><circle cx="453.9" cy="1134.2"/><circle cx="453.9" cy="1135.0"/><circle cx="453.9" cy="1132.7"/><circle cx="453.9" cy="1135.0"/><circle cx="453.9" cy="1132.8"/><circle cx="453.9" cy="1109.7"/><circle cx="453.9" cy="1112.8"/><circle cx="453.9" cy="1112.3"/><circle cx="453.9" cy="1108.9"/><circle cx="453.9" cy="1111.3"/><circle cx="453.9" cy="1095.0"/><circle cx="453.9" cy="1076.8"/><circle cx="453.9" cy="1087.9"/><circle cx="453.9" cy="1072.6"/><circle cx="453.9" cy="1087.7"/><circle cx="453.9" cy="1076.4"/><circle cx="453.9" cy="1086.6"/><circle cx="453.9" cy="1078.4"/><circle cx="453.9" cy="1095.7"/><circle cx="453.9" cy="1062.4"/><circle cx="453.9" cy="1057.5"/><circle cx="453.9" cy="1095.8"/><circle cx="461.2" cy="1158.3"/><circle cx="461.2" cy="1161.7"/><circle cx="461.2" cy="1158.3"/><circle cx="461.2" cy="1158.1"/><circle cx="461.2" cy="1158.6"/><circle cx="461.2" cy="1157.4"/><circle cx="461.2" cy="1159.5"/><circle cx="461.2" cy="1158.3"/><circle cx="461.2" cy="1159.3"/><circle cx="461.2" cy="1134.1"/><circle cx="461.2" cy="1135.7"/><circle cx="461.2" cy="1132.6"/><circle cx="461.2" cy="1136.9"/><circle cx="461.2" cy="1135.5"/><circle cx="461.2" cy="1133.6"/><circle cx="461.2" cy="1136.3"/><circle cx="461.2" cy="1111.6"/><circle cx="461.2" cy="1110.5"/><circle cx="461.2" cy="1113.7"/><circle cx="461.2" cy="1112.2"/><circle cx="461.2" cy="1113.8"/><circle cx="461.2" cy="1031.3"/><circle cx="461.2" cy="1096.4"/><circle cx="461.2" cy="1064.0"/><circle cx="461.2" cy="1079.3"/><circle cx="461.2" cy="1095.4"/><circle cx="461.2" cy="1079.3"/><circle cx="461.2" cy="1051.0"/><circle cx="461.2" cy="1062.4"/><circle cx="461.2" cy="1087.0"/><circle cx="461.2" cy="1079.6"/><circle cx="461.2" cy="1083.8"/><circle cx="461.2" cy="1100.1"/><circle cx="461.2" cy="1100.1"/><circle cx="468.5" cy="1157.9"/><circle cx="468.5" cy="1160.0"/><circle cx="468.5" cy="1160.2"/><circle cx="468.5" cy="1162.3"/><circle cx="468.5" cy="1163.0"/><circle cx="468.5" cy="1154.9"/><circle cx="468.5" cy="1158.0"/><circle cx="468.5" cy="1163.4"/><circle cx="468.5" cy="1162.3"/><circle cx="468.5" cy="1137.1"/><circle cx="468.5" cy="1133.6"/><circle cx="468.5" cy="1136.0"/><circle cx="468.5" cy="1135.6"/><circle cx="468.5" cy="1135.0"/><circle cx="468.5" cy="1132.7"/><circle cx="468.5" cy="1138.6"/><circle cx="468.5" cy="1109.8"/><circle cx="468.5" cy="1114.8"/><circle cx="468.5" cy="1112.6"/><circle cx="468.5" cy="1111.8"/><circle cx="468.5" cy="1111.7"/><circle cx="468.5" cy="1088.9"/><circle cx="468.5" cy="1088.0"/><circle cx="468.5" cy="1078.1"/><circle cx="468.5" cy="1068.8"/><circle cx="468.5" cy="1082.1"/><circle cx="468.5" cy="1027.3"/><circle cx="468.5" cy="1087.2"/><circle cx="468.5" cy="1088.3"/><circle cx="468.5" cy="1073.9"/><circle cx="468.5" cy="1060.4"/><circle cx="468.5" cy="1023.7"/><circle cx="468.5" cy="1068.0"/><circle cx="468.5" cy="1067.2"/><circle cx="468.5" cy="1088.3"/><circle cx="475.8" cy="1159.2"/><circle cx="475.8" cy="1161.6"/><circle cx="475.8" cy="1165.7"/><circle cx="475.8" cy="1162.0"/><circle cx="475.8" cy="1162.3"/><circle cx="475.8" cy="1163.4"/><circle cx="475.8" cy="1161.0"/><circle cx="475.8" cy="1163.3"/><circle cx="475.8" cy="1163.6"/><circle cx="475.8" cy="1138.2"/><circle cx="475.8" cy="1138.3"/><circle cx="475.8" cy="1137.2"/><circle cx="475.8" cy="1137.2"/><circle cx="475.8" cy="1134.2"/><circle cx="475.8" cy="1138.0"/><circle cx="475.8" cy="1139.0"/><circle cx="475.8" cy="1116.2"/><circle cx="475.8" cy="1114.3"/><circle cx="475.8" cy="1114.8"/><circle cx="475.8" cy="1114.0"/><circle cx="475.8" cy="1114.1"/><circle cx="475.8" cy="1069.7"/><circle cx="475.8" cy="1077.9"/><circle cx="475.8" cy="1076.2"/><circle cx="475.8" cy="1074.6"/><circle cx="475.8" cy="1094.8"/><circle cx="475.8" cy="1072.7"/><circle cx="475.8" cy="1071.5"/><circle cx="475.8" cy="1083.6"/><circle cx="475.8" cy="1074.9"/><circle cx="475.8" cy="1086.4"/><circle cx="475.8" cy="1089.2"/><circle cx="475.8" cy="1078.0"/><circle cx="475.8" cy="1086.5"/><circle cx="475.8" cy="1044.6"/><circle cx="483.1" cy="1160.4"/><circle cx="483.1" cy="1164.7"/><circle cx="483.1" cy="1167.2"/><circle cx="483.1" cy="1163.6"/><circle cx="483.1" cy="1165.2"/><circle cx="483.1" cy="1167.0"/><circle cx="483.1" cy="1164.5"/><circle cx="483.1" cy="1162.4"/><circle cx="483.1" cy="1162.5"/><circle cx="483.1" cy="1140.5"/><circle cx="483.1" cy="1139.5"/><circle cx="483.1" cy="1139.7"/><circle cx="483.1" cy="1137.3"/><circle cx="483.1" cy="1141.4"/><circle cx="483.1" cy="1140.0"/><circle cx="483.1" cy="1112.5"/><circle cx="483.1" cy="1115.7"/><circle cx="483.1" cy="1117.6"/><circle cx="483.1" cy="1115.4"/><circle cx="483.1" cy="1114.8"/><circle cx="483.1" cy="1085.7"/><circle cx="483.1" cy="1070.0"/><circle cx="483.1" cy="1078.8"/><circle cx="483.1" cy="1067.0"/><circle cx="483.1" cy="1044.0"/><circle cx="483.1" cy="1073.2"/><circle cx="483.1" cy="1083.3"/><circle cx="483.1" cy="1079.4"/><circle cx="483.1" cy="1067.7"/><circle cx="483.1" cy="1060.7"/><circle cx="483.1" cy="1039.9"/><circle cx="483.1" cy="1067.5"/><circle cx="483.1" cy="1092.7"/><circle cx="483.1" cy="1065.0"/><circle cx="483.1" cy="1073.0"/><circle cx="490.3" cy="1163.8"/><circle cx="490.3" cy="1168.4"/><circle cx="490.3" cy="1166.3"/><circle cx="490.3" cy="1158.5"/><circle cx="490.3" cy="1162.9"/><circle cx="490.3" cy="1162.8"/><circle cx="490.3" cy="1166.1"/><circle cx="490.3" cy="1159.2"/><circle cx="490.3" cy="1165.3"/><circle cx="490.3" cy="1141.3"/><circle cx="490.3" cy="1142.0"/><circle cx="490.3" cy="1141.4"/><circle cx="490.3" cy="1139.1"/><circle cx="490.3" cy="1144.1"/><circle cx="490.3" cy="1139.9"/><circle cx="490.3" cy="1119.9"/><circle cx="490.3" cy="1117.3"/><circle cx="490.3" cy="1117.3"/><circle cx="490.3" cy="1116.8"/><circle cx="490.3" cy="1118.1"/><circle cx="490.3" cy="1081.7"/><circle cx="490.3" cy="1078.3"/><circle cx="490.3" cy="1069.8"/><circle cx="490.3" cy="1086.7"/><circle cx="490.3" cy="1070.9"/><circle cx="490.3" cy="1054.7"/><circle cx="490.3" cy="1094.2"/><circle cx="490.3" cy="1098.3"/><circle cx="490.3" cy="1095.3"/><circle cx="490.3" cy="1082.0"/><circle cx="490.3" cy="1087.5"/><circle cx="490.3" cy="1070.4"/><circle cx="490.3" cy="1064.8"/><circle cx="490.3" cy="1092.6"/><circle cx="490.3" cy="1075.2"/><circle cx="490.3" cy="1053.6"/><circle cx="497.6" cy="1167.4"/><circle cx="497.6" cy="1167.7"/><circle cx="497.6" cy="1168.2"/><circle cx="497.6" cy="1164.6"/><circle cx="497.6" cy="1159.7"/><circle cx="497.6" cy="1168.0"/><circle cx="497.6" cy="1165.4"/><circle cx="497.6" cy="1168.0"/><circle cx="497.6" cy="1167.2"/><circle cx="497.6" cy="1141.2"/><circle cx="497.6" cy="1143.2"/><circle cx="497.6" cy="1142.1"/><circle cx="497.6" cy="1142.3"/><circle cx="497.6" cy="1140.0"/><circle cx="497.6" cy="1141.0"/><circle cx="497.6" cy="1119.6"/><circle cx="497.6" cy="1119.1"/><circle cx="497.6" cy="1119.6"/><circle cx="497.6" cy="1120.2"/><circle cx="497.6" cy="1115.3"/><circle cx="497.6" cy="1070.1"/><circle cx="497.6" cy="1078.7"/><circle cx="497.6" cy="1065.0"/><circle cx="497.6" cy="1093.9"/><circle cx="497.6" cy="1070.0"/><circle cx="497.6" cy="1088.8"/><circle cx="497.6" cy="1076.4"/><circle cx="497.6" cy="1073.1"/><circle cx="497.6" cy="1097.5"/><circle cx="497.6" cy="1078.0"/><circle cx="497.6" cy="1044.1"/><circle cx="497.6" cy="1095.2"/><circle cx="497.6" cy="1082.2"/><circle cx="497.6" cy="1034.5"/><circle cx="497.6" cy="1086.4"/><circle cx="497.6" cy="1088.7"/><circle cx="497.6" cy="1066.8"/><circle cx="504.9" cy="1165.6"/><circle cx="504.9" cy="1167.8"/><circle cx="504.9" cy="1166.8"/><circle cx="504.9" cy="1168.8"/><circle cx="504.9" cy="1164.8"/><circle cx="504.9" cy="1166.0"/><circle cx="504.9" cy="1167.8"/><circle cx="504.9" cy="1168.8"/><circle cx="504.9" cy="1166.1"/><circle cx="504.9" cy="1140.7"/><circle cx="504.9" cy="1146.7"/><circle cx="504.9" cy="1146.0"/><circle cx="504.9" cy="1140.5"/><circle cx="504.9" cy="1143.2"/><circle cx="504.9" cy="1145.2"/><circle cx="504.9" cy="1137.8"/><circle cx="504.9" cy="1118.5"/><circle cx="504.9" cy="1118.7"/><circle cx="504.9" cy="1116.5"/><circle cx="504.9" cy="1122.6"/><circle cx="504.9" cy="1123.5"/><circle cx="504.9" cy="1093.7"/><circle cx="504.9" cy="1104.3"/><circle cx="504.9" cy="1071.5"/><circle cx="504.9" cy="1096.4"/><circle cx="504.9" cy="1066.2"/><circle cx="504.9" cy="1093.3"/><circle cx="504.9" cy="1087.7"/><circle cx="504.9" cy="1057.1"/><circle cx="504.9" cy="1100.1"/><circle cx="504.9" cy="1103.8"/><circle cx="504.9" cy="1094.4"/><circle cx="504.9" cy="1095.8"/><circle cx="504.9" cy="1088.0"/><circle cx="504.9" cy="1064.0"/><circle cx="504.9" cy="1067.1"/><circle cx="504.9" cy="1025.8"/><circle cx="504.9" cy="1096.4"/><circle cx="504.9" cy="1093.8"/><circle cx="512.2" cy="1169.2"/><circle cx="512.2" cy="1169.6"/><circle cx="512.2" cy="1171.2"/><circle cx="512.2" cy="1170.6"/><circle cx="512.2" cy="1169.0"/><circle cx="512.2" cy="1170.6"/><circle cx="512.2" cy="1170.4"/><circle cx="512.2" cy="1166.2"/><circle cx="512.2" cy="1169.5"/><circle cx="512.2" cy="1145.0"/><circle cx="512.2" cy="1141.9"/><circle cx="512.2" cy="1145.9"/><circle cx="512.2" cy="1146.4"/><circle cx="512.2" cy="1145.6"/><circle cx="512.2" cy="1144.9"/><circle cx="512.2" cy="1146.9"/><circle cx="512.2" cy="1122.2"/><circle cx="512.2" cy="1123.4"/><circle cx="512.2" cy="1120.3"/><circle cx="512.2" cy="1120.3"/><circle cx="512.2" cy="1119.9"/><circle cx="512.2" cy="1099.1"/><circle cx="512.2" cy="1075.4"/><circle cx="512.2" cy="1081.8"/><circle cx="512.2" cy="1106.3"/><circle cx="512.2" cy="1079.9"/><circle cx="512.2" cy="1079.4"/><circle cx="512.2" cy="1079.8"/><circle cx="512.2" cy="1056.4"/><circle cx="512.2" cy="1083.0"/><circle cx="512.2" cy="1039.7"/><circle cx="512.2" cy="1103.9"/><circle cx="512.2" cy="1085.0"/><circle cx="512.2" cy="1087.0"/><circle cx="512.2" cy="1083.8"/><circle cx="512.2" cy="1062.1"/><circle cx="512.2" cy="1093.8"/><circle cx="512.2" cy="1042.7"/><circle cx="512.2" cy="1050.9"/><circle cx="512.2" cy="1080.0"/><circle cx="519.5" cy="1171.8"/><circle cx="519.5" cy="1171.1"/><circle cx="519.5" cy="1171.5"/><circle cx="519.5" cy="1169.6"/><circle cx="519.5" cy="1173.8"/><circle cx="519.5" cy="1173.1"/><circle cx="519.5" cy="1171.4"/><circle cx="519.5" cy="1172.0"/><circle cx="519.5" cy="1172.9"/><circle cx="519.5" cy="1147.8"/><circle cx="519.5" cy="1149.0"/><circle cx="519.5" cy="1148.5"/><circle cx="519.5" cy="1144.6"/><circle cx="519.5" cy="1146.7"/><circle cx="519.5" cy="1145.8"/><circle cx="519.5" cy="1121.6"/><circle cx="519.5" cy="1116.1"/><circle cx="519.5" cy="1126.7"/><circle cx="519.5" cy="1120.7"/><circle cx="519.5" cy="1122.5"/><circle cx="519.5" cy="1038.9"/><circle cx="519.5" cy="1082.3"/><circle cx="519.5" cy="1070.4"/><circle cx="519.5" cy="1068.0"/><circle cx="519.5" cy="1072.7"/><circle cx="519.5" cy="1076.6"/><circle cx="519.5" cy="1055.8"/><circle cx="519.5" cy="1073.6"/><circle cx="519.5" cy="1060.0"/><circle cx="519.5" cy="1084.0"/><circle cx="519.5" cy="1093.0"/><circle cx="519.5" cy="1060.2"/><circle cx="519.5" cy="1081.0"/><circle cx="519.5" cy="1066.8"/><circle cx="519.5" cy="1077.1"/><circle cx="519.5" cy="1068.0"/><circle cx="519.5" cy="1092.0"/><circle cx="519.5" cy="1092.9"/><circle cx="526.8" cy="1172.5"/><circle cx="526.8" cy="1172.1"/><circle cx="526.8" cy="1168.8"/><circle cx="526.8" cy="1170.9"/><circle cx="526.8" cy="1172.9"/><circle cx="526.8" cy="1170.8"/><circle cx="526.8" cy="1168.9"/><circle cx="526.8" cy="1169.4"/><circle cx="526.8" cy="1168.0"/><circle cx="526.8" cy="1149.3"/><circle cx="526.8" cy="1148.2"/><circle cx="526.8" cy="1152.4"/><circle cx="526.8" cy="1149.7"/><circle cx="526.8" cy="1150.0"/><circle cx="526.8" cy="1146.6"/><circle cx="526.8" cy="1122.8"/><circle cx="526.8" cy="1120.5"/><circle cx="526.8" cy="1123.6"/><circle cx="526.8" cy="1124.0"/><circle cx="526.8" cy="1124.9"/><circle cx="526.8" cy="1091.8"/><circle cx="526.8" cy="1064.6"/><circle cx="526.8" cy="1054.8"/><circle cx="526.8" cy="1110.9"/><circle cx="526.8" cy="1075.7"/><circle cx="526.8" cy="1083.7"/><circle cx="526.8" cy="1087.1"/><circle cx="526.8" cy="1109.9"/><circle cx="526.8" cy="1055.8"/><circle cx="526.8" cy="1102.3"/><circle cx="526.8" cy="1056.2"/><circle cx="526.8" cy="1098.8"/><circle cx="526.8" cy="1095.3"/><circle cx="526.8" cy="1061.7"/><circle cx="526.8" cy="1100.5"/><circle cx="526.8" cy="1103.0"/><circle cx="526.8" cy="1093.4"/><circle cx="526.8" cy="1110.9"/><circle cx="526.8" cy="1091.0"/><circle cx="526.8" cy="1062.8"/><circle cx="534.1" cy="1172.1"/><circle cx="534.1" cy="1173.4"/><circle cx="534.1" cy="1172.3"/><circle cx="534.1" cy="1173.8"/><circle cx="534.1" cy="1173.5"/><circle cx="534.1" cy="1175.6"/><circle cx="534.1" cy="1173.7"/><circle cx="534.1" cy="1173.7"/><circle cx="534.1" cy="1174.2"/><circle cx="534.1" cy="1149.9"/><circle cx="534.1" cy="1150.2"/><circle cx="534.1" cy="1149.3"/><circle cx="534.1" cy="1146.2"/><circle cx="534.1" cy="1145.0"/><circle cx="534.1" cy="1150.4"/><circle cx="534.1" cy="1124.0"/><circle cx="534.1" cy="1124.0"/><circle cx="534.1" cy="1125.1"/><circle cx="534.1" cy="1126.6"/><circle cx="534.1" cy="1127.7"/><circle cx="534.1" cy="1034.0"/><circle cx="534.1" cy="1111.1"/><circle cx="534.1" cy="1111.1"/><circle cx="534.1" cy="1101.6"/><circle cx="534.1" cy="1093.6"/><circle cx="534.1" cy="1071.7"/><circle cx="534.1" cy="1091.1"/><circle cx="534.1" cy="1082.6"/><circle cx="534.1" cy="1082.5"/><circle cx="534.1" cy="1031.0"/><circle cx="534.1" cy="1111.9"/><circle cx="534.1" cy="1063.8"/><circle cx="534.1" cy="1069.4"/><circle cx="534.1" cy="1076.7"/><circle cx="534.1" cy="1070.1"/><circle cx="534.1" cy="1094.8"/><circle cx="534.1" cy="1075.0"/><circle cx="534.1" cy="1045.4"/><circle cx="534.1" cy="1111.5"/><circle cx="534.1" cy="1074.9"/><circle cx="534.1" cy="1093.2"/><circle cx="541.3" cy="1170.4"/><circle cx="541.3" cy="1174.6"/><circle cx="541.3" cy="1172.7"/><circle cx="541.3" cy="1174.8"/><circle cx="541.3" cy="1174.7"/><circle cx="541.3" cy="1176.1"/><circle cx="541.3" cy="1176.4"/><circle cx="541.3" cy="1173.8"/><circle cx="541.3" cy="1175.7"/><circle cx="541.3" cy="1149.7"/><circle cx="541.3" cy="1151.8"/><circle cx="541.3" cy="1151.9"/><circle cx="541.3" cy="1148.8"/><circle cx="541.3" cy="1148.5"/><circle cx="541.3" cy="1150.9"/><circle cx="541.3" cy="1127.1"/><circle cx="541.3" cy="1124.9"/><circle cx="541.3" cy="1129.1"/><circle cx="541.3" cy="1127.9"/><circle cx="541.3" cy="1125.8"/><circle cx="541.3" cy="1088.6"/><circle cx="541.3" cy="1068.3"/><circle cx="541.3" cy="1079.3"/><circle cx="541.3" cy="1077.9"/><circle cx="541.3" cy="1080.4"/><circle cx="541.3" cy="1071.0"/><circle cx="541.3" cy="1112.2"/><circle cx="541.3" cy="1090.4"/><circle cx="541.3" cy="1100.4"/><circle cx="541.3" cy="1080.4"/><circle cx="541.3" cy="1084.3"/><circle cx="541.3" cy="1053.0"/><circle cx="541.3" cy="1082.8"/><circle cx="541.3" cy="1042.2"/><circle cx="541.3" cy="1101.5"/><circle cx="541.3" cy="1074.6"/><circle cx="541.3" cy="1101.2"/><circle cx="541.3" cy="1090.3"/><circle cx="541.3" cy="1073.7"/><circle cx="541.3" cy="1088.8"/><circle cx="541.3" cy="1087.2"/><circle cx="541.3" cy="1103.0"/><circle cx="548.6" cy="1179.3"/><circle cx="548.6" cy="1174.4"/><circle cx="548.6" cy="1176.3"/><circle cx="548.6" cy="1177.5"/><circle cx="548.6" cy="1177.6"/><circle cx="548.6" cy="1175.3"/><circle cx="548.6" cy="1178.8"/><circle cx="548.6" cy="1175.3"/><circle cx="548.6" cy="1174.1"/><circle cx="548.6" cy="1153.2"/><circle cx="548.6" cy="1152.1"/><circle cx="548.6" cy="1152.9"/><circle cx="548.6" cy="1147.7"/><circle cx="548.6" cy="1153.6"/><circle cx="548.6" cy="1152.0"/><circle cx="548.6" cy="1131.5"/><circle cx="548.6" cy="1124.0"/><circle cx="548.6" cy="1130.2"/><circle cx="548.6" cy="1125.7"/><circle cx="548.6" cy="1130.1"/><circle cx="548.6" cy="1093.3"/><circle cx="548.6" cy="1073.9"/><circle cx="548.6" cy="1079.9"/><circle cx="548.6" cy="1080.1"/><circle cx="548.6" cy="1083.6"/><circle cx="548.6" cy="1102.0"/><circle cx="548.6" cy="1111.9"/><circle cx="548.6" cy="1098.3"/><circle cx="548.6" cy="1102.3"/><circle cx="548.6" cy="1073.9"/><circle cx="548.6" cy="1096.0"/><circle cx="548.6" cy="1032.6"/><circle cx="548.6" cy="1052.6"/><circle cx="548.6" cy="1106.3"/><circle cx="548.6" cy="1106.4"/><circle cx="548.6" cy="1113.2"/><circle cx="548.6" cy="1088.7"/><circle cx="548.6" cy="1082.8"/><circle cx="548.6" cy="1073.5"/><circle cx="548.6" cy="1101.1"/><circle cx="548.6" cy="1114.8"/><circle cx="548.6" cy="1039.2"/><circle cx="548.6" cy="1100.7"/><circle cx="555.9" cy="1180.2"/><circle cx="555.9" cy="1180.0"/><circle cx="555.9" cy="1177.9"/><circle cx="555.9" cy="1173.9"/><circle cx="555.9" cy="1177.7"/><circle cx="555.9" cy="1175.7"/><circle cx="555.9" cy="1177.0"/><circle cx="555.9" cy="1178.5"/><circle cx="555.9" cy="1180.9"/><circle cx="555.9" cy="1150.8"/><circle cx="555.9" cy="1147.2"/><circle cx="555.9" cy="1155.5"/><circle cx="555.9" cy="1153.3"/><circle cx="555.9" cy="1155.5"/><circle cx="555.9" cy="1133.0"/><circle cx="555.9" cy="1127.1"/><circle cx="555.9" cy="1128.4"/><circle cx="555.9" cy="1129.7"/><circle cx="555.9" cy="1131.0"/><circle cx="555.9" cy="1070.6"/><circle cx="555.9" cy="1104.7"/><circle cx="555.9" cy="1069.1"/><circle cx="555.9" cy="1076.9"/><circle cx="555.9" cy="1082.1"/><circle cx="555.9" cy="1115.3"/><circle cx="555.9" cy="1078.3"/><circle cx="555.9" cy="1072.8"/><circle cx="555.9" cy="1117.7"/><circle cx="555.9" cy="1096.3"/><circle cx="555.9" cy="1107.3"/><circle cx="555.9" cy="1094.6"/><circle cx="555.9" cy="1066.1"/><circle cx="555.9" cy="1096.7"/><circle cx="555.9" cy="1044.7"/><circle cx="555.9" cy="1039.2"/><circle cx="555.9" cy="1104.3"/><circle cx="555.9" cy="1075.0"/><circle cx="555.9" cy="1072.7"/><circle cx="555.9" cy="1069.4"/><circle cx="555.9" cy="1104.1"/><circle cx="563.2" cy="1177.1"/><circle cx="563.2" cy="1177.9"/><circle cx="563.2" cy="1178.4"/><circle cx="563.2" cy="1174.3"/><circle cx="563.2" cy="1180.5"/><circle cx="563.2" cy="1178.2"/><circle cx="563.2" cy="1174.2"/><circle cx="563.2" cy="1181.7"/><circle cx="563.2" cy="1153.1"/><circle cx="563.2" cy="1155.2"/><circle cx="563.2" cy="1155.9"/><circle cx="563.2" cy="1159.2"/><circle cx="563.2" cy="1151.0"/><circle cx="563.2" cy="1154.9"/><circle cx="563.2" cy="1132.8"/><circle cx="563.2" cy="1135.4"/><circle cx="563.2" cy="1131.3"/><circle cx="563.2" cy="1133.8"/><circle cx="563.2" cy="1128.8"/><circle cx="563.2" cy="1083.6"/><circle cx="563.2" cy="1101.6"/><circle cx="563.2" cy="1076.6"/><circle cx="563.2" cy="1088.5"/><circle cx="563.2" cy="1029.9"/><circle cx="563.2" cy="1085.5"/><circle cx="563.2" cy="1094.2"/><circle cx="563.2" cy="1084.1"/><circle cx="563.2" cy="1079.6"/><circle cx="563.2" cy="1107.1"/><circle cx="563.2" cy="1089.7"/><circle cx="563.2" cy="1092.5"/><circle cx="563.2" cy="1116.1"/><circle cx="563.2" cy="1059.8"/><circle cx="563.2" cy="1096.1"/><circle cx="563.2" cy="1029.7"/><circle cx="563.2" cy="1078.5"/><circle cx="563.2" cy="1105.4"/><circle cx="563.2" cy="1080.6"/><circle cx="563.2" cy="1082.6"/><circle cx="563.2" cy="1024.1"/><circle cx="563.2" cy="1090.5"/><circle cx="563.2" cy="1115.5"/><circle cx="570.5" cy="1181.5"/><circle cx="570.5" cy="1176.3"/><circle cx="570.5" cy="1182.7"/><circle cx="570.5" cy="1180.8"/><circle cx="570.5" cy="1179.5"/><circle cx="570.5" cy="1180.5"/><circle cx="570.5" cy="1182.3"/><circle cx="570.5" cy="1181.8"/><circle cx="570.5" cy="1156.1"/><circle cx="570.5" cy="1154.2"/><circle cx="570.5" cy="1151.1"/><circle cx="570.5" cy="1158.5"/><circle cx="570.5" cy="1156.4"/><circle cx="570.5" cy="1125.9"/><circle cx="570.5" cy="1130.7"/><circle cx="570.5" cy="1132.4"/><circle cx="570.5" cy="1133.0"/><circle cx="570.5" cy="1071.5"/><circle cx="570.5" cy="1114.1"/><circle cx="570.5" cy="1084.1"/><circle cx="570.5" cy="1066.6"/><circle cx="570.5" cy="1073.9"/><circle cx="570.5" cy="1107.2"/><circle cx="570.5" cy="1094.1"/><circle cx="570.5" cy="1081.2"/><circle cx="570.5" cy="1067.0"/><circle cx="570.5" cy="1096.1"/><circle cx="570.5" cy="1109.1"/><circle cx="570.5" cy="1106.9"/><circle cx="570.5" cy="1071.3"/><circle cx="570.5" cy="1093.1"/><circle cx="570.5" cy="1120.7"/><circle cx="570.5" cy="1119.6"/><circle cx="570.5" cy="1081.9"/><circle cx="570.5" cy="1107.9"/><circle cx="570.5" cy="1080.2"/><circle cx="570.5" cy="1117.0"/><circle cx="570.5" cy="1117.4"/><circle cx="570.5" cy="1118.3"/><circle cx="570.5" cy="1107.1"/><circle cx="570.5" cy="1093.0"/><circle cx="570.5" cy="1068.2"/><circle cx="577.8" cy="1182.3"/><circle cx="577.8" cy="1183.3"/><circle cx="577.8" cy="1183.2"/><circle cx="577.8" cy="1183.9"/><circle cx="577.8" cy="1181.2"/><circle cx="577.8" cy="1184.2"/><circle cx="577.8" cy="1181.3"/><circle cx="577.8" cy="1180.6"/><circle cx="577.8" cy="1158.8"/><circle cx="577.8" cy="1156.0"/><circle cx="577.8" cy="1161.1"/><circle cx="577.8" cy="1158.2"/><circle cx="577.8" cy="1156.1"/><circle cx="577.8" cy="1157.0"/><circle cx="577.8" cy="1134.9"/><circle cx="577.8" cy="1134.7"/><circle cx="577.8" cy="1133.9"/><circle cx="577.8" cy="1135.8"/><circle cx="577.8" cy="1131.4"/><circle cx="577.8" cy="1101.2"/><circle cx="577.8" cy="1100.5"/><circle cx="577.8" cy="1025.9"/><circle cx="577.8" cy="1080.8"/><circle cx="577.8" cy="1097.7"/><circle cx="577.8" cy="1110.0"/><circle cx="577.8" cy="1110.8"/><circle cx="577.8" cy="1089.5"/><circle cx="577.8" cy="1068.7"/><circle cx="577.8" cy="1105.2"/><circle cx="577.8" cy="1102.1"/><circle cx="577.8" cy="1054.7"/><circle cx="577.8" cy="1111.1"/><circle cx="577.8" cy="1103.0"/><circle cx="577.8" cy="1083.5"/><circle cx="577.8" cy="1108.9"/><circle cx="577.8" cy="1075.7"/><circle cx="577.8" cy="1102.0"/><circle cx="577.8" cy="1088.1"/><circle cx="577.8" cy="1079.2"/><circle cx="577.8" cy="1089.4"/><circle cx="577.8" cy="1050.2"/><circle cx="577.8" cy="1048.3"/><circle cx="577.8" cy="1103.9"/><circle cx="585.0" cy="1182.6"/><circle cx="585.0" cy="1179.9"/><circle cx="585.0" cy="1183.0"/><circle cx="585.0" cy="1183.8"/><circle cx="585.0" cy="1186.8"/><circle cx="585.0" cy="1178.4"/><circle cx="585.0" cy="1180.1"/><circle cx="585.0" cy="1180.1"/><circle cx="585.0" cy="1157.6"/><circle cx="585.0" cy="1160.4"/><circle cx="585.0" cy="1157.2"/><circle cx="585.0" cy="1161.7"/><circle cx="585.0" cy="1161.4"/><circle cx="585.0" cy="1159.7"/><circle cx="585.0" cy="1135.4"/><circle cx="585.0" cy="1134.7"/><circle cx="585.0" cy="1137.6"/><circle cx="585.0" cy="1136.1"/><circle cx="585.0" cy="1119.6"/><circle cx="585.0" cy="1111.0"/><circle cx="585.0" cy="1103.3"/><circle cx="585.0" cy="1109.7"/><circle cx="585.0" cy="1112.2"/><circle cx="585.0" cy="1099.1"/><circle cx="585.0" cy="1111.9"/><circle cx="585.0" cy="1114.4"/><circle cx="585.0" cy="1092.8"/><circle cx="585.0" cy="1121.0"/><circle cx="585.0" cy="1093.7"/><circle cx="585.0" cy="1110.7"/><circle cx="585.0" cy="1094.7"/><circle cx="585.0" cy="1112.2"/><circle cx="585.0" cy="1051.7"/><circle cx="585.0" cy="1016.8"/><circle cx="585.0" cy="1087.6"/><circle cx="585.0" cy="1097.6"/><circle cx="585.0" cy="1093.3"/><circle cx="585.0" cy="1089.2"/><circle cx="585.0" cy="1058.0"/><circle cx="585.0" cy="1061.4"/><circle cx="585.0" cy="1082.9"/><circle cx="585.0" cy="1086.6"/><circle cx="585.0" cy="1087.2"/><circle cx="592.3" cy="1183.6"/><circle cx="592.3" cy="1184.7"/><circle cx="592.3" cy="1183.9"/><circle cx="592.3" cy="1184.4"/><circle cx="592.3" cy="1181.5"/><circle cx="592.3" cy="1189.0"/><circle cx="592.3" cy="1187.6"/><circle cx="592.3" cy="1183.5"/><circle cx="592.3" cy="1162.7"/><circle cx="592.3" cy="1158.8"/><circle cx="592.3" cy="1159.9"/><circle cx="592.3" cy="1161.8"/><circle cx="592.3" cy="1163.9"/><circle cx="592.3" cy="1136.2"/><circle cx="592.3" cy="1134.7"/><circle cx="592.3" cy="1133.4"/><circle cx="592.3" cy="1134.8"/><circle cx="592.3" cy="1095.6"/><circle cx="592.3" cy="1111.4"/><circle cx="592.3" cy="1095.0"/><circle cx="592.3" cy="1081.6"/><circle cx="592.3" cy="1120.6"/><circle cx="592.3" cy="1111.0"/><circle cx="592.3" cy="1064.9"/><circle cx="592.3" cy="1103.4"/><circle cx="592.3" cy="1112.8"/><circle cx="592.3" cy="1086.7"/><circle cx="592.3" cy="1081.5"/><circle cx="592.3" cy="1085.7"/><circle cx="592.3" cy="1122.6"/><circle cx="592.3" cy="1112.3"/><circle cx="592.3" cy="1122.6"/><circle cx="592.3" cy="1106.8"/><circle cx="592.3" cy="1122.6"/><circle cx="592.3" cy="1114.5"/><circle cx="592.3" cy="1072.9"/><circle cx="592.3" cy="1084.3"/><circle cx="592.3" cy="1121.4"/><circle cx="592.3" cy="1101.3"/><circle cx="592.3" cy="1048.3"/><circle cx="592.3" cy="1085.0"/><circle cx="592.3" cy="1023.0"/><circle cx="599.6" cy="1186.3"/><circle cx="599.6" cy="1184.7"/><circle cx="599.6" cy="1188.2"/><circle cx="599.6" cy="1188.0"/><circle cx="599.6" cy="1188.4"/><circle cx="599.6" cy="1187.0"/><circle cx="599.6" cy="1186.9"/><circle cx="599.6" cy="1184.4"/><circle cx="599.6" cy="1158.7"/><circle cx="599.6" cy="1161.2"/><circle cx="599.6" cy="1163.3"/><circle cx="599.6" cy="1155.3"/><circle cx="599.6" cy="1164.4"/><circle cx="599.6" cy="1138.2"/><circle cx="599.6" cy="1140.3"/><circle cx="599.6" cy="1139.2"/><circle cx="599.6" cy="1138.9"/><circle cx="599.6" cy="1108.5"/><circle cx="599.6" cy="1112.9"/><circle cx="599.6" cy="1048.7"/><circle cx="599.6" cy="1079.8"/><circle cx="599.6" cy="1083.6"/><circle cx="599.6" cy="1108.4"/><circle cx="599.6" cy="1110.0"/><circle cx="599.6" cy="1106.7"/><circle cx="599.6" cy="1088.0"/><circle cx="599.6" cy="1121.6"/><circle cx="599.6" cy="1096.5"/><circle cx="599.6" cy="1073.9"/><circle cx="599.6" cy="1099.1"/><circle cx="599.6" cy="1085.4"/><circle cx="599.6" cy="1107.4"/><circle cx="599.6" cy="1093.1"/><circle cx="599.6" cy="1100.0"/><circle cx="599.6" cy="1086.9"/><circle cx="599.6" cy="1114.1"/><circle cx="599.6" cy="1115.2"/><circle cx="599.6" cy="1095.1"/><circle cx="599.6" cy="1076.5"/><circle cx="599.6" cy="1113.5"/><circle cx="599.6" cy="1126.0"/><circle cx="606.9" cy="1185.1"/><circle cx="606.9" cy="1188.9"/><circle cx="606.9" cy="1185.5"/><circle cx="606.9" cy="1184.3"/><circle cx="606.9" cy="1188.2"/><circle cx="606.9" cy="1190.3"/><circle cx="606.9" cy="1184.4"/><circle cx="606.9" cy="1164.9"/><circle cx="606.9" cy="1163.8"/><circle cx="606.9" cy="1161.4"/><circle cx="606.9" cy="1160.5"/><circle cx="606.9" cy="1163.5"/><circle cx="606.9" cy="1166.9"/><circle cx="606.9" cy="1141.2"/><circle cx="606.9" cy="1137.5"/><circle cx="606.9" cy="1139.2"/><circle cx="606.9" cy="1141.3"/><circle cx="606.9" cy="1053.3"/><circle cx="606.9" cy="1026.2"/><circle cx="606.9" cy="1117.4"/><circle cx="606.9" cy="1075.5"/><circle cx="606.9" cy="1076.6"/><circle cx="606.9" cy="1108.3"/><circle cx="606.9" cy="1107.9"/><circle cx="606.9" cy="1055.0"/><circle cx="606.9" cy="1117.0"/><circle cx="606.9" cy="1111.8"/><circle cx="606.9" cy="1085.8"/><circle cx="606.9" cy="1091.3"/><circle cx="606.9" cy="1113.0"/><circle cx="606.9" cy="1126.5"/><circle cx="606.9" cy="1073.0"/><circle cx="606.9" cy="1126.2"/><circle cx="606.9" cy="1115.9"/><circle cx="606.9" cy="1114.5"/><circle cx="606.9" cy="1091.9"/><circle cx="606.9" cy="1069.3"/><circle cx="606.9" cy="1090.2"/><circle cx="606.9" cy="1092.8"/><circle cx="606.9" cy="1108.4"/><circle cx="614.2" cy="1190.1"/><circle cx="614.2" cy="1189.3"/><circle cx="614.2" cy="1186.2"/><circle cx="614.2" cy="1187.7"/><circle cx="614.2" cy="1188.3"/><circle cx="614.2" cy="1190.4"/><circle cx="614.2" cy="1186.8"/><circle cx="614.2" cy="1166.7"/><circle cx="614.2" cy="1165.8"/><circle cx="614.2" cy="1159.9"/><circle cx="614.2" cy="1164.2"/><circle cx="614.2" cy="1168.1"/><circle cx="614.2" cy="1139.7"/><circle cx="614.2" cy="1142.1"/><circle cx="614.2" cy="1140.5"/><circle cx="614.2" cy="1139.4"/><circle cx="614.2" cy="1140.5"/><circle cx="614.2" cy="1105.5"/><circle cx="614.2" cy="1110.0"/><circle cx="614.2" cy="1091.6"/><circle cx="614.2" cy="1090.9"/><circle cx="614.2" cy="1082.9"/><circle cx="614.2" cy="1106.8"/><circle cx="614.2" cy="1127.9"/><circle cx="614.2" cy="1119.5"/><circle cx="614.2" cy="1110.3"/><circle cx="614.2" cy="1081.4"/><circle cx="614.2" cy="1078.6"/><circle cx="614.2" cy="1035.0"/><circle cx="614.2" cy="1112.1"/><circle cx="614.2" cy="1055.1"/><circle cx="614.2" cy="1128.6"/><circle cx="614.2" cy="1087.1"/><circle cx="614.2" cy="1095.2"/><circle cx="614.2" cy="1075.5"/><circle cx="614.2" cy="1079.0"/><circle cx="614.2" cy="1126.7"/><circle cx="614.2" cy="1080.3"/><circle cx="614.2" cy="1046.4"/><circle cx="614.2" cy="1109.6"/><circle cx="621.5" cy="1188.9"/><circle cx="621.5" cy="1192.5"/><circle cx="621.5" cy="1192.8"/><circle cx="621.5" cy="1191.0"/><circle cx="621.5" cy="1188.7"/><circle cx="621.5" cy="1187.2"/><circle cx="621.5" cy="1194.5"/><circle cx="621.5" cy="1191.4"/><circle cx="621.5" cy="1168.5"/><circle cx="621.5" cy="1166.1"/><circle cx="621.5" cy="1168.1"/><circle cx="621.5" cy="1167.7"/><circle cx="621.5" cy="1160.1"/><circle cx="621.5" cy="1141.9"/><circle cx="621.5" cy="1143.4"/><circle cx="621.5" cy="1142.0"/><circle cx="621.5" cy="1142.0"/><circle cx="621.5" cy="1141.4"/><circle cx="621.5" cy="1100.8"/><circle cx="621.5" cy="1099.4"/><circle cx="621.5" cy="1020.8"/><circle cx="621.5" cy="1119.3"/><circle cx="621.5" cy="1065.0"/><circle cx="621.5" cy="1091.6"/><circle cx="621.5" cy="1066.6"/><circle cx="621.5" cy="1097.8"/><circle cx="621.5" cy="1081.6"/><circle cx="621.5" cy="1124.2"/><circle cx="621.5" cy="1109.2"/><circle cx="621.5" cy="1092.2"/><circle cx="621.5" cy="1090.1"/><circle cx="621.5" cy="1108.5"/><circle cx="621.5" cy="1043.6"/><circle cx="621.5" cy="1105.8"/><circle cx="621.5" cy="1055.2"/><circle cx="621.5" cy="1059.9"/><circle cx="621.5" cy="1070.7"/><circle cx="621.5" cy="1072.0"/><circle cx="621.5" cy="1106.3"/><circle cx="621.5" cy="1093.6"/><circle cx="621.5" cy="1124.0"/><circle cx="628.8" cy="1186.6"/><circle cx="628.8" cy="1189.5"/><circle cx="628.8" cy="1193.8"/><circle cx="628.8" cy="1189.4"/><circle cx="628.8" cy="1194.9"/><circle cx="628.8" cy="1191.4"/><circle cx="628.8" cy="1168.8"/><circle cx="628.8" cy="1167.9"/><circle cx="628.8" cy="1169.6"/><circle cx="628.8" cy="1163.6"/><circle cx="628.8" cy="1167.8"/><circle cx="628.8" cy="1138.2"/><circle cx="628.8" cy="1136.7"/><circle cx="628.8" cy="1143.4"/><circle cx="628.8" cy="1142.1"/><circle cx="628.8" cy="1146.7"/><circle cx="628.8" cy="1130.4"/><circle cx="628.8" cy="1120.7"/><circle cx="628.8" cy="1103.3"/><circle cx="628.8" cy="1080.6"/><circle cx="628.8" cy="1118.8"/><circle cx="628.8" cy="1092.4"/><circle cx="628.8" cy="1089.2"/><circle cx="628.8" cy="1100.3"/><circle cx="628.8" cy="1103.9"/><circle cx="628.8" cy="1110.3"/><circle cx="628.8" cy="1112.6"/><circle cx="628.8" cy="1085.4"/><circle cx="628.8" cy="1121.5"/><circle cx="628.8" cy="1101.0"/><circle cx="628.8" cy="1120.9"/><circle cx="628.8" cy="1081.8"/><circle cx="628.8" cy="1118.2"/><circle cx="628.8" cy="1097.5"/><circle cx="628.8" cy="1088.8"/><circle cx="628.8" cy="1094.4"/><circle cx="636.0" cy="1193.9"/><circle cx="636.0" cy="1194.2"/><circle cx="636.0" cy="1194.2"/><circle cx="636.0" cy="1192.3"/><circle cx="636.0" cy="1193.1"/><circle cx="636.0" cy="1168.9"/><circle cx="636.0" cy="1171.2"/><circle cx="636.0" cy="1168.8"/><circle cx="636.0" cy="1168.3"/><circle cx="636.0" cy="1147.3"/><circle cx="636.0" cy="1145.9"/><circle cx="636.0" cy="1144.7"/><circle cx="636.0" cy="1144.7"/><circle cx="636.0" cy="1113.8"/><circle cx="636.0" cy="1104.9"/><circle cx="636.0" cy="1099.4"/><circle cx="636.0" cy="1055.7"/><circle cx="636.0" cy="1063.3"/><circle cx="636.0" cy="1119.8"/><circle cx="636.0" cy="1098.1"/><circle cx="636.0" cy="1080.2"/><circle cx="636.0" cy="1101.2"/><circle cx="636.0" cy="1089.8"/><circle cx="636.0" cy="1091.2"/><circle cx="636.0" cy="1080.0"/><circle cx="636.0" cy="1111.2"/><circle cx="636.0" cy="1072.5"/><circle cx="636.0" cy="1052.6"/><circle cx="636.0" cy="1063.3"/><circle cx="643.3" cy="1198.4"/><circle cx="643.3" cy="1195.7"/><circle cx="643.3" cy="1194.7"/><circle cx="643.3" cy="1195.7"/><circle cx="643.3" cy="1170.6"/><circle cx="643.3" cy="1172.5"/><circle cx="643.3" cy="1173.9"/><circle cx="643.3" cy="1171.5"/><circle cx="643.3" cy="1142.0"/><circle cx="643.3" cy="1146.3"/><circle cx="643.3" cy="1147.8"/><circle cx="643.3" cy="1143.2"/><circle cx="643.3" cy="1143.3"/><circle cx="643.3" cy="1083.1"/><circle cx="643.3" cy="1060.5"/><circle cx="643.3" cy="1107.9"/><circle cx="643.3" cy="1124.0"/><circle cx="643.3" cy="1088.5"/><circle cx="643.3" cy="1121.3"/><circle cx="643.3" cy="1108.1"/><circle cx="643.3" cy="1107.5"/><circle cx="643.3" cy="1057.9"/><circle cx="643.3" cy="1094.9"/><circle cx="643.3" cy="1106.3"/><circle cx="643.3" cy="1120.8"/><circle cx="643.3" cy="1111.5"/><circle cx="643.3" cy="1069.8"/><circle cx="643.3" cy="1133.2"/><circle cx="650.6" cy="1194.9"/><circle cx="650.6" cy="1192.9"/><circle cx="650.6" cy="1198.2"/><circle cx="650.6" cy="1168.5"/><circle cx="650.6" cy="1171.0"/><circle cx="650.6" cy="1170.1"/><circle cx="650.6" cy="1168.9"/><circle cx="650.6" cy="1147.5"/><circle cx="650.6" cy="1146.4"/><circle cx="650.6" cy="1150.5"/><circle cx="650.6" cy="1148.4"/><circle cx="650.6" cy="1106.1"/><circle cx="650.6" cy="1077.6"/><circle cx="650.6" cy="1071.6"/><circle cx="650.6" cy="1112.9"/><circle cx="650.6" cy="1109.7"/><circle cx="650.6" cy="1124.1"/><circle cx="650.6" cy="1124.5"/><circle cx="650.6" cy="1074.9"/><circle cx="650.6" cy="1041.8"/><circle cx="650.6" cy="1133.0"/><circle cx="650.6" cy="1121.7"/><circle cx="657.9" cy="1196.4"/><circle cx="657.9" cy="1199.5"/><circle cx="657.9" cy="1176.8"/><circle cx="657.9" cy="1171.6"/><circle cx="657.9" cy="1175.6"/><circle cx="657.9" cy="1152.2"/><circle cx="657.9" cy="1151.5"/><circle cx="657.9" cy="1149.1"/><circle cx="657.9" cy="1149.4"/><circle cx="657.9" cy="1084.3"/><circle cx="657.9" cy="1090.7"/><circle cx="657.9" cy="1123.6"/><circle cx="657.9" cy="1134.9"/><circle cx="657.9" cy="1097.7"/><circle cx="657.9" cy="1123.9"/><circle cx="657.9" cy="1136.1"/><circle cx="657.9" cy="1124.0"/><circle cx="657.9" cy="1106.4"/><circle cx="657.9" cy="1135.9"/><circle cx="665.2" cy="1198.0"/><circle cx="665.2" cy="1198.9"/><circle cx="665.2" cy="1173.4"/><circle cx="665.2" cy="1175.1"/><circle cx="665.2" cy="1147.2"/><circle cx="665.2" cy="1150.2"/><circle cx="665.2" cy="1112.6"/><circle cx="665.2" cy="1113.7"/><circle cx="665.2" cy="1040.2"/><circle cx="665.2" cy="1072.1"/><circle cx="665.2" cy="1133.0"/><circle cx="665.2" cy="1126.5"/><circle cx="665.2" cy="1084.0"/><circle cx="672.5" cy="1201.4"/><circle cx="672.5" cy="1175.9"/><circle cx="672.5" cy="1148.5"/><circle cx="672.5" cy="1103.8"/><circle cx="672.5" cy="1138.0"/><circle cx="672.5" cy="1108.3"/><circle cx="672.5" cy="1082.6"/><circle cx="672.5" cy="1069.5"/><circle cx="679.8" cy="1199.3"/><circle cx="679.8" cy="1074.5"/><circle cx="679.8" cy="1033.9"/><circle cx="679.8" cy="1083.1"/><circle cx="679.8" cy="1130.0"/><circle cx="687.0" cy="1203.0"/><circle cx="687.0" cy="1079.3"/><circle cx="687.0" cy="1053.6"/><circle cx="694.3" cy="1074.4"/><circle cx="701.6" cy="1079.4"/><circle cx="708.9" cy="1118.8"/><circle cx="716.2" cy="1095.8"/><circle cx="723.5" cy="1103.1"/><circle cx="730.8" cy="1108.6"/><circle cx="738.0" cy="1128.8"/><circle cx="745.3" cy="1072.9"/><circle cx="759.9" cy="1139.4"/><circle cx="359.2" cy="918.9"/><circle cx="548.6" cy="929.5"/><circle cx="395.6" cy="936.9"/><circle cx="475.8" cy="921.0"/><circle cx="337.4" cy="966.2"/><circle cx="337.4" cy="973.7"/><circle cx="526.8" cy="970.1"/><circle cx="381.1" cy="980.9"/><circle cx="541.3" cy="990.6"/><circle cx="563.2" cy="989.6"/><circle cx="366.5" cy="993.5"/><circle cx="453.9" cy="995.6"/><circle cx="526.8" cy="997.9"/><circle cx="563.2" cy="997.9"/><circle cx="381.1" cy="1001.8"/><circle cx="614.2" cy="1000.0"/><circle cx="599.6" cy="1003.8"/><circle cx="388.4" cy="1006.4"/><circle cx="424.8" cy="1007.6"/><circle cx="606.9" cy="1012.2"/><circle cx="577.8" cy="1011.1"/><circle cx="344.6" cy="1014.9"/></g>
<path d="M177.39999999999998 1123.1H796.0999999999999" stroke="#d05050" stroke-width="1.5"/>
<text x="869.2" y="747.8" class="lab" style="font-size:44.0px">D</text>
<text transform="translate(888.0 1178.6) rotate(-90)" class="tt">Adjusted Troponin I</text>
<text transform="translate(939.0 1103.4) rotate(-90)" class="tt">(log[ng/ml])</text>
<text x="1084.2" y="1293.0" class="tt" style="font-size:43.3px">eGFR (mL/min/1.73m<tspan dy="-12.3" style="font-size:28px">2</tspan><tspan dy="12.3">)</tspan></text>
<rect x="982.4" y="778.4" width="623.0" height="448.9" class="ax" fill="none"/>
<text x="1061.4" y="1259.5" class="tk" text-anchor="middle">20</text>
<text x="1171.0" y="1259.5" class="tk" text-anchor="middle">40</text>
<text x="1280.5" y="1259.5" class="tk" text-anchor="middle">60</text>
<text x="1390.1" y="1259.5" class="tk" text-anchor="middle">80</text>
<text x="1499.6" y="1259.5" class="tk" text-anchor="middle">100</text>
<text transform="translate(960.8 833.1) rotate(-90)" class="tk" text-anchor="middle">2</text>
<text transform="translate(960.8 903.1) rotate(-90)" class="tk" text-anchor="middle">0</text>
<text transform="translate(960.8 973.1) rotate(-90)" class="tk" text-anchor="middle">-2</text>
<text transform="translate(960.8 1043.1) rotate(-90)" class="tk" text-anchor="middle">-4</text>
<text transform="translate(960.8 1113.2) rotate(-90)" class="tk" text-anchor="middle">-6</text>
<text transform="translate(960.8 1183.2) rotate(-90)" class="tk" text-anchor="middle">-8</text>
<path d="M1061.4 1227.3V1236.1M1171.0 1227.3V1236.1M1280.5 1227.3V1236.1M1390.1 1227.3V1236.1M1499.6 1227.3V1236.1M972.6 833.1H982.4M972.6 903.1H982.4M972.6 973.1H982.4M972.6 1043.1H982.4M972.6 1113.2H982.4M972.6 1183.2H982.4" class="ax"/>
<g class="pt"><circle cx="1215.2" cy="1105.7"/><circle cx="1426.6" cy="1111.4"/><circle cx="1372.3" cy="1062.0"/><circle cx="1421.4" cy="1113.1"/><circle cx="1367.7" cy="1111.8"/><circle cx="1489.8" cy="1051.8"/><circle cx="1363.4" cy="1113.5"/><circle cx="1230.9" cy="1109.2"/><circle cx="1320.5" cy="1112.6"/><circle cx="1363.4" cy="1089.5"/><circle cx="1109.2" cy="1057.1"/><circle cx="1285.3" cy="1038.2"/><circle cx="1252.9" cy="1111.8"/><circle cx="1172.7" cy="1107.1"/><circle cx="1282.0" cy="1088.3"/><circle cx="1316.9" cy="1065.3"/><circle cx="1250.0" cy="1113.2"/><circle cx="1225.6" cy="1111.7"/><circle cx="1225.6" cy="1063.3"/><circle cx="1278.9" cy="1051.7"/><circle cx="1351.9" cy="1117.3"/><circle cx="1351.9" cy="1117.3"/><circle cx="1310.2" cy="1067.9"/><circle cx="1310.2" cy="1053.5"/><circle cx="1399.7" cy="1119.8"/><circle cx="1273.2" cy="1116.6"/><circle cx="1273.2" cy="1093.1"/><circle cx="1348.4" cy="1070.8"/><circle cx="1304.2" cy="1119.1"/><circle cx="1345.1" cy="1120.7"/><circle cx="1218.6" cy="1116.3"/><circle cx="1345.1" cy="1072.2"/><circle cx="1196.2" cy="1117.0"/><circle cx="1268.0" cy="1120.2"/><circle cx="1342.0" cy="1121.6"/><circle cx="1392.5" cy="1098.5"/><circle cx="1456.6" cy="1075.0"/><circle cx="1268.0" cy="1039.0"/><circle cx="1339.0" cy="1123.7"/><circle cx="1298.7" cy="1122.0"/><circle cx="1265.6" cy="1120.9"/><circle cx="1336.2" cy="1124.6"/><circle cx="1336.2" cy="1125.0"/><circle cx="1296.2" cy="1123.3"/><circle cx="1296.2" cy="1099.5"/><circle cx="1385.9" cy="1076.8"/><circle cx="1449.1" cy="1064.0"/><circle cx="1445.6" cy="1128.6"/><circle cx="1382.8" cy="1127.5"/><circle cx="1261.1" cy="1124.0"/><circle cx="1291.4" cy="1126.7"/><circle cx="1291.4" cy="1126.4"/><circle cx="1231.8" cy="1124.2"/><circle cx="1330.9" cy="1127.6"/><circle cx="1523.9" cy="1106.8"/><circle cx="1379.9" cy="1079.9"/><circle cx="1330.9" cy="1079.3"/><circle cx="1291.4" cy="1063.8"/><circle cx="1330.9" cy="1054.4"/><circle cx="1256.9" cy="1126.9"/><circle cx="1289.1" cy="1127.8"/><circle cx="1438.9" cy="1131.1"/><circle cx="1289.1" cy="1128.2"/><circle cx="1230.0" cy="1101.6"/><circle cx="1289.1" cy="1103.3"/><circle cx="1289.1" cy="1103.8"/><circle cx="1328.3" cy="1080.8"/><circle cx="1256.9" cy="1078.6"/><circle cx="1438.9" cy="1058.3"/><circle cx="1328.3" cy="1056.1"/><circle cx="1328.3" cy="1041.6"/><circle cx="1254.9" cy="1128.5"/><circle cx="1287.0" cy="1129.4"/><circle cx="1287.0" cy="1129.1"/><circle cx="1325.9" cy="1130.7"/><circle cx="1374.3" cy="1131.8"/><circle cx="1228.2" cy="1127.1"/><circle cx="1254.9" cy="1104.4"/><circle cx="1254.9" cy="1103.8"/><circle cx="1254.9" cy="1104.0"/><circle cx="1287.0" cy="1080.5"/><circle cx="1325.9" cy="1081.8"/><circle cx="1287.0" cy="1080.4"/><circle cx="1325.9" cy="1057.8"/><circle cx="1287.0" cy="1066.4"/><circle cx="1228.2" cy="1054.7"/><circle cx="1374.3" cy="1050.9"/><circle cx="1371.7" cy="1132.5"/><circle cx="1140.5" cy="1124.0"/><circle cx="1371.7" cy="1133.0"/><circle cx="1323.6" cy="1131.6"/><circle cx="1253.1" cy="1129.7"/><circle cx="1284.9" cy="1131.0"/><circle cx="1284.9" cy="1130.3"/><circle cx="1371.7" cy="1108.5"/><circle cx="1253.1" cy="1105.6"/><circle cx="1204.0" cy="1103.3"/><circle cx="1284.9" cy="1081.8"/><circle cx="1226.5" cy="1080.0"/><circle cx="1371.7" cy="1084.3"/><circle cx="1371.7" cy="1052.2"/><circle cx="1253.1" cy="1056.5"/><circle cx="1184.7" cy="1053.9"/><circle cx="1253.1" cy="1056.6"/><circle cx="1284.9" cy="1057.8"/><circle cx="1251.2" cy="1131.5"/><circle cx="1282.9" cy="1131.9"/><circle cx="1202.4" cy="1128.8"/><circle cx="1224.8" cy="1130.4"/><circle cx="1183.3" cy="1127.7"/><circle cx="1282.9" cy="1131.8"/><circle cx="1369.1" cy="1109.7"/><circle cx="1251.2" cy="1107.1"/><circle cx="1251.2" cy="1106.7"/><circle cx="1369.1" cy="1109.7"/><circle cx="1251.2" cy="1082.6"/><circle cx="1321.3" cy="1084.6"/><circle cx="1282.9" cy="1083.8"/><circle cx="1166.7" cy="1078.7"/><circle cx="1251.2" cy="1050.2"/><circle cx="1321.3" cy="1060.6"/><circle cx="1369.1" cy="1071.3"/><circle cx="1224.8" cy="1049.5"/><circle cx="1224.8" cy="1049.7"/><circle cx="1282.9" cy="1059.5"/><circle cx="1280.9" cy="1133.1"/><circle cx="1319.2" cy="1134.6"/><circle cx="1319.2" cy="1134.6"/><circle cx="1223.2" cy="1131.6"/><circle cx="1249.5" cy="1132.5"/><circle cx="1280.9" cy="1133.2"/><circle cx="1366.7" cy="1135.4"/><circle cx="1319.2" cy="1134.5"/><circle cx="1249.5" cy="1108.3"/><circle cx="1223.2" cy="1107.5"/><circle cx="1249.5" cy="1108.3"/><circle cx="1280.9" cy="1109.0"/><circle cx="1223.2" cy="1107.1"/><circle cx="1319.2" cy="1086.1"/><circle cx="1319.2" cy="1086.2"/><circle cx="1181.9" cy="1081.1"/><circle cx="1223.2" cy="1083.0"/><circle cx="1280.9" cy="1071.1"/><circle cx="1201.0" cy="1057.2"/><circle cx="1201.0" cy="1057.7"/><circle cx="1366.7" cy="1048.5"/><circle cx="1223.2" cy="1058.9"/><circle cx="1319.2" cy="1061.5"/><circle cx="1199.6" cy="1131.4"/><circle cx="1279.0" cy="1134.8"/><circle cx="1180.6" cy="1130.5"/><circle cx="1247.8" cy="1133.6"/><circle cx="1180.6" cy="1130.5"/><circle cx="1149.8" cy="1128.8"/><circle cx="1247.8" cy="1133.8"/><circle cx="1317.1" cy="1136.1"/><circle cx="1180.6" cy="1106.6"/><circle cx="1279.0" cy="1110.3"/><circle cx="1364.3" cy="1112.4"/><circle cx="1364.3" cy="1113.2"/><circle cx="1317.1" cy="1111.8"/><circle cx="1199.6" cy="1107.2"/><circle cx="1279.0" cy="1086.4"/><circle cx="1317.1" cy="1087.2"/><circle cx="1317.1" cy="1087.6"/><circle cx="1247.8" cy="1085.7"/><circle cx="1364.3" cy="1074.6"/><circle cx="1317.1" cy="1063.3"/><circle cx="1279.0" cy="1072.4"/><circle cx="1364.3" cy="1056.7"/><circle cx="1221.7" cy="1060.4"/><circle cx="1317.1" cy="1055.2"/><circle cx="1315.1" cy="1137.0"/><circle cx="1315.1" cy="1137.4"/><circle cx="1246.1" cy="1135.5"/><circle cx="1220.2" cy="1134.2"/><circle cx="1277.2" cy="1136.3"/><circle cx="1148.7" cy="1129.6"/><circle cx="1220.2" cy="1134.3"/><circle cx="1277.2" cy="1136.3"/><circle cx="1362.0" cy="1113.8"/><circle cx="1362.0" cy="1113.8"/><circle cx="1246.1" cy="1110.7"/><circle cx="1362.0" cy="1114.4"/><circle cx="1220.2" cy="1110.4"/><circle cx="1362.0" cy="1114.3"/><circle cx="1362.0" cy="1089.8"/><circle cx="1362.0" cy="1089.5"/><circle cx="1246.1" cy="1087.1"/><circle cx="1198.2" cy="1084.9"/><circle cx="1277.2" cy="1087.8"/><circle cx="1362.0" cy="1075.4"/><circle cx="1246.1" cy="1062.2"/><circle cx="1362.0" cy="1037.6"/><circle cx="1421.7" cy="1047.4"/><circle cx="1220.2" cy="1061.1"/><circle cx="1198.2" cy="1060.7"/><circle cx="1313.1" cy="1138.9"/><circle cx="1275.5" cy="1137.9"/><circle cx="1218.7" cy="1135.4"/><circle cx="1275.5" cy="1137.8"/><circle cx="1313.1" cy="1138.6"/><circle cx="1147.7" cy="1131.7"/><circle cx="1244.6" cy="1136.5"/><circle cx="1244.6" cy="1137.1"/><circle cx="1313.1" cy="1114.8"/><circle cx="1275.5" cy="1113.4"/><circle cx="1244.6" cy="1112.2"/><circle cx="1244.6" cy="1112.5"/><circle cx="1419.2" cy="1116.4"/><circle cx="1218.7" cy="1111.1"/><circle cx="1419.2" cy="1092.6"/><circle cx="1359.8" cy="1091.2"/><circle cx="1275.5" cy="1089.5"/><circle cx="1178.1" cy="1084.6"/><circle cx="1313.1" cy="1065.7"/><circle cx="1196.9" cy="1061.8"/><circle cx="1244.6" cy="1064.0"/><circle cx="1244.6" cy="1074.2"/><circle cx="1313.1" cy="1076.1"/><circle cx="1196.9" cy="1062.1"/><circle cx="1243.0" cy="1137.9"/><circle cx="1273.8" cy="1139.2"/><circle cx="1311.2" cy="1140.2"/><circle cx="1311.2" cy="1140.5"/><circle cx="1273.8" cy="1139.4"/><circle cx="1273.8" cy="1139.1"/><circle cx="1311.2" cy="1140.5"/><circle cx="1273.8" cy="1138.9"/><circle cx="1243.0" cy="1113.7"/><circle cx="1195.6" cy="1111.6"/><circle cx="1311.2" cy="1116.2"/><circle cx="1217.3" cy="1113.0"/><circle cx="1416.7" cy="1117.7"/><circle cx="1357.7" cy="1117.2"/><circle cx="1311.2" cy="1091.5"/><circle cx="1311.2" cy="1091.7"/><circle cx="1273.8" cy="1090.4"/><circle cx="1416.7" cy="1093.7"/><circle cx="1357.7" cy="1093.0"/><circle cx="1273.8" cy="1076.1"/><circle cx="1217.3" cy="1063.9"/><circle cx="1160.8" cy="1041.2"/><circle cx="1195.6" cy="1055.3"/><circle cx="1311.2" cy="1067.7"/><circle cx="1357.7" cy="1029.9"/><circle cx="1160.8" cy="1061.2"/><circle cx="1309.4" cy="1141.9"/><circle cx="1309.4" cy="1141.6"/><circle cx="1216.0" cy="1138.8"/><circle cx="1175.8" cy="1136.2"/><circle cx="1414.4" cy="1143.6"/><circle cx="1272.1" cy="1140.6"/><circle cx="1355.6" cy="1142.7"/><circle cx="1272.1" cy="1140.4"/><circle cx="1272.1" cy="1140.4"/><circle cx="1309.4" cy="1117.8"/><circle cx="1272.1" cy="1116.6"/><circle cx="1355.6" cy="1118.6"/><circle cx="1272.1" cy="1116.2"/><circle cx="1241.5" cy="1114.9"/><circle cx="1355.6" cy="1118.4"/><circle cx="1241.5" cy="1091.1"/><circle cx="1355.6" cy="1094.3"/><circle cx="1241.5" cy="1091.0"/><circle cx="1175.8" cy="1088.0"/><circle cx="1309.4" cy="1092.7"/><circle cx="1309.4" cy="1020.9"/><circle cx="1194.3" cy="1056.8"/><circle cx="1309.4" cy="1078.6"/><circle cx="1088.6" cy="1022.5"/><circle cx="1272.1" cy="1077.8"/><circle cx="1216.0" cy="1066.0"/><circle cx="1159.7" cy="1026.8"/><circle cx="1307.6" cy="1142.7"/><circle cx="1412.0" cy="1145.4"/><circle cx="1214.6" cy="1139.6"/><circle cx="1270.5" cy="1141.7"/><circle cx="1353.6" cy="1144.0"/><circle cx="1353.6" cy="1144.3"/><circle cx="1353.6" cy="1144.5"/><circle cx="1270.5" cy="1142.0"/><circle cx="1307.6" cy="1142.9"/><circle cx="1270.5" cy="1117.7"/><circle cx="1270.5" cy="1117.4"/><circle cx="1353.6" cy="1119.9"/><circle cx="1270.5" cy="1117.8"/><circle cx="1158.6" cy="1112.4"/><circle cx="1270.5" cy="1117.8"/><circle cx="1270.5" cy="1117.4"/><circle cx="1240.1" cy="1092.7"/><circle cx="1270.5" cy="1093.8"/><circle cx="1307.6" cy="1094.9"/><circle cx="1240.1" cy="1092.0"/><circle cx="1240.1" cy="1092.4"/><circle cx="1270.5" cy="1069.4"/><circle cx="1174.6" cy="1056.9"/><circle cx="1307.6" cy="1080.0"/><circle cx="1270.5" cy="1069.0"/><circle cx="1307.6" cy="1062.1"/><circle cx="1270.5" cy="1061.4"/><circle cx="1240.1" cy="1054.0"/><circle cx="1191.9" cy="1140.1"/><circle cx="1238.7" cy="1142.0"/><circle cx="1351.6" cy="1145.4"/><circle cx="1238.7" cy="1142.4"/><circle cx="1157.6" cy="1137.8"/><circle cx="1305.8" cy="1144.4"/><circle cx="1238.7" cy="1142.2"/><circle cx="1305.8" cy="1144.2"/><circle cx="1305.8" cy="1144.8"/><circle cx="1238.7" cy="1118.2"/><circle cx="1269.0" cy="1118.7"/><circle cx="1213.4" cy="1117.1"/><circle cx="1191.9" cy="1115.9"/><circle cx="1269.0" cy="1119.0"/><circle cx="1213.4" cy="1116.7"/><circle cx="1238.7" cy="1093.9"/><circle cx="1409.8" cy="1098.1"/><circle cx="1351.6" cy="1096.6"/><circle cx="1305.8" cy="1095.8"/><circle cx="1238.7" cy="1094.1"/><circle cx="1269.0" cy="1080.8"/><circle cx="1351.6" cy="1073.1"/><circle cx="1238.7" cy="1037.9"/><circle cx="1191.9" cy="1067.1"/><circle cx="1269.0" cy="1063.0"/><circle cx="1305.8" cy="1081.5"/><circle cx="1269.0" cy="1063.0"/><circle cx="1267.5" cy="1145.0"/><circle cx="1212.1" cy="1142.3"/><circle cx="1349.7" cy="1147.1"/><circle cx="1212.1" cy="1142.5"/><circle cx="1304.1" cy="1145.8"/><circle cx="1304.1" cy="1145.6"/><circle cx="1267.5" cy="1144.8"/><circle cx="1349.7" cy="1147.0"/><circle cx="1267.5" cy="1144.9"/><circle cx="1349.7" cy="1122.5"/><circle cx="1190.8" cy="1117.1"/><circle cx="1237.3" cy="1119.3"/><circle cx="1349.7" cy="1122.9"/><circle cx="1237.3" cy="1119.9"/><circle cx="1349.7" cy="1122.4"/><circle cx="1349.7" cy="1122.9"/><circle cx="1212.1" cy="1094.6"/><circle cx="1190.8" cy="1093.3"/><circle cx="1267.5" cy="1096.3"/><circle cx="1349.7" cy="1098.0"/><circle cx="1349.7" cy="1098.1"/><circle cx="1349.7" cy="1060.2"/><circle cx="1212.1" cy="1080.0"/><circle cx="1407.6" cy="1074.8"/><circle cx="1349.7" cy="1074.0"/><circle cx="1407.6" cy="1085.4"/><circle cx="1304.1" cy="1083.0"/><circle cx="1237.3" cy="1056.5"/><circle cx="1189.7" cy="1143.5"/><circle cx="1347.8" cy="1148.7"/><circle cx="1210.9" cy="1144.1"/><circle cx="1189.7" cy="1142.7"/><circle cx="1171.5" cy="1141.9"/><circle cx="1302.5" cy="1146.9"/><circle cx="1236.0" cy="1145.4"/><circle cx="1266.0" cy="1146.6"/><circle cx="1405.5" cy="1149.3"/><circle cx="1210.9" cy="1119.7"/><circle cx="1347.8" cy="1123.9"/><circle cx="1141.9" cy="1115.5"/><circle cx="1266.0" cy="1122.1"/><circle cx="1347.8" cy="1124.0"/><circle cx="1171.5" cy="1118.1"/><circle cx="1189.7" cy="1094.7"/><circle cx="1210.9" cy="1095.9"/><circle cx="1302.5" cy="1098.7"/><circle cx="1189.7" cy="1094.5"/><circle cx="1347.8" cy="1099.4"/><circle cx="1302.5" cy="1074.8"/><circle cx="1266.0" cy="1073.3"/><circle cx="1189.7" cy="1070.2"/><circle cx="1171.5" cy="1079.2"/><circle cx="1302.5" cy="1032.2"/><circle cx="1302.5" cy="1074.4"/><circle cx="1210.9" cy="1081.2"/><circle cx="1236.0" cy="1064.4"/><circle cx="1300.9" cy="1148.7"/><circle cx="1300.9" cy="1148.7"/><circle cx="1264.6" cy="1148.0"/><circle cx="1300.9" cy="1148.8"/><circle cx="1300.9" cy="1148.6"/><circle cx="1234.7" cy="1146.8"/><circle cx="1264.6" cy="1147.8"/><circle cx="1300.9" cy="1149.0"/><circle cx="1170.5" cy="1143.1"/><circle cx="1346.0" cy="1125.8"/><circle cx="1346.0" cy="1125.6"/><circle cx="1264.6" cy="1123.8"/><circle cx="1264.6" cy="1123.2"/><circle cx="1209.7" cy="1121.5"/><circle cx="1478.7" cy="1127.3"/><circle cx="1300.9" cy="1100.4"/><circle cx="1300.9" cy="1100.4"/><circle cx="1300.9" cy="1100.4"/><circle cx="1264.6" cy="1098.8"/><circle cx="1300.9" cy="1100.2"/><circle cx="1141.1" cy="1054.6"/><circle cx="1264.6" cy="1074.8"/><circle cx="1346.0" cy="1077.4"/><circle cx="1264.6" cy="1061.0"/><circle cx="1264.6" cy="1074.7"/><circle cx="1209.7" cy="1048.3"/><circle cx="1154.8" cy="1069.3"/><circle cx="1346.0" cy="1063.1"/><circle cx="1344.3" cy="1151.1"/><circle cx="1233.4" cy="1147.9"/><circle cx="1299.4" cy="1149.9"/><circle cx="1401.4" cy="1152.2"/><circle cx="1187.5" cy="1145.9"/><circle cx="1299.4" cy="1149.7"/><circle cx="1233.4" cy="1147.8"/><circle cx="1187.5" cy="1145.5"/><circle cx="1263.2" cy="1148.8"/><circle cx="1299.4" cy="1126.0"/><circle cx="1299.4" cy="1126.2"/><circle cx="1233.4" cy="1123.8"/><circle cx="1187.5" cy="1122.0"/><circle cx="1208.6" cy="1122.9"/><circle cx="1299.4" cy="1126.0"/><circle cx="1233.4" cy="1099.5"/><circle cx="1344.3" cy="1103.0"/><circle cx="1299.4" cy="1101.2"/><circle cx="1263.2" cy="1100.4"/><circle cx="1187.5" cy="1097.7"/><circle cx="1299.4" cy="1077.1"/><circle cx="1299.4" cy="1032.3"/><circle cx="1263.2" cy="1061.8"/><circle cx="1401.4" cy="1071.7"/><circle cx="1233.4" cy="1067.4"/><circle cx="1233.4" cy="1060.9"/><circle cx="1299.4" cy="1057.5"/><circle cx="1187.5" cy="1059.3"/><circle cx="1401.4" cy="1055.1"/><circle cx="1186.5" cy="1147.6"/><circle cx="1232.2" cy="1149.3"/><circle cx="1232.2" cy="1149.5"/><circle cx="1297.8" cy="1151.2"/><circle cx="1186.5" cy="1147.1"/><circle cx="1261.8" cy="1150.9"/><circle cx="1297.8" cy="1151.7"/><circle cx="1297.8" cy="1151.8"/><circle cx="1232.2" cy="1149.3"/><circle cx="1186.5" cy="1123.5"/><circle cx="1168.5" cy="1121.9"/><circle cx="1232.2" cy="1125.3"/><circle cx="1232.2" cy="1124.8"/><circle cx="1297.8" cy="1127.6"/><circle cx="1207.5" cy="1124.3"/><circle cx="1342.6" cy="1128.3"/><circle cx="1297.8" cy="1103.2"/><circle cx="1342.6" cy="1103.8"/><circle cx="1261.8" cy="1101.8"/><circle cx="1297.8" cy="1102.7"/><circle cx="1168.5" cy="1097.3"/><circle cx="1261.8" cy="1087.6"/><circle cx="1153.0" cy="1072.3"/><circle cx="1232.2" cy="1076.9"/><circle cx="1297.8" cy="1070.8"/><circle cx="1261.8" cy="1045.6"/><circle cx="1297.8" cy="1054.3"/><circle cx="1297.8" cy="1078.9"/><circle cx="1261.8" cy="1038.4"/><circle cx="1206.4" cy="1149.4"/><circle cx="1231.0" cy="1151.1"/><circle cx="1206.4" cy="1150.2"/><circle cx="1340.9" cy="1154.3"/><circle cx="1260.5" cy="1151.8"/><circle cx="1231.0" cy="1150.4"/><circle cx="1231.0" cy="1150.6"/><circle cx="1340.9" cy="1153.6"/><circle cx="1185.5" cy="1148.4"/><circle cx="1231.0" cy="1126.5"/><circle cx="1260.5" cy="1127.8"/><circle cx="1206.4" cy="1125.2"/><circle cx="1231.0" cy="1126.7"/><circle cx="1231.0" cy="1126.9"/><circle cx="1231.0" cy="1127.0"/><circle cx="1471.8" cy="1132.1"/><circle cx="1138.6" cy="1097.1"/><circle cx="1231.0" cy="1102.2"/><circle cx="1206.4" cy="1100.8"/><circle cx="1206.4" cy="1101.4"/><circle cx="1340.9" cy="1105.1"/><circle cx="1340.9" cy="1067.2"/><circle cx="1206.4" cy="1062.4"/><circle cx="1185.5" cy="1068.2"/><circle cx="1206.4" cy="1077.0"/><circle cx="1296.4" cy="1072.0"/><circle cx="1231.0" cy="1077.9"/><circle cx="1206.4" cy="1057.5"/><circle cx="1397.5" cy="1067.9"/><circle cx="1340.9" cy="1081.4"/><circle cx="1184.5" cy="1149.7"/><circle cx="1229.8" cy="1151.9"/><circle cx="1205.3" cy="1151.5"/><circle cx="1229.8" cy="1151.9"/><circle cx="1229.8" cy="1152.4"/><circle cx="1229.8" cy="1152.3"/><circle cx="1259.2" cy="1153.1"/><circle cx="1229.8" cy="1152.5"/><circle cx="1229.8" cy="1152.6"/><circle cx="1205.3" cy="1126.6"/><circle cx="1294.9" cy="1129.8"/><circle cx="1339.3" cy="1131.1"/><circle cx="1294.9" cy="1130.4"/><circle cx="1259.2" cy="1129.0"/><circle cx="1205.3" cy="1127.3"/><circle cx="1294.9" cy="1130.5"/><circle cx="1294.9" cy="1105.5"/><circle cx="1166.7" cy="1100.8"/><circle cx="1259.2" cy="1104.7"/><circle cx="1259.2" cy="1104.4"/><circle cx="1166.7" cy="1100.9"/><circle cx="1259.2" cy="1072.4"/><circle cx="1205.3" cy="1043.2"/><circle cx="1339.3" cy="1074.7"/><circle cx="1294.9" cy="1052.9"/><circle cx="1229.8" cy="1071.7"/><circle cx="1229.8" cy="1072.0"/><circle cx="1166.7" cy="1068.3"/><circle cx="1294.9" cy="1023.2"/><circle cx="1205.3" cy="1088.5"/><circle cx="1259.2" cy="1066.4"/><circle cx="1257.9" cy="1154.9"/><circle cx="1293.5" cy="1155.5"/><circle cx="1293.5" cy="1155.6"/><circle cx="1228.7" cy="1153.7"/><circle cx="1204.3" cy="1152.7"/><circle cx="1467.5" cy="1158.6"/><circle cx="1228.7" cy="1153.4"/><circle cx="1183.6" cy="1151.6"/><circle cx="1257.9" cy="1154.6"/><circle cx="1293.5" cy="1131.3"/><circle cx="1165.8" cy="1126.4"/><circle cx="1393.9" cy="1133.9"/><circle cx="1228.7" cy="1129.6"/><circle cx="1165.8" cy="1126.6"/><circle cx="1183.6" cy="1127.4"/><circle cx="1293.5" cy="1107.5"/><circle cx="1228.7" cy="1105.3"/><circle cx="1165.8" cy="1101.7"/><circle cx="1293.5" cy="1107.2"/><circle cx="1257.9" cy="1105.9"/><circle cx="1257.9" cy="1074.0"/><circle cx="1293.5" cy="1082.5"/><circle cx="1293.5" cy="1092.8"/><circle cx="1257.9" cy="1092.0"/><circle cx="1183.6" cy="1078.5"/><circle cx="1257.9" cy="1043.3"/><circle cx="1204.3" cy="1080.2"/><circle cx="1393.9" cy="1084.8"/><circle cx="1204.3" cy="1065.7"/><circle cx="1204.3" cy="1065.8"/><circle cx="1292.2" cy="1157.4"/><circle cx="1203.3" cy="1154.4"/><circle cx="1392.1" cy="1159.5"/><circle cx="1203.3" cy="1153.9"/><circle cx="1227.6" cy="1154.9"/><circle cx="1182.6" cy="1152.9"/><circle cx="1392.1" cy="1159.6"/><circle cx="1256.7" cy="1156.4"/><circle cx="1292.2" cy="1157.3"/><circle cx="1149.7" cy="1126.4"/><circle cx="1256.7" cy="1131.9"/><circle cx="1336.1" cy="1134.0"/><circle cx="1336.1" cy="1133.9"/><circle cx="1203.3" cy="1129.8"/><circle cx="1227.6" cy="1130.5"/><circle cx="1256.7" cy="1107.8"/><circle cx="1182.6" cy="1104.4"/><circle cx="1292.2" cy="1108.5"/><circle cx="1203.3" cy="1105.1"/><circle cx="1292.2" cy="1108.8"/><circle cx="1182.6" cy="1080.0"/><circle cx="1336.1" cy="1056.6"/><circle cx="1292.2" cy="1065.0"/><circle cx="1256.7" cy="1093.4"/><circle cx="1203.3" cy="1067.2"/><circle cx="1256.7" cy="1075.4"/><circle cx="1165.0" cy="1079.1"/><circle cx="1256.7" cy="1048.2"/><circle cx="1256.7" cy="1075.7"/><circle cx="1227.6" cy="1050.0"/><circle cx="1203.3" cy="1091.1"/><circle cx="1255.5" cy="1157.2"/><circle cx="1164.1" cy="1153.2"/><circle cx="1255.5" cy="1157.5"/><circle cx="1202.3" cy="1155.3"/><circle cx="1202.3" cy="1155.6"/><circle cx="1255.5" cy="1157.7"/><circle cx="1255.5" cy="1157.9"/><circle cx="1255.5" cy="1157.3"/><circle cx="1181.7" cy="1154.4"/><circle cx="1334.6" cy="1135.8"/><circle cx="1255.5" cy="1133.4"/><circle cx="1290.8" cy="1134.2"/><circle cx="1226.5" cy="1131.9"/><circle cx="1290.8" cy="1134.2"/><circle cx="1226.5" cy="1132.0"/><circle cx="1255.5" cy="1108.7"/><circle cx="1390.4" cy="1111.9"/><circle cx="1334.6" cy="1111.4"/><circle cx="1226.5" cy="1108.0"/><circle cx="1290.8" cy="1110.4"/><circle cx="1226.5" cy="1094.0"/><circle cx="1226.5" cy="1075.6"/><circle cx="1334.6" cy="1086.8"/><circle cx="1290.8" cy="1071.4"/><circle cx="1334.6" cy="1086.6"/><circle cx="1202.3" cy="1075.2"/><circle cx="1290.8" cy="1085.5"/><circle cx="1255.5" cy="1077.2"/><circle cx="1255.5" cy="1094.7"/><circle cx="1290.8" cy="1061.1"/><circle cx="1255.5" cy="1056.2"/><circle cx="1255.5" cy="1094.8"/><circle cx="1225.4" cy="1157.7"/><circle cx="1333.2" cy="1161.1"/><circle cx="1225.4" cy="1157.6"/><circle cx="1225.4" cy="1157.5"/><circle cx="1225.4" cy="1158.0"/><circle cx="1201.3" cy="1156.7"/><circle cx="1254.3" cy="1158.9"/><circle cx="1225.4" cy="1157.7"/><circle cx="1254.3" cy="1158.7"/><circle cx="1225.4" cy="1133.3"/><circle cx="1254.3" cy="1135.0"/><circle cx="1180.9" cy="1131.8"/><circle cx="1289.5" cy="1136.1"/><circle cx="1254.3" cy="1134.7"/><circle cx="1201.3" cy="1132.8"/><circle cx="1289.5" cy="1135.5"/><circle cx="1254.3" cy="1110.7"/><circle cx="1225.4" cy="1109.5"/><circle cx="1333.2" cy="1112.8"/><circle cx="1289.5" cy="1111.3"/><circle cx="1333.2" cy="1112.9"/><circle cx="1225.4" cy="1029.8"/><circle cx="1225.4" cy="1095.4"/><circle cx="1289.5" cy="1062.8"/><circle cx="1254.3" cy="1078.1"/><circle cx="1201.3" cy="1094.3"/><circle cx="1254.3" cy="1078.1"/><circle cx="1225.4" cy="1049.7"/><circle cx="1148.1" cy="1061.2"/><circle cx="1254.3" cy="1085.9"/><circle cx="1254.3" cy="1078.5"/><circle cx="1180.9" cy="1082.7"/><circle cx="1388.7" cy="1099.1"/><circle cx="1388.7" cy="1099.1"/><circle cx="1180.0" cy="1157.3"/><circle cx="1224.4" cy="1159.4"/><circle cx="1224.4" cy="1159.6"/><circle cx="1288.2" cy="1161.7"/><circle cx="1331.7" cy="1162.4"/><circle cx="1122.6" cy="1154.2"/><circle cx="1180.0" cy="1157.4"/><circle cx="1331.7" cy="1162.8"/><circle cx="1288.2" cy="1161.7"/><circle cx="1253.2" cy="1136.4"/><circle cx="1180.0" cy="1132.9"/><circle cx="1224.4" cy="1135.2"/><circle cx="1224.4" cy="1134.9"/><circle cx="1200.4" cy="1134.2"/><circle cx="1162.5" cy="1131.9"/><circle cx="1331.7" cy="1137.8"/><circle cx="1180.0" cy="1108.9"/><circle cx="1331.7" cy="1113.9"/><circle cx="1253.2" cy="1111.7"/><circle cx="1224.4" cy="1110.9"/><circle cx="1224.4" cy="1110.7"/><circle cx="1253.2" cy="1087.8"/><circle cx="1224.4" cy="1086.9"/><circle cx="1180.0" cy="1076.9"/><circle cx="1253.2" cy="1067.6"/><circle cx="1288.2" cy="1081.0"/><circle cx="1224.4" cy="1025.8"/><circle cx="1224.4" cy="1086.1"/><circle cx="1253.2" cy="1087.2"/><circle cx="1224.4" cy="1072.7"/><circle cx="1253.2" cy="1059.2"/><circle cx="1253.2" cy="1022.2"/><circle cx="1224.4" cy="1066.8"/><circle cx="1200.4" cy="1066.0"/><circle cx="1253.2" cy="1087.2"/><circle cx="1179.1" cy="1158.6"/><circle cx="1223.4" cy="1161.0"/><circle cx="1385.4" cy="1165.1"/><circle cx="1252.1" cy="1161.4"/><circle cx="1252.1" cy="1161.7"/><circle cx="1287.0" cy="1162.8"/><circle cx="1223.4" cy="1160.4"/><circle cx="1287.0" cy="1162.7"/><circle cx="1287.0" cy="1163.0"/><circle cx="1252.1" cy="1137.4"/><circle cx="1252.1" cy="1137.5"/><circle cx="1223.4" cy="1136.5"/><circle cx="1223.4" cy="1136.4"/><circle cx="1161.7" cy="1133.4"/><circle cx="1252.1" cy="1137.3"/><circle cx="1287.0" cy="1138.3"/><circle cx="1330.3" cy="1115.3"/><circle cx="1252.1" cy="1113.4"/><circle cx="1287.0" cy="1113.8"/><circle cx="1252.1" cy="1113.0"/><circle cx="1252.1" cy="1113.2"/><circle cx="1223.4" cy="1068.5"/><circle cx="1330.3" cy="1076.8"/><circle cx="1252.1" cy="1075.1"/><circle cx="1223.4" cy="1073.4"/><circle cx="1146.7" cy="1093.7"/><circle cx="1179.1" cy="1071.5"/><circle cx="1161.7" cy="1070.3"/><circle cx="1287.0" cy="1082.4"/><circle cx="1223.4" cy="1073.7"/><circle cx="1457.6" cy="1085.3"/><circle cx="1223.4" cy="1088.2"/><circle cx="1161.7" cy="1076.8"/><circle cx="1179.1" cy="1085.4"/><circle cx="1330.3" cy="1043.2"/><circle cx="1178.3" cy="1159.8"/><circle cx="1285.8" cy="1164.1"/><circle cx="1383.8" cy="1166.6"/><circle cx="1251.0" cy="1163.0"/><circle cx="1285.8" cy="1164.6"/><circle cx="1383.8" cy="1166.5"/><circle cx="1285.8" cy="1163.9"/><circle cx="1222.4" cy="1161.8"/><circle cx="1222.4" cy="1161.9"/><circle cx="1285.8" cy="1139.7"/><circle cx="1251.0" cy="1138.8"/><circle cx="1251.0" cy="1138.9"/><circle cx="1198.5" cy="1136.5"/><circle cx="1328.9" cy="1140.7"/><circle cx="1251.0" cy="1139.3"/><circle cx="1178.3" cy="1111.5"/><circle cx="1251.0" cy="1114.8"/><circle cx="1328.9" cy="1116.7"/><circle cx="1251.0" cy="1114.5"/><circle cx="1222.4" cy="1113.8"/><circle cx="1328.9" cy="1084.6"/><circle cx="1198.5" cy="1068.8"/><circle cx="1285.8" cy="1077.6"/><circle cx="1251.0" cy="1065.7"/><circle cx="1285.8" cy="1042.6"/><circle cx="1285.8" cy="1072.0"/><circle cx="1251.0" cy="1082.2"/><circle cx="1328.9" cy="1078.2"/><circle cx="1161.0" cy="1066.5"/><circle cx="1132.9" cy="1059.4"/><circle cx="1328.9" cy="1038.4"/><circle cx="1251.0" cy="1066.2"/><circle cx="1285.8" cy="1091.7"/><circle cx="1328.9" cy="1063.8"/><circle cx="1285.8" cy="1071.8"/><circle cx="1221.4" cy="1163.2"/><circle cx="1382.3" cy="1167.9"/><circle cx="1284.6" cy="1165.7"/><circle cx="1132.2" cy="1157.9"/><circle cx="1197.6" cy="1162.3"/><circle cx="1197.6" cy="1162.2"/><circle cx="1284.6" cy="1165.5"/><circle cx="1132.2" cy="1158.6"/><circle cx="1249.9" cy="1164.7"/><circle cx="1249.9" cy="1140.6"/><circle cx="1284.6" cy="1141.2"/><circle cx="1249.9" cy="1140.7"/><circle cx="1197.6" cy="1138.4"/><circle cx="1382.3" cy="1143.4"/><circle cx="1221.4" cy="1139.2"/><circle cx="1382.3" cy="1119.0"/><circle cx="1249.9" cy="1116.4"/><circle cx="1249.9" cy="1116.4"/><circle cx="1249.9" cy="1115.9"/><circle cx="1284.6" cy="1117.2"/><circle cx="1382.3" cy="1080.6"/><circle cx="1101.4" cy="1077.2"/><circle cx="1284.6" cy="1068.6"/><circle cx="1132.2" cy="1085.6"/><circle cx="1327.6" cy="1069.7"/><circle cx="1132.2" cy="1053.4"/><circle cx="1284.6" cy="1093.2"/><circle cx="1160.2" cy="1097.3"/><circle cx="1327.6" cy="1094.3"/><circle cx="1177.5" cy="1080.8"/><circle cx="1327.6" cy="1086.5"/><circle cx="1327.6" cy="1069.2"/><circle cx="1249.9" cy="1063.5"/><circle cx="1249.9" cy="1091.5"/><circle cx="1327.6" cy="1074.0"/><circle cx="1249.9" cy="1052.3"/><circle cx="1283.4" cy="1166.8"/><circle cx="1283.4" cy="1167.1"/><circle cx="1326.2" cy="1167.7"/><circle cx="1196.8" cy="1164.0"/><circle cx="1100.8" cy="1159.1"/><circle cx="1283.4" cy="1167.4"/><circle cx="1220.5" cy="1164.8"/><circle cx="1283.4" cy="1167.4"/><circle cx="1283.4" cy="1166.7"/><circle cx="1220.5" cy="1140.5"/><circle cx="1283.4" cy="1142.4"/><circle cx="1248.8" cy="1141.4"/><circle cx="1248.8" cy="1141.6"/><circle cx="1196.8" cy="1139.2"/><circle cx="1220.5" cy="1140.3"/><circle cx="1283.4" cy="1118.7"/><circle cx="1283.4" cy="1118.2"/><circle cx="1283.4" cy="1118.7"/><circle cx="1326.2" cy="1119.4"/><circle cx="1176.7" cy="1114.4"/><circle cx="1248.8" cy="1068.9"/><circle cx="1220.5" cy="1077.6"/><circle cx="1220.5" cy="1063.8"/><circle cx="1248.8" cy="1092.8"/><circle cx="1248.8" cy="1068.8"/><circle cx="1144.6" cy="1087.7"/><circle cx="1159.5" cy="1075.2"/><circle cx="1380.8" cy="1071.9"/><circle cx="1380.8" cy="1096.5"/><circle cx="1196.8" cy="1076.8"/><circle cx="1176.7" cy="1042.7"/><circle cx="1283.4" cy="1094.2"/><circle cx="1326.2" cy="1081.0"/><circle cx="1248.8" cy="1033.1"/><circle cx="1248.8" cy="1085.3"/><circle cx="1144.6" cy="1087.6"/><circle cx="1283.4" cy="1065.6"/><circle cx="1195.9" cy="1165.0"/><circle cx="1247.8" cy="1167.2"/><circle cx="1219.5" cy="1166.2"/><circle cx="1282.2" cy="1168.2"/><circle cx="1175.9" cy="1164.2"/><circle cx="1195.9" cy="1165.4"/><circle cx="1247.8" cy="1167.2"/><circle cx="1282.2" cy="1168.2"/><circle cx="1195.9" cy="1165.5"/><circle cx="1175.9" cy="1140.0"/><circle cx="1379.3" cy="1146.0"/><circle cx="1324.9" cy="1145.3"/><circle cx="1175.9" cy="1139.8"/><circle cx="1219.5" cy="1142.5"/><circle cx="1282.2" cy="1144.5"/><circle cx="1130.9" cy="1137.1"/><circle cx="1219.5" cy="1117.6"/><circle cx="1219.5" cy="1117.8"/><circle cx="1175.9" cy="1115.6"/><circle cx="1379.3" cy="1121.7"/><circle cx="1450.5" cy="1122.6"/><circle cx="1195.9" cy="1092.6"/><circle cx="1219.5" cy="1103.3"/><circle cx="1247.8" cy="1070.3"/><circle cx="1282.2" cy="1095.4"/><circle cx="1219.5" cy="1065.0"/><circle cx="1195.9" cy="1092.2"/><circle cx="1247.8" cy="1086.6"/><circle cx="1175.9" cy="1055.8"/><circle cx="1450.5" cy="1099.1"/><circle cx="1195.9" cy="1102.8"/><circle cx="1219.5" cy="1093.3"/><circle cx="1247.8" cy="1094.8"/><circle cx="1247.8" cy="1086.9"/><circle cx="1175.9" cy="1062.8"/><circle cx="1379.3" cy="1065.8"/><circle cx="1324.9" cy="1024.3"/><circle cx="1282.2" cy="1095.3"/><circle cx="1195.9" cy="1092.7"/><circle cx="1246.8" cy="1168.6"/><circle cx="1246.8" cy="1169.0"/><circle cx="1323.7" cy="1170.6"/><circle cx="1281.1" cy="1170.1"/><circle cx="1246.8" cy="1168.4"/><circle cx="1281.1" cy="1170.0"/><circle cx="1281.1" cy="1169.9"/><circle cx="1175.2" cy="1165.6"/><circle cx="1246.8" cy="1169.0"/><circle cx="1246.8" cy="1144.3"/><circle cx="1175.2" cy="1141.1"/><circle cx="1281.1" cy="1145.2"/><circle cx="1281.1" cy="1145.7"/><circle cx="1246.8" cy="1144.9"/><circle cx="1246.8" cy="1144.2"/><circle cx="1323.7" cy="1146.2"/><circle cx="1281.1" cy="1121.3"/><circle cx="1323.7" cy="1122.5"/><circle cx="1218.6" cy="1119.4"/><circle cx="1218.6" cy="1119.4"/><circle cx="1218.6" cy="1119.0"/><circle cx="1323.7" cy="1098.1"/><circle cx="1323.7" cy="1074.2"/><circle cx="1218.6" cy="1080.6"/><circle cx="1218.6" cy="1105.3"/><circle cx="1175.2" cy="1078.7"/><circle cx="1323.7" cy="1078.2"/><circle cx="1323.7" cy="1078.7"/><circle cx="1281.1" cy="1055.1"/><circle cx="1246.8" cy="1081.9"/><circle cx="1246.8" cy="1038.3"/><circle cx="1175.2" cy="1102.9"/><circle cx="1323.7" cy="1083.9"/><circle cx="1448.8" cy="1085.9"/><circle cx="1281.1" cy="1082.7"/><circle cx="1175.2" cy="1060.8"/><circle cx="1175.2" cy="1092.7"/><circle cx="1281.1" cy="1041.3"/><circle cx="1158.1" cy="1049.6"/><circle cx="1323.7" cy="1078.8"/><circle cx="1280.0" cy="1171.3"/><circle cx="1245.8" cy="1170.6"/><circle cx="1280.0" cy="1171.0"/><circle cx="1217.7" cy="1169.1"/><circle cx="1376.4" cy="1173.2"/><circle cx="1322.4" cy="1172.6"/><circle cx="1280.0" cy="1170.9"/><circle cx="1280.0" cy="1171.4"/><circle cx="1322.4" cy="1172.4"/><circle cx="1280.0" cy="1147.1"/><circle cx="1322.4" cy="1148.3"/><circle cx="1322.4" cy="1147.8"/><circle cx="1194.3" cy="1143.9"/><circle cx="1245.8" cy="1146.0"/><circle cx="1217.7" cy="1145.1"/><circle cx="1217.7" cy="1120.8"/><circle cx="1099.3" cy="1115.2"/><circle cx="1447.1" cy="1125.9"/><circle cx="1194.3" cy="1119.9"/><circle cx="1245.8" cy="1121.6"/><circle cx="1322.4" cy="1037.4"/><circle cx="1376.4" cy="1081.2"/><circle cx="1245.8" cy="1069.2"/><circle cx="1129.7" cy="1066.7"/><circle cx="1322.4" cy="1071.5"/><circle cx="1194.3" cy="1075.4"/><circle cx="1194.3" cy="1054.5"/><circle cx="1376.4" cy="1072.4"/><circle cx="1280.0" cy="1058.7"/><circle cx="1245.8" cy="1082.8"/><circle cx="1322.4" cy="1091.9"/><circle cx="1245.8" cy="1059.0"/><circle cx="1322.4" cy="1079.8"/><circle cx="1245.8" cy="1065.6"/><circle cx="1194.3" cy="1075.9"/><circle cx="1280.0" cy="1066.7"/><circle cx="1118.4" cy="1091.0"/><circle cx="1322.4" cy="1091.8"/><circle cx="1244.9" cy="1172.0"/><circle cx="1244.9" cy="1171.6"/><circle cx="1173.7" cy="1168.2"/><circle cx="1216.9" cy="1170.3"/><circle cx="1278.9" cy="1172.4"/><circle cx="1216.9" cy="1170.3"/><circle cx="1173.7" cy="1168.3"/><circle cx="1173.7" cy="1168.9"/><circle cx="1156.7" cy="1167.4"/><circle cx="1278.9" cy="1148.6"/><circle cx="1244.9" cy="1147.5"/><circle cx="1445.5" cy="1151.7"/><circle cx="1321.2" cy="1149.0"/><circle cx="1321.2" cy="1149.3"/><circle cx="1216.9" cy="1145.9"/><circle cx="1216.9" cy="1121.9"/><circle cx="1173.7" cy="1119.7"/><circle cx="1244.9" cy="1122.7"/><circle cx="1244.9" cy="1123.2"/><circle cx="1278.9" cy="1124.0"/><circle cx="1244.9" cy="1090.7"/><circle cx="1244.9" cy="1063.4"/><circle cx="1321.2" cy="1053.5"/><circle cx="1278.9" cy="1110.0"/><circle cx="1244.9" cy="1074.6"/><circle cx="1193.5" cy="1082.6"/><circle cx="1278.9" cy="1086.1"/><circle cx="1244.9" cy="1108.9"/><circle cx="1244.9" cy="1054.5"/><circle cx="1321.2" cy="1101.3"/><circle cx="1375.0" cy="1054.9"/><circle cx="1216.9" cy="1097.7"/><circle cx="1375.0" cy="1094.2"/><circle cx="1244.9" cy="1060.5"/><circle cx="1278.9" cy="1099.5"/><circle cx="1375.0" cy="1102.0"/><circle cx="1117.8" cy="1092.4"/><circle cx="1278.9" cy="1109.9"/><circle cx="1216.9" cy="1090.0"/><circle cx="1193.5" cy="1061.6"/><circle cx="1216.0" cy="1171.6"/><circle cx="1243.9" cy="1172.8"/><circle cx="1216.0" cy="1171.7"/><circle cx="1243.9" cy="1173.3"/><circle cx="1243.9" cy="1172.9"/><circle cx="1320.0" cy="1175.1"/><circle cx="1243.9" cy="1173.1"/><circle cx="1243.9" cy="1173.2"/><circle cx="1277.9" cy="1173.7"/><circle cx="1243.9" cy="1149.2"/><circle cx="1277.9" cy="1149.6"/><circle cx="1243.9" cy="1148.6"/><circle cx="1173.0" cy="1145.5"/><circle cx="1156.0" cy="1144.3"/><circle cx="1277.9" cy="1149.7"/><circle cx="1216.0" cy="1123.1"/><circle cx="1216.0" cy="1123.1"/><circle cx="1243.9" cy="1124.3"/><circle cx="1277.9" cy="1125.7"/><circle cx="1320.0" cy="1126.9"/><circle cx="1277.9" cy="1032.6"/><circle cx="1243.9" cy="1110.2"/><circle cx="1243.9" cy="1110.1"/><circle cx="1243.9" cy="1100.6"/><circle cx="1243.9" cy="1092.5"/><circle cx="1320.0" cy="1070.5"/><circle cx="1192.7" cy="1090.0"/><circle cx="1277.9" cy="1081.5"/><circle cx="1277.9" cy="1081.3"/><circle cx="1156.0" cy="1029.5"/><circle cx="1277.9" cy="1111.0"/><circle cx="1320.0" cy="1062.5"/><circle cx="1243.9" cy="1068.1"/><circle cx="1141.4" cy="1075.5"/><circle cx="1277.9" cy="1068.9"/><circle cx="1277.9" cy="1093.8"/><circle cx="1192.7" cy="1073.8"/><circle cx="1216.0" cy="1044.0"/><circle cx="1243.9" cy="1110.5"/><circle cx="1320.0" cy="1073.7"/><circle cx="1243.9" cy="1092.1"/><circle cx="1155.4" cy="1169.9"/><circle cx="1243.0" cy="1174.1"/><circle cx="1191.9" cy="1172.2"/><circle cx="1243.0" cy="1174.3"/><circle cx="1243.0" cy="1174.2"/><circle cx="1276.8" cy="1175.6"/><circle cx="1276.8" cy="1175.9"/><circle cx="1215.2" cy="1173.3"/><circle cx="1276.8" cy="1175.2"/><circle cx="1215.2" cy="1149.1"/><circle cx="1276.8" cy="1151.1"/><circle cx="1276.8" cy="1151.2"/><circle cx="1191.9" cy="1148.1"/><circle cx="1191.9" cy="1147.8"/><circle cx="1243.0" cy="1150.3"/><circle cx="1243.0" cy="1126.3"/><circle cx="1191.9" cy="1124.0"/><circle cx="1318.8" cy="1128.3"/><circle cx="1276.8" cy="1127.1"/><circle cx="1215.2" cy="1125.0"/><circle cx="1243.0" cy="1087.6"/><circle cx="1276.8" cy="1067.1"/><circle cx="1276.8" cy="1078.2"/><circle cx="1215.2" cy="1076.7"/><circle cx="1318.8" cy="1079.3"/><circle cx="1243.0" cy="1069.8"/><circle cx="1243.0" cy="1111.3"/><circle cx="1318.8" cy="1089.3"/><circle cx="1191.9" cy="1099.4"/><circle cx="1318.8" cy="1079.3"/><circle cx="1276.8" cy="1083.1"/><circle cx="1243.0" cy="1051.6"/><circle cx="1243.0" cy="1081.6"/><circle cx="1215.2" cy="1040.8"/><circle cx="1215.2" cy="1100.5"/><circle cx="1243.0" cy="1073.5"/><circle cx="1215.2" cy="1100.2"/><circle cx="1318.8" cy="1089.2"/><circle cx="1215.2" cy="1072.6"/><circle cx="1243.0" cy="1087.7"/><circle cx="1215.2" cy="1086.1"/><circle cx="1243.0" cy="1102.0"/><circle cx="1370.9" cy="1178.8"/><circle cx="1191.2" cy="1173.9"/><circle cx="1242.1" cy="1175.8"/><circle cx="1275.8" cy="1177.0"/><circle cx="1275.8" cy="1177.1"/><circle cx="1214.3" cy="1174.8"/><circle cx="1317.7" cy="1178.3"/><circle cx="1214.3" cy="1174.8"/><circle cx="1191.2" cy="1173.6"/><circle cx="1275.8" cy="1152.6"/><circle cx="1242.1" cy="1151.4"/><circle cx="1275.8" cy="1152.2"/><circle cx="1154.7" cy="1147.0"/><circle cx="1275.8" cy="1152.9"/><circle cx="1242.1" cy="1151.4"/><circle cx="1370.9" cy="1130.7"/><circle cx="1154.7" cy="1123.1"/><circle cx="1317.7" cy="1129.4"/><circle cx="1191.2" cy="1124.9"/><circle cx="1317.7" cy="1129.2"/><circle cx="1370.9" cy="1092.3"/><circle cx="1127.5" cy="1072.7"/><circle cx="1242.1" cy="1078.7"/><circle cx="1242.1" cy="1078.9"/><circle cx="1214.3" cy="1082.4"/><circle cx="1191.2" cy="1101.0"/><circle cx="1191.2" cy="1111.0"/><circle cx="1317.7" cy="1097.3"/><circle cx="1191.2" cy="1101.4"/><circle cx="1317.7" cy="1072.7"/><circle cx="1242.1" cy="1095.0"/><circle cx="1370.9" cy="1031.1"/><circle cx="1214.3" cy="1051.3"/><circle cx="1317.7" cy="1105.3"/><circle cx="1317.7" cy="1105.4"/><circle cx="1214.3" cy="1112.3"/><circle cx="1214.3" cy="1087.6"/><circle cx="1370.9" cy="1081.6"/><circle cx="1275.8" cy="1072.3"/><circle cx="1171.6" cy="1100.1"/><circle cx="1275.8" cy="1113.9"/><circle cx="1275.8" cy="1037.8"/><circle cx="1171.6" cy="1099.7"/><circle cx="1316.6" cy="1179.7"/><circle cx="1316.6" cy="1179.6"/><circle cx="1241.2" cy="1177.4"/><circle cx="1154.1" cy="1173.4"/><circle cx="1241.2" cy="1177.2"/><circle cx="1190.4" cy="1175.2"/><circle cx="1213.5" cy="1176.5"/><circle cx="1274.8" cy="1178.0"/><circle cx="1369.6" cy="1180.4"/><circle cx="1170.9" cy="1150.1"/><circle cx="1097.0" cy="1146.5"/><circle cx="1316.6" cy="1154.8"/><circle cx="1241.2" cy="1152.6"/><circle cx="1316.6" cy="1154.8"/><circle cx="1369.6" cy="1132.2"/><circle cx="1190.4" cy="1126.3"/><circle cx="1213.5" cy="1127.6"/><circle cx="1241.2" cy="1128.9"/><circle cx="1274.8" cy="1130.1"/><circle cx="1170.9" cy="1069.4"/><circle cx="1213.5" cy="1103.7"/><circle cx="1213.5" cy="1067.8"/><circle cx="1241.2" cy="1075.8"/><circle cx="1274.8" cy="1081.0"/><circle cx="1241.2" cy="1114.4"/><circle cx="1274.8" cy="1077.2"/><circle cx="1316.6" cy="1071.6"/><circle cx="1316.6" cy="1116.8"/><circle cx="1213.5" cy="1095.3"/><circle cx="1316.6" cy="1106.3"/><circle cx="1170.9" cy="1093.6"/><circle cx="1274.8" cy="1064.9"/><circle cx="1213.5" cy="1095.7"/><circle cx="1241.2" cy="1043.3"/><circle cx="1154.1" cy="1037.7"/><circle cx="1213.5" cy="1103.3"/><circle cx="1274.8" cy="1073.8"/><circle cx="1213.5" cy="1071.5"/><circle cx="1154.1" cy="1068.2"/><circle cx="1213.5" cy="1103.1"/><circle cx="1189.7" cy="1176.6"/><circle cx="1212.7" cy="1177.4"/><circle cx="1212.7" cy="1177.9"/><circle cx="1139.0" cy="1173.8"/><circle cx="1273.8" cy="1180.1"/><circle cx="1212.7" cy="1177.7"/><circle cx="1139.0" cy="1173.7"/><circle cx="1315.4" cy="1181.2"/><circle cx="1189.7" cy="1152.4"/><circle cx="1240.3" cy="1154.6"/><circle cx="1273.8" cy="1155.3"/><circle cx="1437.8" cy="1158.6"/><circle cx="1153.5" cy="1150.4"/><circle cx="1240.3" cy="1154.3"/><circle cx="1315.4" cy="1132.0"/><circle cx="1437.8" cy="1134.6"/><circle cx="1240.3" cy="1130.5"/><circle cx="1368.4" cy="1133.0"/><circle cx="1189.7" cy="1128.0"/><circle cx="1273.8" cy="1082.5"/><circle cx="1315.4" cy="1100.6"/><circle cx="1189.7" cy="1075.5"/><circle cx="1273.8" cy="1087.4"/><circle cx="1212.7" cy="1028.4"/><circle cx="1368.4" cy="1084.4"/><circle cx="1273.8" cy="1093.2"/><circle cx="1273.8" cy="1083.0"/><circle cx="1273.8" cy="1078.5"/><circle cx="1240.3" cy="1106.2"/><circle cx="1170.2" cy="1088.6"/><circle cx="1240.3" cy="1091.4"/><circle cx="1212.7" cy="1115.2"/><circle cx="1240.3" cy="1058.5"/><circle cx="1170.2" cy="1095.1"/><circle cx="1273.8" cy="1028.2"/><circle cx="1240.3" cy="1077.3"/><circle cx="1212.7" cy="1104.4"/><circle cx="1315.4" cy="1079.4"/><circle cx="1240.3" cy="1081.4"/><circle cx="1240.3" cy="1022.6"/><circle cx="1189.7" cy="1089.4"/><circle cx="1212.7" cy="1114.6"/><circle cx="1272.8" cy="1181.0"/><circle cx="1152.9" cy="1175.8"/><circle cx="1314.3" cy="1182.2"/><circle cx="1239.4" cy="1180.3"/><circle cx="1211.9" cy="1179.0"/><circle cx="1239.4" cy="1180.0"/><circle cx="1314.3" cy="1181.8"/><circle cx="1272.8" cy="1181.3"/><circle cx="1239.4" cy="1155.4"/><circle cx="1189.0" cy="1153.5"/><circle cx="1138.5" cy="1150.4"/><circle cx="1314.3" cy="1157.9"/><circle cx="1239.4" cy="1155.8"/><circle cx="1125.9" cy="1125.1"/><circle cx="1189.0" cy="1129.9"/><circle cx="1239.4" cy="1131.6"/><circle cx="1272.8" cy="1132.3"/><circle cx="1272.8" cy="1070.3"/><circle cx="1152.9" cy="1113.1"/><circle cx="1239.4" cy="1083.0"/><circle cx="1169.6" cy="1065.4"/><circle cx="1272.8" cy="1072.7"/><circle cx="1211.9" cy="1106.2"/><circle cx="1239.4" cy="1093.0"/><circle cx="1272.8" cy="1080.1"/><circle cx="1125.9" cy="1065.8"/><circle cx="1314.3" cy="1095.1"/><circle cx="1272.8" cy="1108.2"/><circle cx="1211.9" cy="1105.9"/><circle cx="1272.8" cy="1070.1"/><circle cx="1211.9" cy="1092.0"/><circle cx="1314.3" cy="1119.8"/><circle cx="1272.8" cy="1118.7"/><circle cx="1189.0" cy="1080.7"/><circle cx="1239.4" cy="1106.9"/><circle cx="1239.4" cy="1079.1"/><circle cx="1211.9" cy="1116.1"/><circle cx="1211.9" cy="1116.5"/><circle cx="1239.4" cy="1117.4"/><circle cx="1211.9" cy="1106.2"/><circle cx="1211.9" cy="1092.0"/><circle cx="1138.5" cy="1066.9"/><circle cx="1238.6" cy="1181.8"/><circle cx="1271.9" cy="1182.8"/><circle cx="1271.9" cy="1182.7"/><circle cx="1313.3" cy="1183.4"/><circle cx="1211.2" cy="1180.7"/><circle cx="1313.3" cy="1183.8"/><circle cx="1211.2" cy="1180.8"/><circle cx="1211.2" cy="1180.1"/><circle cx="1271.9" cy="1158.2"/><circle cx="1188.3" cy="1155.4"/><circle cx="1365.9" cy="1160.5"/><circle cx="1238.6" cy="1157.6"/><circle cx="1188.3" cy="1155.5"/><circle cx="1211.2" cy="1156.4"/><circle cx="1271.9" cy="1134.1"/><circle cx="1271.9" cy="1133.9"/><circle cx="1238.6" cy="1133.1"/><circle cx="1313.3" cy="1135.0"/><circle cx="1188.3" cy="1130.6"/><circle cx="1211.2" cy="1100.2"/><circle cx="1211.2" cy="1099.5"/><circle cx="1152.3" cy="1024.4"/><circle cx="1365.9" cy="1079.6"/><circle cx="1313.3" cy="1096.7"/><circle cx="1238.6" cy="1109.0"/><circle cx="1271.9" cy="1109.8"/><circle cx="1211.2" cy="1088.5"/><circle cx="1188.3" cy="1067.5"/><circle cx="1365.9" cy="1104.3"/><circle cx="1238.6" cy="1101.1"/><circle cx="1313.3" cy="1053.4"/><circle cx="1271.9" cy="1110.1"/><circle cx="1271.9" cy="1102.0"/><circle cx="1188.3" cy="1082.4"/><circle cx="1211.2" cy="1107.9"/><circle cx="1271.9" cy="1074.5"/><circle cx="1238.6" cy="1101.0"/><circle cx="1188.3" cy="1087.0"/><circle cx="1188.3" cy="1078.0"/><circle cx="1211.2" cy="1088.3"/><circle cx="1271.9" cy="1048.8"/><circle cx="1365.9" cy="1046.9"/><circle cx="1313.3" cy="1102.9"/><circle cx="1210.4" cy="1182.1"/><circle cx="1168.3" cy="1179.4"/><circle cx="1237.7" cy="1182.5"/><circle cx="1237.7" cy="1183.3"/><circle cx="1364.7" cy="1186.4"/><circle cx="1137.4" cy="1177.9"/><circle cx="1168.3" cy="1179.6"/><circle cx="1168.3" cy="1179.6"/><circle cx="1187.6" cy="1156.9"/><circle cx="1271.0" cy="1159.8"/><circle cx="1187.6" cy="1156.6"/><circle cx="1312.2" cy="1161.1"/><circle cx="1312.2" cy="1160.8"/><circle cx="1237.7" cy="1159.1"/><circle cx="1237.7" cy="1134.6"/><circle cx="1237.7" cy="1134.0"/><circle cx="1312.2" cy="1136.8"/><circle cx="1271.0" cy="1135.4"/><circle cx="1210.4" cy="1118.8"/><circle cx="1237.7" cy="1110.0"/><circle cx="1237.7" cy="1102.4"/><circle cx="1210.4" cy="1108.7"/><circle cx="1271.0" cy="1111.3"/><circle cx="1312.2" cy="1098.0"/><circle cx="1271.0" cy="1111.0"/><circle cx="1364.7" cy="1113.5"/><circle cx="1271.0" cy="1091.7"/><circle cx="1237.7" cy="1120.2"/><circle cx="1312.2" cy="1092.6"/><circle cx="1237.7" cy="1109.8"/><circle cx="1187.6" cy="1093.6"/><circle cx="1271.0" cy="1111.2"/><circle cx="1237.7" cy="1050.4"/><circle cx="1210.4" cy="1015.2"/><circle cx="1271.0" cy="1086.5"/><circle cx="1271.0" cy="1096.6"/><circle cx="1312.2" cy="1092.3"/><circle cx="1312.2" cy="1088.1"/><circle cx="1187.6" cy="1056.7"/><circle cx="1237.7" cy="1060.1"/><circle cx="1237.7" cy="1081.8"/><circle cx="1237.7" cy="1085.5"/><circle cx="1237.7" cy="1086.1"/><circle cx="1209.7" cy="1183.2"/><circle cx="1236.9" cy="1184.3"/><circle cx="1209.7" cy="1183.5"/><circle cx="1236.9" cy="1184.0"/><circle cx="1167.7" cy="1181.0"/><circle cx="1432.1" cy="1188.6"/><circle cx="1363.5" cy="1187.1"/><circle cx="1209.7" cy="1183.1"/><circle cx="1311.2" cy="1162.1"/><circle cx="1186.9" cy="1158.2"/><circle cx="1209.7" cy="1159.3"/><circle cx="1270.0" cy="1161.1"/><circle cx="1363.5" cy="1163.3"/><circle cx="1236.9" cy="1135.5"/><circle cx="1186.9" cy="1133.9"/><circle cx="1167.7" cy="1132.6"/><circle cx="1186.9" cy="1134.0"/><circle cx="1167.7" cy="1094.5"/><circle cx="1209.7" cy="1110.5"/><circle cx="1311.2" cy="1094.0"/><circle cx="1270.0" cy="1080.5"/><circle cx="1186.9" cy="1119.7"/><circle cx="1209.7" cy="1110.1"/><circle cx="1209.7" cy="1063.7"/><circle cx="1209.7" cy="1102.4"/><circle cx="1236.9" cy="1111.9"/><circle cx="1311.2" cy="1085.6"/><circle cx="1167.7" cy="1080.4"/><circle cx="1270.0" cy="1084.6"/><circle cx="1236.9" cy="1121.7"/><circle cx="1236.9" cy="1111.3"/><circle cx="1236.9" cy="1121.7"/><circle cx="1311.2" cy="1105.8"/><circle cx="1236.9" cy="1121.8"/><circle cx="1311.2" cy="1113.6"/><circle cx="1209.7" cy="1071.7"/><circle cx="1236.9" cy="1083.1"/><circle cx="1209.7" cy="1120.6"/><circle cx="1363.5" cy="1100.3"/><circle cx="1167.7" cy="1046.9"/><circle cx="1270.0" cy="1083.8"/><circle cx="1363.5" cy="1021.4"/><circle cx="1236.1" cy="1185.9"/><circle cx="1208.9" cy="1184.3"/><circle cx="1310.2" cy="1187.8"/><circle cx="1310.2" cy="1187.6"/><circle cx="1310.2" cy="1188.0"/><circle cx="1269.1" cy="1186.6"/><circle cx="1269.1" cy="1186.5"/><circle cx="1186.3" cy="1184.0"/><circle cx="1167.0" cy="1158.1"/><circle cx="1208.9" cy="1160.6"/><circle cx="1269.1" cy="1162.7"/><circle cx="1112.9" cy="1154.7"/><circle cx="1310.2" cy="1163.8"/><circle cx="1236.1" cy="1137.4"/><circle cx="1310.2" cy="1139.5"/><circle cx="1269.1" cy="1138.5"/><circle cx="1269.1" cy="1138.2"/><circle cx="1310.2" cy="1107.6"/><circle cx="1208.9" cy="1112.0"/><circle cx="1236.1" cy="1047.3"/><circle cx="1269.1" cy="1078.6"/><circle cx="1186.3" cy="1082.5"/><circle cx="1310.2" cy="1107.4"/><circle cx="1150.6" cy="1109.1"/><circle cx="1269.1" cy="1105.8"/><circle cx="1186.3" cy="1086.9"/><circle cx="1186.3" cy="1120.8"/><circle cx="1310.2" cy="1095.5"/><circle cx="1186.3" cy="1072.8"/><circle cx="1208.9" cy="1098.0"/><circle cx="1236.1" cy="1084.3"/><circle cx="1269.1" cy="1106.5"/><circle cx="1208.9" cy="1092.0"/><circle cx="1236.1" cy="1098.9"/><circle cx="1269.1" cy="1085.8"/><circle cx="1236.1" cy="1113.2"/><circle cx="1269.1" cy="1114.3"/><circle cx="1269.1" cy="1094.1"/><circle cx="1269.1" cy="1075.3"/><circle cx="1236.1" cy="1112.6"/><circle cx="1310.2" cy="1125.1"/><circle cx="1185.6" cy="1184.7"/><circle cx="1268.3" cy="1188.4"/><circle cx="1185.6" cy="1185.1"/><circle cx="1166.4" cy="1183.8"/><circle cx="1268.3" cy="1187.8"/><circle cx="1361.2" cy="1189.9"/><circle cx="1166.4" cy="1183.9"/><circle cx="1268.3" cy="1164.3"/><circle cx="1235.3" cy="1163.2"/><circle cx="1185.6" cy="1160.8"/><circle cx="1166.4" cy="1159.9"/><circle cx="1235.3" cy="1162.9"/><circle cx="1361.2" cy="1166.4"/><circle cx="1309.2" cy="1140.4"/><circle cx="1185.6" cy="1136.7"/><circle cx="1235.3" cy="1138.4"/><circle cx="1309.2" cy="1140.6"/><circle cx="1235.3" cy="1052.0"/><circle cx="1268.3" cy="1024.7"/><circle cx="1309.2" cy="1116.5"/><circle cx="1235.3" cy="1074.3"/><circle cx="1166.4" cy="1075.5"/><circle cx="1268.3" cy="1107.3"/><circle cx="1235.3" cy="1106.9"/><circle cx="1268.3" cy="1053.7"/><circle cx="1309.2" cy="1116.1"/><circle cx="1166.4" cy="1110.9"/><circle cx="1309.2" cy="1084.7"/><circle cx="1235.3" cy="1090.2"/><circle cx="1185.6" cy="1112.1"/><circle cx="1268.3" cy="1125.6"/><circle cx="1208.2" cy="1071.8"/><circle cx="1268.3" cy="1125.4"/><circle cx="1268.3" cy="1115.0"/><circle cx="1208.2" cy="1113.6"/><circle cx="1268.3" cy="1090.8"/><circle cx="1208.2" cy="1068.1"/><circle cx="1208.2" cy="1089.1"/><circle cx="1309.2" cy="1091.8"/><circle cx="1268.3" cy="1107.4"/><circle cx="1267.4" cy="1189.7"/><circle cx="1234.5" cy="1188.8"/><circle cx="1165.8" cy="1185.8"/><circle cx="1207.5" cy="1187.2"/><circle cx="1207.5" cy="1187.9"/><circle cx="1267.4" cy="1190.0"/><circle cx="1185.0" cy="1186.3"/><circle cx="1308.2" cy="1166.1"/><circle cx="1267.4" cy="1165.2"/><circle cx="1135.3" cy="1159.2"/><circle cx="1207.5" cy="1163.6"/><circle cx="1360.1" cy="1167.5"/><circle cx="1207.5" cy="1138.9"/><circle cx="1267.4" cy="1141.4"/><circle cx="1234.5" cy="1139.7"/><circle cx="1207.5" cy="1138.7"/><circle cx="1234.5" cy="1139.7"/><circle cx="1165.8" cy="1104.5"/><circle cx="1267.4" cy="1109.1"/><circle cx="1207.5" cy="1090.5"/><circle cx="1308.2" cy="1089.8"/><circle cx="1428.1" cy="1081.8"/><circle cx="1185.0" cy="1105.8"/><circle cx="1267.4" cy="1127.1"/><circle cx="1360.1" cy="1118.6"/><circle cx="1267.4" cy="1109.4"/><circle cx="1165.8" cy="1080.3"/><circle cx="1234.5" cy="1077.4"/><circle cx="1267.4" cy="1033.5"/><circle cx="1360.1" cy="1111.2"/><circle cx="1135.3" cy="1053.8"/><circle cx="1308.2" cy="1127.8"/><circle cx="1207.5" cy="1086.0"/><circle cx="1185.0" cy="1094.2"/><circle cx="1308.2" cy="1074.4"/><circle cx="1185.0" cy="1077.9"/><circle cx="1234.5" cy="1125.9"/><circle cx="1207.5" cy="1079.2"/><circle cx="1360.1" cy="1045.0"/><circle cx="1267.4" cy="1108.6"/><circle cx="1206.8" cy="1188.5"/><circle cx="1307.2" cy="1192.1"/><circle cx="1307.2" cy="1192.4"/><circle cx="1266.5" cy="1190.6"/><circle cx="1184.3" cy="1188.3"/><circle cx="1165.3" cy="1186.8"/><circle cx="1426.8" cy="1194.1"/><circle cx="1266.5" cy="1190.9"/><circle cx="1307.2" cy="1168.0"/><circle cx="1233.7" cy="1165.5"/><circle cx="1307.2" cy="1167.5"/><circle cx="1266.5" cy="1167.2"/><circle cx="1122.4" cy="1159.5"/><circle cx="1233.7" cy="1141.2"/><circle cx="1266.5" cy="1142.7"/><circle cx="1233.7" cy="1141.3"/><circle cx="1233.7" cy="1141.3"/><circle cx="1206.8" cy="1140.7"/><circle cx="1307.2" cy="1099.8"/><circle cx="1266.5" cy="1098.4"/><circle cx="1266.5" cy="1019.2"/><circle cx="1266.5" cy="1118.4"/><circle cx="1233.7" cy="1063.7"/><circle cx="1184.3" cy="1090.6"/><circle cx="1266.5" cy="1065.3"/><circle cx="1206.8" cy="1096.7"/><circle cx="1206.8" cy="1080.4"/><circle cx="1148.9" cy="1123.3"/><circle cx="1206.8" cy="1108.2"/><circle cx="1307.2" cy="1091.1"/><circle cx="1233.7" cy="1089.0"/><circle cx="1184.3" cy="1107.5"/><circle cx="1307.2" cy="1042.2"/><circle cx="1307.2" cy="1104.8"/><circle cx="1266.5" cy="1053.9"/><circle cx="1233.7" cy="1058.6"/><circle cx="1233.7" cy="1069.5"/><circle cx="1233.7" cy="1070.8"/><circle cx="1307.2" cy="1105.3"/><circle cx="1233.7" cy="1092.6"/><circle cx="1148.9" cy="1123.1"/><circle cx="1134.3" cy="1186.1"/><circle cx="1183.7" cy="1189.0"/><circle cx="1306.3" cy="1193.4"/><circle cx="1183.7" cy="1189.0"/><circle cx="1357.9" cy="1194.5"/><circle cx="1233.0" cy="1191.0"/><circle cx="1265.7" cy="1168.2"/><circle cx="1233.0" cy="1167.3"/><circle cx="1306.3" cy="1169.0"/><circle cx="1148.4" cy="1163.1"/><circle cx="1233.0" cy="1167.2"/><circle cx="1134.3" cy="1137.5"/><circle cx="1071.9" cy="1135.9"/><circle cx="1233.0" cy="1142.7"/><circle cx="1206.1" cy="1141.4"/><circle cx="1357.9" cy="1146.0"/><circle cx="1265.7" cy="1129.6"/><circle cx="1265.7" cy="1119.8"/><circle cx="1183.7" cy="1102.3"/><circle cx="1233.0" cy="1079.4"/><circle cx="1206.1" cy="1117.9"/><circle cx="1265.7" cy="1091.4"/><circle cx="1183.7" cy="1088.1"/><circle cx="1233.0" cy="1099.3"/><circle cx="1206.1" cy="1103.0"/><circle cx="1206.1" cy="1109.4"/><circle cx="1265.7" cy="1111.7"/><circle cx="1265.7" cy="1084.3"/><circle cx="1306.3" cy="1120.7"/><circle cx="1265.7" cy="1100.0"/><circle cx="1265.7" cy="1120.0"/><circle cx="1183.7" cy="1080.7"/><circle cx="1206.1" cy="1117.3"/><circle cx="1306.3" cy="1096.5"/><circle cx="1183.7" cy="1087.7"/><circle cx="1206.1" cy="1093.3"/><circle cx="1264.8" cy="1193.5"/><circle cx="1264.8" cy="1193.8"/><circle cx="1264.8" cy="1193.8"/><circle cx="1205.5" cy="1191.9"/><circle cx="1232.2" cy="1192.7"/><circle cx="1232.2" cy="1168.3"/><circle cx="1305.3" cy="1170.7"/><circle cx="1232.2" cy="1168.2"/><circle cx="1205.5" cy="1167.7"/><circle cx="1305.3" cy="1146.6"/><circle cx="1264.8" cy="1145.2"/><circle cx="1232.2" cy="1143.9"/><circle cx="1232.2" cy="1144.0"/><circle cx="1264.8" cy="1112.9"/><circle cx="1183.1" cy="1103.9"/><circle cx="1183.1" cy="1098.4"/><circle cx="1164.1" cy="1054.4"/><circle cx="1092.5" cy="1062.0"/><circle cx="1205.5" cy="1118.9"/><circle cx="1264.8" cy="1097.1"/><circle cx="1264.8" cy="1079.0"/><circle cx="1232.2" cy="1100.2"/><circle cx="1264.8" cy="1088.7"/><circle cx="1205.5" cy="1090.1"/><circle cx="1183.1" cy="1078.8"/><circle cx="1183.1" cy="1110.2"/><circle cx="1205.5" cy="1071.3"/><circle cx="1232.2" cy="1051.3"/><circle cx="1183.1" cy="1062.1"/><circle cx="1423.0" cy="1198.0"/><circle cx="1264.0" cy="1195.3"/><circle cx="1231.5" cy="1194.3"/><circle cx="1264.0" cy="1195.3"/><circle cx="1231.5" cy="1170.0"/><circle cx="1304.4" cy="1172.0"/><circle cx="1355.7" cy="1173.4"/><circle cx="1264.0" cy="1171.0"/><circle cx="1147.4" cy="1141.3"/><circle cx="1231.5" cy="1145.6"/><circle cx="1264.0" cy="1147.1"/><circle cx="1163.6" cy="1142.5"/><circle cx="1163.6" cy="1142.6"/><circle cx="1304.4" cy="1081.9"/><circle cx="1231.5" cy="1059.3"/><circle cx="1231.5" cy="1107.0"/><circle cx="1304.4" cy="1123.1"/><circle cx="1133.3" cy="1087.4"/><circle cx="1204.8" cy="1120.4"/><circle cx="1231.5" cy="1107.2"/><circle cx="1204.8" cy="1106.6"/><circle cx="1264.0" cy="1056.6"/><circle cx="1264.0" cy="1093.9"/><circle cx="1182.5" cy="1105.4"/><circle cx="1204.8" cy="1119.9"/><circle cx="1355.7" cy="1110.6"/><circle cx="1147.4" cy="1068.6"/><circle cx="1264.0" cy="1132.4"/><circle cx="1204.1" cy="1194.5"/><circle cx="1163.0" cy="1192.5"/><circle cx="1303.5" cy="1197.9"/><circle cx="1163.0" cy="1167.9"/><circle cx="1204.1" cy="1170.5"/><circle cx="1181.9" cy="1169.5"/><circle cx="1163.0" cy="1168.3"/><circle cx="1230.8" cy="1146.8"/><circle cx="1204.1" cy="1145.7"/><circle cx="1354.7" cy="1149.8"/><circle cx="1263.2" cy="1147.7"/><circle cx="1163.0" cy="1105.1"/><circle cx="1109.9" cy="1076.4"/><circle cx="1230.8" cy="1070.4"/><circle cx="1163.0" cy="1112.0"/><circle cx="1230.8" cy="1108.8"/><circle cx="1230.8" cy="1123.2"/><circle cx="1263.2" cy="1123.6"/><circle cx="1354.7" cy="1073.7"/><circle cx="1263.2" cy="1040.4"/><circle cx="1204.1" cy="1132.2"/><circle cx="1181.9" cy="1120.9"/><circle cx="1203.5" cy="1196.1"/><circle cx="1302.6" cy="1199.1"/><circle cx="1353.6" cy="1176.3"/><circle cx="1181.3" cy="1171.0"/><circle cx="1302.6" cy="1175.1"/><circle cx="1353.6" cy="1151.5"/><circle cx="1302.6" cy="1150.9"/><circle cx="1230.1" cy="1148.4"/><circle cx="1230.1" cy="1148.7"/><circle cx="1262.4" cy="1083.2"/><circle cx="1262.4" cy="1089.6"/><circle cx="1203.5" cy="1122.8"/><circle cx="1230.1" cy="1134.1"/><circle cx="1420.6" cy="1096.7"/><circle cx="1203.5" cy="1123.0"/><circle cx="1262.4" cy="1135.3"/><circle cx="1203.5" cy="1123.1"/><circle cx="1262.4" cy="1105.4"/><circle cx="1262.4" cy="1135.1"/><circle cx="1202.9" cy="1197.6"/><circle cx="1229.4" cy="1198.5"/><circle cx="1202.9" cy="1172.8"/><circle cx="1229.4" cy="1174.6"/><circle cx="1162.0" cy="1146.5"/><circle cx="1229.4" cy="1149.5"/><circle cx="1229.4" cy="1111.7"/><circle cx="1261.6" cy="1112.8"/><circle cx="1301.7" cy="1038.8"/><circle cx="1202.9" cy="1070.9"/><circle cx="1162.0" cy="1132.2"/><circle cx="1229.4" cy="1125.7"/><circle cx="1301.7" cy="1082.9"/><circle cx="1260.9" cy="1201.0"/><circle cx="1228.7" cy="1175.4"/><circle cx="1161.4" cy="1147.8"/><circle cx="1228.7" cy="1102.8"/><circle cx="1228.7" cy="1137.3"/><circle cx="1228.7" cy="1107.3"/><circle cx="1228.7" cy="1081.4"/><circle cx="1260.9" cy="1068.3"/><circle cx="1179.6" cy="1198.9"/><circle cx="1260.1" cy="1073.3"/><circle cx="1300.0" cy="1032.5"/><circle cx="1144.9" cy="1081.9"/><circle cx="1260.1" cy="1129.2"/><circle cx="1227.3" cy="1202.7"/><circle cx="1144.5" cy="1078.2"/><circle cx="1201.0" cy="1052.3"/><circle cx="1226.7" cy="1073.2"/><circle cx="1226.0" cy="1078.3"/><circle cx="1177.4" cy="1117.9"/><circle cx="1345.9" cy="1094.8"/><circle cx="1158.0" cy="1102.1"/><circle cx="1175.9" cy="1107.6"/><circle cx="1293.5" cy="1128.0"/><circle cx="1156.6" cy="1071.7"/><circle cx="1291.3" cy="1138.6"/><circle cx="1217.0" cy="916.7"/><circle cx="1242.7" cy="927.4"/><circle cx="1265.7" cy="934.8"/><circle cx="1330.9" cy="918.8"/><circle cx="1247.6" cy="964.3"/><circle cx="1247.6" cy="971.9"/><circle cx="1279.4" cy="968.2"/><circle cx="1351.7" cy="979.1"/><circle cx="1273.4" cy="988.9"/><circle cx="1215.9" cy="987.8"/><circle cx="1195.1" cy="991.8"/><circle cx="1202.2" cy="993.9"/><circle cx="1245.4" cy="996.2"/><circle cx="1240.0" cy="996.2"/><circle cx="1306.8" cy="1000.1"/><circle cx="1103.0" cy="998.3"/><circle cx="1209.3" cy="1002.2"/><circle cx="1212.0" cy="1004.8"/><circle cx="1260.8" cy="1006.0"/><circle cx="1268.4" cy="1010.6"/><circle cx="1189.0" cy="1009.5"/><circle cx="1220.8" cy="1013.3"/></g>
<path d="M983.1 1122.1H1604.7" stroke="#d05050" stroke-width="1.5"/>
</svg></body></html>
